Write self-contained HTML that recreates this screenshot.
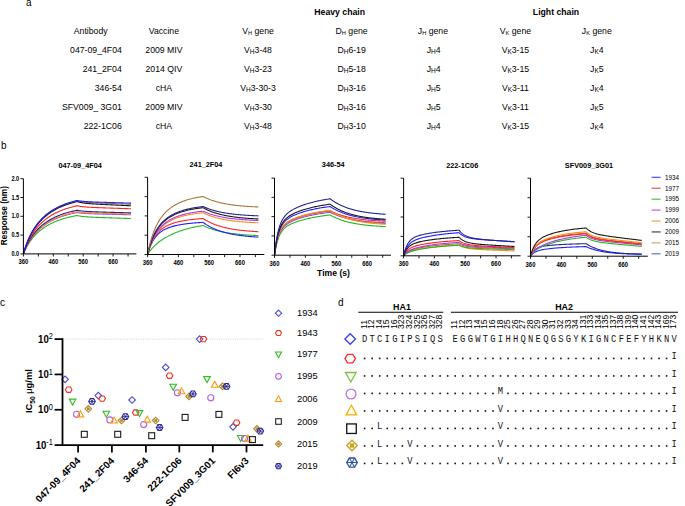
<!DOCTYPE html>
<html><head><meta charset="utf-8"><title>Figure</title>
<style>
html,body{margin:0;padding:0;background:#fff;}
body{width:685px;height:506px;overflow:hidden;}
svg{display:block;}
svg text{font-family:"Liberation Sans", sans-serif;}
</style></head><body>
<svg width="685" height="506" viewBox="0 0 685 506">
<rect width="685" height="506" fill="#fff"/>
<text x="26.00" y="5.70" font-size="10" text-anchor="start" font-weight="normal" fill="#000" >a</text>
<text x="339.70" y="15.20" font-size="8.7" text-anchor="middle" font-weight="bold" fill="#000" >Heavy chain</text>
<text x="556.00" y="15.20" font-size="8.7" text-anchor="middle" font-weight="bold" fill="#000" >Light chain</text>
<text x="90.70" y="34.30" font-size="8.7" text-anchor="middle" font-weight="normal" fill="#000" >Antibody</text>
<text x="163.90" y="34.30" font-size="8.7" text-anchor="middle" font-weight="normal" fill="#000" >Vaccine</text>
<text x="258.00" y="34.30" font-size="8.7" text-anchor="middle" font-weight="normal" fill="#000" >V<tspan font-size="5.7" dy="0.4">H</tspan><tspan dy="-0.4"> gene</tspan></text>
<text x="351.60" y="34.30" font-size="8.7" text-anchor="middle" font-weight="normal" fill="#000" >D<tspan font-size="5.7" dy="0.4">H</tspan><tspan dy="-0.4"> gene</tspan></text>
<text x="432.90" y="34.30" font-size="8.7" text-anchor="middle" font-weight="normal" fill="#000" >J<tspan font-size="5.7" dy="0.4">H</tspan><tspan dy="-0.4"> gene</tspan></text>
<text x="515.40" y="34.30" font-size="8.7" text-anchor="middle" font-weight="normal" fill="#000" >V<tspan font-size="5.7" dy="0.4">K</tspan><tspan dy="-0.4"> gene</tspan></text>
<text x="596.80" y="34.30" font-size="8.7" text-anchor="middle" font-weight="normal" fill="#000" >J<tspan font-size="5.7" dy="0.4">K</tspan><tspan dy="-0.4"> gene</tspan></text>
<text x="121.80" y="53.30" font-size="8.7" text-anchor="end" font-weight="normal" fill="#000" >047-09_4F04</text>
<text x="163.90" y="53.30" font-size="8.7" text-anchor="middle" font-weight="normal" fill="#000" >2009 MIV</text>
<text x="258.00" y="53.30" font-size="8.7" text-anchor="middle" font-weight="normal" fill="#000" >V<tspan font-size="6.5" dy="1.1">H</tspan><tspan dy="-1.1">3-48</tspan></text>
<text x="351.60" y="53.30" font-size="8.7" text-anchor="middle" font-weight="normal" fill="#000" >D<tspan font-size="6.5" dy="1.1">H</tspan><tspan dy="-1.1">6-19</tspan></text>
<text x="433.60" y="53.30" font-size="8.7" text-anchor="middle" font-weight="normal" fill="#000" >J<tspan font-size="6.5" dy="1.1">H</tspan><tspan dy="-1.1">4</tspan></text>
<text x="515.40" y="53.30" font-size="8.7" text-anchor="middle" font-weight="normal" fill="#000" >V<tspan font-size="6.5" dy="1.1">K</tspan><tspan dy="-1.1">3-15</tspan></text>
<text x="596.80" y="53.30" font-size="8.7" text-anchor="middle" font-weight="normal" fill="#000" >J<tspan font-size="6.5" dy="1.1">K</tspan><tspan dy="-1.1">4</tspan></text>
<text x="121.80" y="72.10" font-size="8.7" text-anchor="end" font-weight="normal" fill="#000" >241_2F04</text>
<text x="163.90" y="72.10" font-size="8.7" text-anchor="middle" font-weight="normal" fill="#000" >2014 QIV</text>
<text x="258.00" y="72.10" font-size="8.7" text-anchor="middle" font-weight="normal" fill="#000" >V<tspan font-size="6.5" dy="1.1">H</tspan><tspan dy="-1.1">3-23</tspan></text>
<text x="351.60" y="72.10" font-size="8.7" text-anchor="middle" font-weight="normal" fill="#000" >D<tspan font-size="6.5" dy="1.1">H</tspan><tspan dy="-1.1">5-18</tspan></text>
<text x="433.60" y="72.10" font-size="8.7" text-anchor="middle" font-weight="normal" fill="#000" >J<tspan font-size="6.5" dy="1.1">H</tspan><tspan dy="-1.1">4</tspan></text>
<text x="515.40" y="72.10" font-size="8.7" text-anchor="middle" font-weight="normal" fill="#000" >V<tspan font-size="6.5" dy="1.1">K</tspan><tspan dy="-1.1">3-15</tspan></text>
<text x="596.80" y="72.10" font-size="8.7" text-anchor="middle" font-weight="normal" fill="#000" >J<tspan font-size="6.5" dy="1.1">K</tspan><tspan dy="-1.1">5</tspan></text>
<text x="121.80" y="90.90" font-size="8.7" text-anchor="end" font-weight="normal" fill="#000" >346-54</text>
<text x="163.90" y="90.90" font-size="8.7" text-anchor="middle" font-weight="normal" fill="#000" >cHA</text>
<text x="258.00" y="90.90" font-size="8.7" text-anchor="middle" font-weight="normal" fill="#000" >V<tspan font-size="6.5" dy="1.1">H</tspan><tspan dy="-1.1">3-30-3</tspan></text>
<text x="351.60" y="90.90" font-size="8.7" text-anchor="middle" font-weight="normal" fill="#000" >D<tspan font-size="6.5" dy="1.1">H</tspan><tspan dy="-1.1">3-16</tspan></text>
<text x="433.60" y="90.90" font-size="8.7" text-anchor="middle" font-weight="normal" fill="#000" >J<tspan font-size="6.5" dy="1.1">H</tspan><tspan dy="-1.1">5</tspan></text>
<text x="515.40" y="90.90" font-size="8.7" text-anchor="middle" font-weight="normal" fill="#000" >V<tspan font-size="6.5" dy="1.1">K</tspan><tspan dy="-1.1">3-11</tspan></text>
<text x="596.80" y="90.90" font-size="8.7" text-anchor="middle" font-weight="normal" fill="#000" >J<tspan font-size="6.5" dy="1.1">K</tspan><tspan dy="-1.1">4</tspan></text>
<text x="121.80" y="109.80" font-size="8.7" text-anchor="end" font-weight="normal" fill="#000" >SFV009_ 3G01</text>
<text x="163.90" y="109.80" font-size="8.7" text-anchor="middle" font-weight="normal" fill="#000" >2009 MIV</text>
<text x="258.00" y="109.80" font-size="8.7" text-anchor="middle" font-weight="normal" fill="#000" >V<tspan font-size="6.5" dy="1.1">H</tspan><tspan dy="-1.1">3-30</tspan></text>
<text x="351.60" y="109.80" font-size="8.7" text-anchor="middle" font-weight="normal" fill="#000" >D<tspan font-size="6.5" dy="1.1">H</tspan><tspan dy="-1.1">3-16</tspan></text>
<text x="433.60" y="109.80" font-size="8.7" text-anchor="middle" font-weight="normal" fill="#000" >J<tspan font-size="6.5" dy="1.1">H</tspan><tspan dy="-1.1">5</tspan></text>
<text x="515.40" y="109.80" font-size="8.7" text-anchor="middle" font-weight="normal" fill="#000" >V<tspan font-size="6.5" dy="1.1">K</tspan><tspan dy="-1.1">3-11</tspan></text>
<text x="596.80" y="109.80" font-size="8.7" text-anchor="middle" font-weight="normal" fill="#000" >J<tspan font-size="6.5" dy="1.1">K</tspan><tspan dy="-1.1">5</tspan></text>
<text x="121.80" y="128.60" font-size="8.7" text-anchor="end" font-weight="normal" fill="#000" >222-1C06</text>
<text x="163.90" y="128.60" font-size="8.7" text-anchor="middle" font-weight="normal" fill="#000" >cHA</text>
<text x="258.00" y="128.60" font-size="8.7" text-anchor="middle" font-weight="normal" fill="#000" >V<tspan font-size="6.5" dy="1.1">H</tspan><tspan dy="-1.1">3-48</tspan></text>
<text x="351.60" y="128.60" font-size="8.7" text-anchor="middle" font-weight="normal" fill="#000" >D<tspan font-size="6.5" dy="1.1">H</tspan><tspan dy="-1.1">3-10</tspan></text>
<text x="433.60" y="128.60" font-size="8.7" text-anchor="middle" font-weight="normal" fill="#000" >J<tspan font-size="6.5" dy="1.1">H</tspan><tspan dy="-1.1">4</tspan></text>
<text x="515.40" y="128.60" font-size="8.7" text-anchor="middle" font-weight="normal" fill="#000" >V<tspan font-size="6.5" dy="1.1">K</tspan><tspan dy="-1.1">3-15</tspan></text>
<text x="596.80" y="128.60" font-size="8.7" text-anchor="middle" font-weight="normal" fill="#000" >J<tspan font-size="6.5" dy="1.1">K</tspan><tspan dy="-1.1">4</tspan></text>
<text x="1.00" y="149.00" font-size="10" text-anchor="start" font-weight="normal" fill="#000" >b</text>
<text x="80.10" y="168.40" font-size="7.3" text-anchor="middle" font-weight="bold" fill="#000" >047-09_4F04</text>
<path d="M23.40,253.90 L23.70,253.19 L24.00,252.49 L24.30,251.82 L24.60,251.16 L24.89,250.51 L25.19,249.89 L25.49,249.28 L25.79,248.68 L26.09,248.09 L26.39,247.53 L27.29,245.89 L28.18,244.37 L29.08,242.94 L29.98,241.60 L30.88,240.33 L31.77,239.14 L32.67,238.01 L33.57,236.95 L34.46,235.93 L35.36,234.97 L36.26,234.05 L37.15,233.18 L38.05,232.35 L38.95,231.55 L39.84,230.79 L40.74,230.07 L41.64,229.37 L42.54,228.70 L43.43,228.06 L44.33,227.45 L45.23,226.86 L46.12,226.29 L47.02,225.75 L47.92,225.23 L48.81,224.72 L49.71,224.24 L50.61,223.77 L51.51,223.33 L52.40,222.89 L53.30,222.48 L54.20,222.08 L55.09,221.69 L55.99,221.32 L56.89,220.96 L57.78,220.62 L58.68,220.29 L59.58,219.97 L60.48,219.66 L61.37,219.36 L62.27,219.07 L63.17,218.80 L64.06,218.53 L64.96,218.27 L65.86,218.02 L66.75,217.78 L67.65,217.55 L68.55,217.33 L69.45,217.12 L70.34,216.91 L71.24,216.71 L72.14,216.52 L73.03,216.33 L73.93,216.15 L74.83,215.98 L75.72,215.81 L76.62,215.65 L77.22,215.55 L77.82,215.68 L78.42,215.81 L79.01,215.92 L79.61,216.02 L80.21,216.12 L80.81,216.21 L81.41,216.29 L82.00,216.37 L82.60,216.44 L83.20,216.51 L83.80,216.57 L84.40,216.63 L84.99,216.68 L85.59,216.74 L86.19,216.78 L86.79,216.83 L87.39,216.87 L87.98,216.91 L88.58,216.95 L89.18,216.99 L89.78,217.03 L90.38,217.06 L90.97,217.09 L91.57,217.12 L92.17,217.15 L92.77,217.18 L93.37,217.21 L93.96,217.24 L94.56,217.27 L95.16,217.29 L95.76,217.32 L96.36,217.34 L96.95,217.37 L97.55,217.39 L98.15,217.42 L98.75,217.44 L99.35,217.46 L99.94,217.49 L100.54,217.51 L101.14,217.53 L101.74,217.55 L102.34,217.58 L102.93,217.60 L103.53,217.62 L104.13,217.64 L104.73,217.66 L105.33,217.68 L105.92,217.70 L106.52,217.73 L107.12,217.75 L107.72,217.77 L108.32,217.79 L108.91,217.81 L109.51,217.83 L110.11,217.85 L110.71,217.87 L111.31,217.89 L111.90,217.91 L112.50,217.93 L113.10,217.95 L113.70,217.97 L114.30,217.99 L114.89,218.01 L115.49,218.03 L116.09,218.05 L116.69,218.07 L117.29,218.09 L117.88,218.11 L118.48,218.13 L119.08,218.15 L119.68,218.17 L120.28,218.19 L120.87,218.21 L121.47,218.23 L122.07,218.25 L122.67,218.27 L123.27,218.29 L123.86,218.32 L124.46,218.34 L125.06,218.36 L125.66,218.38 L126.26,218.40 L126.85,218.42 L127.45,218.44 L128.05,218.46 L128.65,218.48 L129.25,218.50 L129.84,218.52 L130.44,218.54 L131.04,218.56" fill="none" stroke="#22b822" stroke-width="1.1" stroke-linejoin="round"/>
<path d="M23.40,253.90 L23.70,253.12 L24.00,252.35 L24.30,251.61 L24.60,250.88 L24.89,250.18 L25.19,249.49 L25.49,248.82 L25.79,248.17 L26.09,247.53 L26.39,246.91 L27.29,245.12 L28.18,243.46 L29.08,241.91 L29.98,240.45 L30.88,239.08 L31.77,237.79 L32.67,236.57 L33.57,235.42 L34.46,234.33 L35.36,233.29 L36.26,232.30 L37.15,231.37 L38.05,230.47 L38.95,229.62 L39.84,228.81 L40.74,228.03 L41.64,227.28 L42.54,226.57 L43.43,225.88 L44.33,225.23 L45.23,224.60 L46.12,223.99 L47.02,223.41 L47.92,222.85 L48.81,222.32 L49.71,221.80 L50.61,221.30 L51.51,220.82 L52.40,220.36 L53.30,219.92 L54.20,219.50 L55.09,219.08 L55.99,218.69 L56.89,218.31 L57.78,217.94 L58.68,217.59 L59.58,217.24 L60.48,216.92 L61.37,216.60 L62.27,216.29 L63.17,216.00 L64.06,215.71 L64.96,215.44 L65.86,215.18 L66.75,214.92 L67.65,214.67 L68.55,214.44 L69.45,214.21 L70.34,213.99 L71.24,213.78 L72.14,213.57 L73.03,213.37 L73.93,213.18 L74.83,213.00 L75.72,212.82 L76.62,212.65 L77.22,212.54 L77.82,212.64 L78.42,212.73 L79.01,212.82 L79.61,212.90 L80.21,212.97 L80.81,213.04 L81.41,213.10 L82.00,213.16 L82.60,213.21 L83.20,213.26 L83.80,213.31 L84.40,213.35 L84.99,213.39 L85.59,213.43 L86.19,213.47 L86.79,213.50 L87.39,213.53 L87.98,213.56 L88.58,213.59 L89.18,213.62 L89.78,213.65 L90.38,213.67 L90.97,213.70 L91.57,213.72 L92.17,213.74 L92.77,213.77 L93.37,213.79 L93.96,213.81 L94.56,213.83 L95.16,213.85 L95.76,213.87 L96.36,213.89 L96.95,213.91 L97.55,213.92 L98.15,213.94 L98.75,213.96 L99.35,213.98 L99.94,213.99 L100.54,214.01 L101.14,214.03 L101.74,214.04 L102.34,214.06 L102.93,214.08 L103.53,214.09 L104.13,214.11 L104.73,214.13 L105.33,214.14 L105.92,214.16 L106.52,214.17 L107.12,214.19 L107.72,214.20 L108.32,214.22 L108.91,214.24 L109.51,214.25 L110.11,214.27 L110.71,214.28 L111.31,214.30 L111.90,214.31 L112.50,214.33 L113.10,214.34 L113.70,214.36 L114.30,214.37 L114.89,214.39 L115.49,214.40 L116.09,214.42 L116.69,214.43 L117.29,214.45 L117.88,214.46 L118.48,214.48 L119.08,214.49 L119.68,214.51 L120.28,214.52 L120.87,214.54 L121.47,214.55 L122.07,214.57 L122.67,214.59 L123.27,214.60 L123.86,214.62 L124.46,214.63 L125.06,214.65 L125.66,214.66 L126.26,214.68 L126.85,214.69 L127.45,214.71 L128.05,214.72 L128.65,214.74 L129.25,214.75 L129.84,214.77 L130.44,214.78 L131.04,214.80" fill="none" stroke="#a83ce8" stroke-width="1.1" stroke-linejoin="round"/>
<path d="M23.40,253.90 L23.70,253.10 L24.00,252.32 L24.30,251.57 L24.60,250.83 L24.89,250.11 L25.19,249.41 L25.49,248.73 L25.79,248.06 L26.09,247.41 L26.39,246.78 L27.29,244.96 L28.18,243.27 L29.08,241.69 L29.98,240.21 L30.88,238.81 L31.77,237.50 L32.67,236.25 L33.57,235.08 L34.46,233.97 L35.36,232.91 L36.26,231.91 L37.15,230.96 L38.05,230.05 L38.95,229.18 L39.84,228.35 L40.74,227.56 L41.64,226.80 L42.54,226.07 L43.43,225.37 L44.33,224.70 L45.23,224.06 L46.12,223.45 L47.02,222.86 L47.92,222.29 L48.81,221.74 L49.71,221.22 L50.61,220.71 L51.51,220.22 L52.40,219.76 L53.30,219.30 L54.20,218.87 L55.09,218.45 L55.99,218.05 L56.89,217.66 L57.78,217.29 L58.68,216.93 L59.58,216.58 L60.48,216.24 L61.37,215.92 L62.27,215.61 L63.17,215.31 L64.06,215.02 L64.96,214.74 L65.86,214.47 L66.75,214.21 L67.65,213.96 L68.55,213.72 L69.45,213.49 L70.34,213.26 L71.24,213.05 L72.14,212.84 L73.03,212.64 L73.93,212.44 L74.83,212.26 L75.72,212.07 L76.62,211.90 L77.22,211.79 L77.82,211.89 L78.42,211.98 L79.01,212.07 L79.61,212.15 L80.21,212.22 L80.81,212.29 L81.41,212.35 L82.00,212.41 L82.60,212.46 L83.20,212.51 L83.80,212.56 L84.40,212.60 L84.99,212.64 L85.59,212.68 L86.19,212.71 L86.79,212.75 L87.39,212.78 L87.98,212.81 L88.58,212.84 L89.18,212.87 L89.78,212.90 L90.38,212.92 L90.97,212.95 L91.57,212.97 L92.17,212.99 L92.77,213.01 L93.37,213.04 L93.96,213.06 L94.56,213.08 L95.16,213.10 L95.76,213.12 L96.36,213.14 L96.95,213.15 L97.55,213.17 L98.15,213.19 L98.75,213.21 L99.35,213.22 L99.94,213.24 L100.54,213.26 L101.14,213.28 L101.74,213.29 L102.34,213.31 L102.93,213.32 L103.53,213.34 L104.13,213.36 L104.73,213.37 L105.33,213.39 L105.92,213.41 L106.52,213.42 L107.12,213.44 L107.72,213.45 L108.32,213.47 L108.91,213.48 L109.51,213.50 L110.11,213.51 L110.71,213.53 L111.31,213.54 L111.90,213.56 L112.50,213.58 L113.10,213.59 L113.70,213.61 L114.30,213.62 L114.89,213.64 L115.49,213.65 L116.09,213.67 L116.69,213.68 L117.29,213.70 L117.88,213.71 L118.48,213.73 L119.08,213.74 L119.68,213.76 L120.28,213.77 L120.87,213.79 L121.47,213.80 L122.07,213.82 L122.67,213.83 L123.27,213.85 L123.86,213.86 L124.46,213.88 L125.06,213.89 L125.66,213.91 L126.26,213.92 L126.85,213.94 L127.45,213.95 L128.05,213.97 L128.65,213.98 L129.25,214.00 L129.84,214.01 L130.44,214.03 L131.04,214.04" fill="none" stroke="#ff8a1e" stroke-width="1.1" stroke-linejoin="round"/>
<path d="M23.40,253.90 L23.70,252.85 L24.00,251.84 L24.30,250.85 L24.60,249.89 L24.89,248.95 L25.19,248.04 L25.49,247.15 L25.79,246.29 L26.09,245.45 L26.39,244.63 L27.29,242.29 L28.18,240.11 L29.08,238.09 L29.98,236.19 L30.88,234.42 L31.77,232.75 L32.67,231.18 L33.57,229.70 L34.46,228.30 L35.36,226.98 L36.26,225.72 L37.15,224.53 L38.05,223.40 L38.95,222.31 L39.84,221.28 L40.74,220.30 L41.64,219.36 L42.54,218.46 L43.43,217.59 L44.33,216.77 L45.23,215.98 L46.12,215.22 L47.02,214.49 L47.92,213.78 L48.81,213.11 L49.71,212.46 L50.61,211.84 L51.51,211.24 L52.40,210.67 L53.30,210.11 L54.20,209.58 L55.09,209.06 L55.99,208.57 L56.89,208.09 L57.78,207.63 L58.68,207.19 L59.58,206.76 L60.48,206.35 L61.37,205.95 L62.27,205.57 L63.17,205.20 L64.06,204.85 L64.96,204.51 L65.86,204.18 L66.75,203.86 L67.65,203.55 L68.55,203.25 L69.45,202.97 L70.34,202.69 L71.24,202.43 L72.14,202.17 L73.03,201.93 L73.93,201.69 L74.83,201.46 L75.72,201.24 L76.62,201.02 L77.22,200.88 L77.82,201.04 L78.42,201.17 L79.01,201.30 L79.61,201.42 L80.21,201.53 L80.81,201.63 L81.41,201.72 L82.00,201.81 L82.60,201.89 L83.20,201.97 L83.80,202.04 L84.40,202.10 L84.99,202.16 L85.59,202.22 L86.19,202.27 L86.79,202.33 L87.39,202.37 L87.98,202.42 L88.58,202.46 L89.18,202.51 L89.78,202.55 L90.38,202.58 L90.97,202.62 L91.57,202.66 L92.17,202.69 L92.77,202.72 L93.37,202.76 L93.96,202.79 L94.56,202.82 L95.16,202.85 L95.76,202.88 L96.36,202.90 L96.95,202.93 L97.55,202.96 L98.15,202.99 L98.75,203.01 L99.35,203.04 L99.94,203.06 L100.54,203.09 L101.14,203.12 L101.74,203.14 L102.34,203.16 L102.93,203.19 L103.53,203.21 L104.13,203.24 L104.73,203.26 L105.33,203.29 L105.92,203.31 L106.52,203.33 L107.12,203.36 L107.72,203.38 L108.32,203.40 L108.91,203.43 L109.51,203.45 L110.11,203.47 L110.71,203.50 L111.31,203.52 L111.90,203.54 L112.50,203.57 L113.10,203.59 L113.70,203.61 L114.30,203.63 L114.89,203.66 L115.49,203.68 L116.09,203.70 L116.69,203.72 L117.29,203.75 L117.88,203.77 L118.48,203.79 L119.08,203.82 L119.68,203.84 L120.28,203.86 L120.87,203.88 L121.47,203.91 L122.07,203.93 L122.67,203.95 L123.27,203.97 L123.86,204.00 L124.46,204.02 L125.06,204.04 L125.66,204.06 L126.26,204.09 L126.85,204.11 L127.45,204.13 L128.05,204.16 L128.65,204.18 L129.25,204.20 L129.84,204.22 L130.44,204.25 L131.04,204.27" fill="none" stroke="#a8783a" stroke-width="1.1" stroke-linejoin="round"/>
<path d="M23.40,253.90 L23.70,253.06 L24.00,252.23 L24.30,251.44 L24.60,250.66 L24.89,249.90 L25.19,249.16 L25.49,248.45 L25.79,247.75 L26.09,247.06 L26.39,246.40 L27.29,244.50 L28.18,242.73 L29.08,241.07 L29.98,239.52 L30.88,238.07 L31.77,236.71 L32.67,235.42 L33.57,234.20 L34.46,233.05 L35.36,231.96 L36.26,230.92 L37.15,229.94 L38.05,229.00 L38.95,228.10 L39.84,227.25 L40.74,226.44 L41.64,225.65 L42.54,224.91 L43.43,224.19 L44.33,223.51 L45.23,222.85 L46.12,222.22 L47.02,221.61 L47.92,221.03 L48.81,220.47 L49.71,219.93 L50.61,219.41 L51.51,218.91 L52.40,218.43 L53.30,217.97 L54.20,217.53 L55.09,217.10 L55.99,216.69 L56.89,216.29 L57.78,215.91 L58.68,215.54 L59.58,215.18 L60.48,214.84 L61.37,214.51 L62.27,214.19 L63.17,213.88 L64.06,213.59 L64.96,213.30 L65.86,213.03 L66.75,212.76 L67.65,212.51 L68.55,212.26 L69.45,212.02 L70.34,211.79 L71.24,211.57 L72.14,211.36 L73.03,211.15 L73.93,210.95 L74.83,210.76 L75.72,210.58 L76.62,210.40 L77.22,210.28 L77.82,210.40 L78.42,210.51 L79.01,210.61 L79.61,210.70 L80.21,210.79 L80.81,210.86 L81.41,210.94 L82.00,211.00 L82.60,211.07 L83.20,211.13 L83.80,211.18 L84.40,211.23 L84.99,211.28 L85.59,211.32 L86.19,211.37 L86.79,211.41 L87.39,211.44 L87.98,211.48 L88.58,211.51 L89.18,211.55 L89.78,211.58 L90.38,211.61 L90.97,211.63 L91.57,211.66 L92.17,211.69 L92.77,211.71 L93.37,211.74 L93.96,211.76 L94.56,211.79 L95.16,211.81 L95.76,211.83 L96.36,211.86 L96.95,211.88 L97.55,211.90 L98.15,211.92 L98.75,211.94 L99.35,211.96 L99.94,211.98 L100.54,212.00 L101.14,212.02 L101.74,212.04 L102.34,212.06 L102.93,212.08 L103.53,212.10 L104.13,212.11 L104.73,212.13 L105.33,212.15 L105.92,212.17 L106.52,212.19 L107.12,212.21 L107.72,212.23 L108.32,212.24 L108.91,212.26 L109.51,212.28 L110.11,212.30 L110.71,212.32 L111.31,212.33 L111.90,212.35 L112.50,212.37 L113.10,212.39 L113.70,212.40 L114.30,212.42 L114.89,212.44 L115.49,212.46 L116.09,212.48 L116.69,212.49 L117.29,212.51 L117.88,212.53 L118.48,212.55 L119.08,212.56 L119.68,212.58 L120.28,212.60 L120.87,212.62 L121.47,212.63 L122.07,212.65 L122.67,212.67 L123.27,212.69 L123.86,212.71 L124.46,212.72 L125.06,212.74 L125.66,212.76 L126.26,212.78 L126.85,212.79 L127.45,212.81 L128.05,212.83 L128.65,212.85 L129.25,212.86 L129.84,212.88 L130.44,212.90 L131.04,212.92" fill="none" stroke="#24248c" stroke-width="1.1" stroke-linejoin="round"/>
<path d="M23.40,253.90 L23.70,252.97 L24.00,252.06 L24.30,251.18 L24.60,250.32 L24.89,249.49 L25.19,248.67 L25.49,247.88 L25.79,247.11 L26.09,246.36 L26.39,245.62 L27.29,243.52 L28.18,241.57 L29.08,239.74 L29.98,238.04 L30.88,236.43 L31.77,234.93 L32.67,233.51 L33.57,232.16 L34.46,230.89 L35.36,229.69 L36.26,228.55 L37.15,227.46 L38.05,226.42 L38.95,225.44 L39.84,224.49 L40.74,223.59 L41.64,222.73 L42.54,221.91 L43.43,221.12 L44.33,220.36 L45.23,219.64 L46.12,218.94 L47.02,218.27 L47.92,217.63 L48.81,217.01 L49.71,216.42 L50.61,215.84 L51.51,215.29 L52.40,214.76 L53.30,214.26 L54.20,213.76 L55.09,213.29 L55.99,212.84 L56.89,212.40 L57.78,211.98 L58.68,211.57 L59.58,211.18 L60.48,210.80 L61.37,210.43 L62.27,210.08 L63.17,209.74 L64.06,209.42 L64.96,209.10 L65.86,208.80 L66.75,208.51 L67.65,208.22 L68.55,207.95 L69.45,207.69 L70.34,207.44 L71.24,207.19 L72.14,206.96 L73.03,206.73 L73.93,206.51 L74.83,206.30 L75.72,206.10 L76.62,205.90 L77.22,205.77 L77.82,205.91 L78.42,206.03 L79.01,206.14 L79.61,206.25 L80.21,206.35 L80.81,206.44 L81.41,206.52 L82.00,206.60 L82.60,206.67 L83.20,206.73 L83.80,206.80 L84.40,206.85 L84.99,206.91 L85.59,206.96 L86.19,207.01 L86.79,207.05 L87.39,207.10 L87.98,207.14 L88.58,207.18 L89.18,207.21 L89.78,207.25 L90.38,207.28 L90.97,207.32 L91.57,207.35 L92.17,207.38 L92.77,207.41 L93.37,207.44 L93.96,207.46 L94.56,207.49 L95.16,207.52 L95.76,207.54 L96.36,207.57 L96.95,207.59 L97.55,207.62 L98.15,207.64 L98.75,207.66 L99.35,207.69 L99.94,207.71 L100.54,207.73 L101.14,207.76 L101.74,207.78 L102.34,207.80 L102.93,207.82 L103.53,207.84 L104.13,207.86 L104.73,207.89 L105.33,207.91 L105.92,207.93 L106.52,207.95 L107.12,207.97 L107.72,207.99 L108.32,208.01 L108.91,208.03 L109.51,208.05 L110.11,208.07 L110.71,208.09 L111.31,208.11 L111.90,208.13 L112.50,208.16 L113.10,208.18 L113.70,208.20 L114.30,208.22 L114.89,208.24 L115.49,208.26 L116.09,208.28 L116.69,208.30 L117.29,208.32 L117.88,208.34 L118.48,208.36 L119.08,208.38 L119.68,208.40 L120.28,208.42 L120.87,208.44 L121.47,208.46 L122.07,208.48 L122.67,208.50 L123.27,208.52 L123.86,208.54 L124.46,208.56 L125.06,208.58 L125.66,208.60 L126.26,208.62 L126.85,208.64 L127.45,208.66 L128.05,208.68 L128.65,208.70 L129.25,208.72 L129.84,208.74 L130.44,208.76 L131.04,208.78" fill="none" stroke="#ff2222" stroke-width="1.1" stroke-linejoin="round"/>
<path d="M23.40,253.90 L23.70,252.87 L24.00,251.87 L24.30,250.89 L24.60,249.94 L24.89,249.02 L25.19,248.12 L25.49,247.25 L25.79,246.40 L26.09,245.57 L26.39,244.76 L27.29,242.45 L28.18,240.31 L29.08,238.31 L29.98,236.44 L30.88,234.69 L31.77,233.05 L32.67,231.50 L33.57,230.05 L34.46,228.67 L35.36,227.36 L36.26,226.12 L37.15,224.95 L38.05,223.83 L38.95,222.76 L39.84,221.75 L40.74,220.77 L41.64,219.85 L42.54,218.96 L43.43,218.11 L44.33,217.29 L45.23,216.51 L46.12,215.76 L47.02,215.04 L47.92,214.35 L48.81,213.69 L49.71,213.05 L50.61,212.44 L51.51,211.85 L52.40,211.28 L53.30,210.73 L54.20,210.21 L55.09,209.70 L55.99,209.21 L56.89,208.74 L57.78,208.29 L58.68,207.85 L59.58,207.43 L60.48,207.03 L61.37,206.63 L62.27,206.26 L63.17,205.89 L64.06,205.54 L64.96,205.21 L65.86,204.88 L66.75,204.57 L67.65,204.27 L68.55,203.97 L69.45,203.69 L70.34,203.42 L71.24,203.16 L72.14,202.91 L73.03,202.66 L73.93,202.43 L74.83,202.20 L75.72,201.98 L76.62,201.77 L77.22,201.64 L77.82,201.82 L78.42,201.99 L79.01,202.15 L79.61,202.29 L80.21,202.42 L80.81,202.55 L81.41,202.66 L82.00,202.77 L82.60,202.87 L83.20,202.96 L83.80,203.04 L84.40,203.12 L84.99,203.20 L85.59,203.27 L86.19,203.34 L86.79,203.40 L87.39,203.46 L87.98,203.51 L88.58,203.57 L89.18,203.62 L89.78,203.67 L90.38,203.71 L90.97,203.76 L91.57,203.80 L92.17,203.84 L92.77,203.88 L93.37,203.92 L93.96,203.96 L94.56,204.00 L95.16,204.04 L95.76,204.07 L96.36,204.11 L96.95,204.14 L97.55,204.17 L98.15,204.21 L98.75,204.24 L99.35,204.27 L99.94,204.30 L100.54,204.33 L101.14,204.36 L101.74,204.39 L102.34,204.42 L102.93,204.45 L103.53,204.48 L104.13,204.51 L104.73,204.54 L105.33,204.57 L105.92,204.60 L106.52,204.63 L107.12,204.66 L107.72,204.69 L108.32,204.72 L108.91,204.74 L109.51,204.77 L110.11,204.80 L110.71,204.83 L111.31,204.86 L111.90,204.88 L112.50,204.91 L113.10,204.94 L113.70,204.97 L114.30,205.00 L114.89,205.02 L115.49,205.05 L116.09,205.08 L116.69,205.11 L117.29,205.14 L117.88,205.16 L118.48,205.19 L119.08,205.22 L119.68,205.25 L120.28,205.27 L120.87,205.30 L121.47,205.33 L122.07,205.36 L122.67,205.39 L123.27,205.41 L123.86,205.44 L124.46,205.47 L125.06,205.50 L125.66,205.52 L126.26,205.55 L126.85,205.58 L127.45,205.61 L128.05,205.63 L128.65,205.66 L129.25,205.69 L129.84,205.72 L130.44,205.74 L131.04,205.77" fill="none" stroke="#1a1a1a" stroke-width="1.1" stroke-linejoin="round"/>
<path d="M23.40,253.90 L23.70,252.83 L24.00,251.78 L24.30,250.77 L24.60,249.78 L24.89,248.83 L25.19,247.89 L25.49,246.99 L25.79,246.10 L26.09,245.25 L26.39,244.41 L27.29,242.02 L28.18,239.81 L29.08,237.75 L29.98,235.83 L30.88,234.04 L31.77,232.35 L32.67,230.77 L33.57,229.28 L34.46,227.87 L35.36,226.54 L36.26,225.28 L37.15,224.08 L38.05,222.94 L38.95,221.86 L39.84,220.83 L40.74,219.84 L41.64,218.90 L42.54,218.00 L43.43,217.14 L44.33,216.32 L45.23,215.52 L46.12,214.77 L47.02,214.04 L47.92,213.34 L48.81,212.67 L49.71,212.03 L50.61,211.41 L51.51,210.81 L52.40,210.24 L53.30,209.68 L54.20,209.15 L55.09,208.64 L55.99,208.15 L56.89,207.67 L57.78,207.22 L58.68,206.78 L59.58,206.35 L60.48,205.94 L61.37,205.55 L62.27,205.17 L63.17,204.80 L64.06,204.45 L64.96,204.11 L65.86,203.78 L66.75,203.46 L67.65,203.16 L68.55,202.86 L69.45,202.58 L70.34,202.31 L71.24,202.04 L72.14,201.79 L73.03,201.54 L73.93,201.31 L74.83,201.08 L75.72,200.86 L76.62,200.65 L77.22,200.51 L77.82,200.63 L78.42,200.73 L79.01,200.83 L79.61,200.93 L80.21,201.01 L80.81,201.09 L81.41,201.16 L82.00,201.23 L82.60,201.29 L83.20,201.35 L83.80,201.40 L84.40,201.45 L84.99,201.50 L85.59,201.55 L86.19,201.59 L86.79,201.63 L87.39,201.67 L87.98,201.70 L88.58,201.74 L89.18,201.77 L89.78,201.80 L90.38,201.83 L90.97,201.86 L91.57,201.89 L92.17,201.91 L92.77,201.94 L93.37,201.96 L93.96,201.99 L94.56,202.01 L95.16,202.03 L95.76,202.06 L96.36,202.08 L96.95,202.10 L97.55,202.12 L98.15,202.14 L98.75,202.16 L99.35,202.18 L99.94,202.20 L100.54,202.22 L101.14,202.24 L101.74,202.26 L102.34,202.28 L102.93,202.30 L103.53,202.32 L104.13,202.34 L104.73,202.36 L105.33,202.38 L105.92,202.39 L106.52,202.41 L107.12,202.43 L107.72,202.45 L108.32,202.47 L108.91,202.49 L109.51,202.50 L110.11,202.52 L110.71,202.54 L111.31,202.56 L111.90,202.58 L112.50,202.59 L113.10,202.61 L113.70,202.63 L114.30,202.65 L114.89,202.66 L115.49,202.68 L116.09,202.70 L116.69,202.72 L117.29,202.74 L117.88,202.75 L118.48,202.77 L119.08,202.79 L119.68,202.81 L120.28,202.82 L120.87,202.84 L121.47,202.86 L122.07,202.88 L122.67,202.89 L123.27,202.91 L123.86,202.93 L124.46,202.95 L125.06,202.96 L125.66,202.98 L126.26,203.00 L126.85,203.02 L127.45,203.03 L128.05,203.05 L128.65,203.07 L129.25,203.09 L129.84,203.10 L130.44,203.12 L131.04,203.14" fill="none" stroke="#1f1fff" stroke-width="1.1" stroke-linejoin="round"/>
<path d="M23.40,178.70 V253.90 H136.40" fill="none" stroke="#000" stroke-width="1"/>
<line x1="20.40" y1="253.90" x2="23.40" y2="253.90" stroke="#000" stroke-width="0.9"/>
<text x="0" y="0" font-size="5.9" text-anchor="end" font-weight="bold" fill="#000" transform="translate(19.20 255.90) scale(0.95 1.12)">0.0</text>
<line x1="20.40" y1="235.10" x2="23.40" y2="235.10" stroke="#000" stroke-width="0.9"/>
<text x="0" y="0" font-size="5.9" text-anchor="end" font-weight="bold" fill="#000" transform="translate(19.20 237.10) scale(0.95 1.12)">0.5</text>
<line x1="20.40" y1="216.30" x2="23.40" y2="216.30" stroke="#000" stroke-width="0.9"/>
<text x="0" y="0" font-size="5.9" text-anchor="end" font-weight="bold" fill="#000" transform="translate(19.20 218.30) scale(0.95 1.12)">1.0</text>
<line x1="20.40" y1="197.50" x2="23.40" y2="197.50" stroke="#000" stroke-width="0.9"/>
<text x="0" y="0" font-size="5.9" text-anchor="end" font-weight="bold" fill="#000" transform="translate(19.20 199.50) scale(0.95 1.12)">1.5</text>
<line x1="20.40" y1="178.70" x2="23.40" y2="178.70" stroke="#000" stroke-width="0.9"/>
<text x="0" y="0" font-size="5.9" text-anchor="end" font-weight="bold" fill="#000" transform="translate(19.20 180.70) scale(0.95 1.12)">2.0</text>
<line x1="23.40" y1="253.90" x2="23.40" y2="256.50" stroke="#000" stroke-width="0.9"/>
<text x="0" y="0" font-size="5.9" text-anchor="middle" font-weight="bold" fill="#000" transform="translate(23.40 264.30) scale(1.0 1.15)">360</text>
<line x1="38.35" y1="253.90" x2="38.35" y2="256.50" stroke="#000" stroke-width="0.9"/>
<line x1="53.30" y1="253.90" x2="53.30" y2="256.50" stroke="#000" stroke-width="0.9"/>
<text x="0" y="0" font-size="5.9" text-anchor="middle" font-weight="bold" fill="#000" transform="translate(53.30 264.30) scale(1.0 1.15)">460</text>
<line x1="68.25" y1="253.90" x2="68.25" y2="256.50" stroke="#000" stroke-width="0.9"/>
<line x1="83.20" y1="253.90" x2="83.20" y2="256.50" stroke="#000" stroke-width="0.9"/>
<text x="0" y="0" font-size="5.9" text-anchor="middle" font-weight="bold" fill="#000" transform="translate(83.20 264.30) scale(1.0 1.15)">560</text>
<line x1="98.15" y1="253.90" x2="98.15" y2="256.50" stroke="#000" stroke-width="0.9"/>
<line x1="113.10" y1="253.90" x2="113.10" y2="256.50" stroke="#000" stroke-width="0.9"/>
<text x="0" y="0" font-size="5.9" text-anchor="middle" font-weight="bold" fill="#000" transform="translate(113.10 264.30) scale(1.0 1.15)">660</text>
<line x1="128.05" y1="253.90" x2="128.05" y2="256.50" stroke="#000" stroke-width="0.9"/>
<text x="206.00" y="166.80" font-size="7.3" text-anchor="middle" font-weight="bold" fill="#000" >241_2F04</text>
<path d="M147.60,254.50 L147.91,253.90 L148.22,253.42 L148.52,252.95 L148.83,252.51 L149.14,252.07 L149.45,251.65 L149.76,251.23 L150.06,250.83 L150.37,250.43 L150.68,250.05 L151.60,248.94 L152.53,247.89 L153.45,246.91 L154.38,245.98 L155.30,245.10 L156.22,244.26 L157.15,243.46 L158.07,242.70 L159.00,241.97 L159.92,241.28 L160.84,240.61 L161.77,239.97 L162.69,239.35 L163.62,238.76 L164.54,238.19 L165.46,237.64 L166.39,237.12 L167.31,236.61 L168.24,236.11 L169.16,235.64 L170.08,235.18 L171.01,234.73 L171.93,234.30 L172.86,233.88 L173.78,233.48 L174.70,233.09 L175.63,232.71 L176.55,232.34 L177.48,231.99 L178.40,231.65 L179.32,231.31 L180.25,230.99 L181.17,230.68 L182.10,230.37 L183.02,230.08 L183.94,229.79 L184.87,229.51 L185.79,229.25 L186.72,228.99 L187.64,228.73 L188.56,228.49 L189.49,228.25 L190.41,228.02 L191.34,227.79 L192.26,227.58 L193.18,227.37 L194.11,227.16 L195.03,226.96 L195.96,226.77 L196.88,226.58 L197.80,226.40 L198.73,226.23 L199.65,226.06 L200.58,225.89 L201.50,225.73 L202.42,225.57 L203.04,225.47 L203.66,225.78 L204.27,226.07 L204.89,226.36 L205.50,226.63 L206.12,226.91 L206.74,227.17 L207.35,227.43 L207.97,227.67 L208.58,227.92 L209.20,228.15 L209.82,228.38 L210.43,228.60 L211.05,228.82 L211.66,229.03 L212.28,229.23 L212.90,229.43 L213.51,229.63 L214.13,229.82 L214.74,230.00 L215.36,230.18 L215.98,230.35 L216.59,230.52 L217.21,230.68 L217.82,230.84 L218.44,231.00 L219.06,231.15 L219.67,231.29 L220.29,231.44 L220.90,231.57 L221.52,231.71 L222.14,231.84 L222.75,231.97 L223.37,232.09 L223.98,232.21 L224.60,232.33 L225.22,232.44 L225.83,232.55 L226.45,232.66 L227.06,232.76 L227.68,232.87 L228.30,232.96 L228.91,233.06 L229.53,233.15 L230.14,233.25 L230.76,233.33 L231.38,233.42 L231.99,233.50 L232.61,233.58 L233.22,233.66 L233.84,233.74 L234.46,233.82 L235.07,233.89 L235.69,233.96 L236.30,234.03 L236.92,234.09 L237.54,234.16 L238.15,234.22 L238.77,234.28 L239.38,234.34 L240.00,234.40 L240.62,234.46 L241.23,234.51 L241.85,234.57 L242.46,234.62 L243.08,234.67 L243.70,234.72 L244.31,234.77 L244.93,234.81 L245.54,234.86 L246.16,234.90 L246.78,234.94 L247.39,234.99 L248.01,235.03 L248.62,235.07 L249.24,235.10 L249.86,235.14 L250.47,235.18 L251.09,235.21 L251.70,235.25 L252.32,235.28 L252.94,235.31 L253.55,235.34 L254.17,235.37 L254.78,235.40 L255.40,235.43 L256.02,235.46 L256.63,235.49 L257.25,235.51 L257.86,235.54 L258.48,235.57" fill="none" stroke="#22b822" stroke-width="1.1" stroke-linejoin="round"/>
<path d="M147.60,254.50 L147.91,253.29 L148.22,252.25 L148.52,251.27 L148.83,250.33 L149.14,249.43 L149.45,248.57 L149.76,247.74 L150.06,246.95 L150.37,246.19 L150.68,245.46 L151.60,243.44 L152.53,241.64 L153.45,240.03 L154.38,238.60 L155.30,237.31 L156.22,236.15 L157.15,235.11 L158.07,234.17 L159.00,233.31 L159.92,232.54 L160.84,231.83 L161.77,231.18 L162.69,230.59 L163.62,230.04 L164.54,229.54 L165.46,229.08 L166.39,228.65 L167.31,228.25 L168.24,227.88 L169.16,227.53 L170.08,227.21 L171.01,226.91 L171.93,226.62 L172.86,226.36 L173.78,226.11 L174.70,225.87 L175.63,225.65 L176.55,225.44 L177.48,225.25 L178.40,225.06 L179.32,224.88 L180.25,224.71 L181.17,224.56 L182.10,224.40 L183.02,224.26 L183.94,224.12 L184.87,223.99 L185.79,223.87 L186.72,223.75 L187.64,223.64 L188.56,223.54 L189.49,223.43 L190.41,223.34 L191.34,223.25 L192.26,223.16 L193.18,223.07 L194.11,222.99 L195.03,222.92 L195.96,222.84 L196.88,222.78 L197.80,222.71 L198.73,222.65 L199.65,222.58 L200.58,222.53 L201.50,222.47 L202.42,222.42 L203.04,222.38 L203.66,222.83 L204.27,223.26 L204.89,223.68 L205.50,224.08 L206.12,224.48 L206.74,224.86 L207.35,225.24 L207.97,225.60 L208.58,225.95 L209.20,226.30 L209.82,226.63 L210.43,226.96 L211.05,227.27 L211.66,227.58 L212.28,227.88 L212.90,228.17 L213.51,228.45 L214.13,228.73 L214.74,229.00 L215.36,229.26 L215.98,229.51 L216.59,229.76 L217.21,230.00 L217.82,230.23 L218.44,230.45 L219.06,230.67 L219.67,230.89 L220.29,231.10 L220.90,231.30 L221.52,231.49 L222.14,231.69 L222.75,231.87 L223.37,232.05 L223.98,232.23 L224.60,232.40 L225.22,232.57 L225.83,232.73 L226.45,232.88 L227.06,233.04 L227.68,233.19 L228.30,233.33 L228.91,233.47 L229.53,233.61 L230.14,233.74 L230.76,233.87 L231.38,234.00 L231.99,234.12 L232.61,234.24 L233.22,234.35 L233.84,234.46 L234.46,234.57 L235.07,234.68 L235.69,234.78 L236.30,234.88 L236.92,234.98 L237.54,235.08 L238.15,235.17 L238.77,235.26 L239.38,235.35 L240.00,235.43 L240.62,235.51 L241.23,235.59 L241.85,235.67 L242.46,235.75 L243.08,235.82 L243.70,235.89 L244.31,235.96 L244.93,236.03 L245.54,236.10 L246.16,236.16 L246.78,236.22 L247.39,236.29 L248.01,236.34 L248.62,236.40 L249.24,236.46 L249.86,236.51 L250.47,236.56 L251.09,236.62 L251.70,236.67 L252.32,236.71 L252.94,236.76 L253.55,236.81 L254.17,236.85 L254.78,236.90 L255.40,236.94 L256.02,236.98 L256.63,237.02 L257.25,237.06 L257.86,237.10 L258.48,237.13" fill="none" stroke="#1f1fff" stroke-width="1.1" stroke-linejoin="round"/>
<path d="M147.60,254.50 L147.91,253.22 L148.22,252.12 L148.52,251.07 L148.83,250.07 L149.14,249.10 L149.45,248.18 L149.76,247.29 L150.06,246.44 L150.37,245.62 L150.68,244.83 L151.60,242.64 L152.53,240.69 L153.45,238.93 L154.38,237.36 L155.30,235.94 L156.22,234.65 L157.15,233.49 L158.07,232.43 L159.00,231.47 L159.92,230.59 L160.84,229.78 L161.77,229.04 L162.69,228.36 L163.62,227.73 L164.54,227.15 L165.46,226.60 L166.39,226.10 L167.31,225.63 L168.24,225.19 L169.16,224.78 L170.08,224.40 L171.01,224.04 L171.93,223.70 L172.86,223.38 L173.78,223.08 L174.70,222.80 L175.63,222.53 L176.55,222.28 L177.48,222.04 L178.40,221.81 L179.32,221.59 L180.25,221.39 L181.17,221.20 L182.10,221.01 L183.02,220.84 L183.94,220.67 L184.87,220.51 L185.79,220.36 L186.72,220.21 L187.64,220.08 L188.56,219.95 L189.49,219.82 L190.41,219.70 L191.34,219.59 L192.26,219.48 L193.18,219.38 L194.11,219.28 L195.03,219.18 L195.96,219.09 L196.88,219.01 L197.80,218.93 L198.73,218.85 L199.65,218.77 L200.58,218.70 L201.50,218.63 L202.42,218.57 L203.04,218.52 L203.66,218.92 L204.27,219.31 L204.89,219.68 L205.50,220.04 L206.12,220.40 L206.74,220.74 L207.35,221.08 L207.97,221.40 L208.58,221.72 L209.20,222.02 L209.82,222.32 L210.43,222.61 L211.05,222.90 L211.66,223.17 L212.28,223.44 L212.90,223.70 L213.51,223.95 L214.13,224.20 L214.74,224.44 L215.36,224.67 L215.98,224.90 L216.59,225.12 L217.21,225.33 L217.82,225.54 L218.44,225.74 L219.06,225.94 L219.67,226.13 L220.29,226.31 L220.90,226.49 L221.52,226.67 L222.14,226.84 L222.75,227.01 L223.37,227.17 L223.98,227.33 L224.60,227.48 L225.22,227.63 L225.83,227.77 L226.45,227.91 L227.06,228.05 L227.68,228.18 L228.30,228.31 L228.91,228.44 L229.53,228.56 L230.14,228.68 L230.76,228.79 L231.38,228.91 L231.99,229.02 L232.61,229.12 L233.22,229.22 L233.84,229.33 L234.46,229.42 L235.07,229.52 L235.69,229.61 L236.30,229.70 L236.92,229.79 L237.54,229.87 L238.15,229.95 L238.77,230.04 L239.38,230.11 L240.00,230.19 L240.62,230.26 L241.23,230.33 L241.85,230.40 L242.46,230.47 L243.08,230.54 L243.70,230.60 L244.31,230.66 L244.93,230.73 L245.54,230.78 L246.16,230.84 L246.78,230.90 L247.39,230.95 L248.01,231.00 L248.62,231.06 L249.24,231.11 L249.86,231.15 L250.47,231.20 L251.09,231.25 L251.70,231.29 L252.32,231.34 L252.94,231.38 L253.55,231.42 L254.17,231.46 L254.78,231.50 L255.40,231.54 L256.02,231.57 L256.63,231.61 L257.25,231.64 L257.86,231.68 L258.48,231.71" fill="none" stroke="#ff2222" stroke-width="1.1" stroke-linejoin="round"/>
<path d="M147.60,254.50 L147.91,253.23 L148.22,252.12 L148.52,251.06 L148.83,250.04 L149.14,249.06 L149.45,248.12 L149.76,247.20 L150.06,246.32 L150.37,245.47 L150.68,244.65 L151.60,242.35 L152.53,240.26 L153.45,238.36 L154.38,236.63 L155.30,235.05 L156.22,233.60 L157.15,232.26 L158.07,231.03 L159.00,229.90 L159.92,228.85 L160.84,227.87 L161.77,226.96 L162.69,226.11 L163.62,225.32 L164.54,224.58 L165.46,223.89 L166.39,223.24 L167.31,222.63 L168.24,222.05 L169.16,221.50 L170.08,220.99 L171.01,220.51 L171.93,220.05 L172.86,219.61 L173.78,219.20 L174.70,218.81 L175.63,218.44 L176.55,218.09 L177.48,217.75 L178.40,217.43 L179.32,217.13 L180.25,216.84 L181.17,216.57 L182.10,216.30 L183.02,216.05 L183.94,215.82 L184.87,215.59 L185.79,215.37 L186.72,215.17 L187.64,214.97 L188.56,214.78 L189.49,214.60 L190.41,214.43 L191.34,214.27 L192.26,214.11 L193.18,213.96 L194.11,213.82 L195.03,213.69 L195.96,213.56 L196.88,213.43 L197.80,213.31 L198.73,213.20 L199.65,213.09 L200.58,212.99 L201.50,212.89 L202.42,212.80 L203.04,212.73 L203.66,213.04 L204.27,213.33 L204.89,213.62 L205.50,213.90 L206.12,214.17 L206.74,214.43 L207.35,214.68 L207.97,214.93 L208.58,215.17 L209.20,215.41 L209.82,215.64 L210.43,215.86 L211.05,216.08 L211.66,216.29 L212.28,216.49 L212.90,216.69 L213.51,216.88 L214.13,217.07 L214.74,217.25 L215.36,217.43 L215.98,217.60 L216.59,217.77 L217.21,217.94 L217.82,218.09 L218.44,218.25 L219.06,218.40 L219.67,218.54 L220.29,218.69 L220.90,218.82 L221.52,218.96 L222.14,219.09 L222.75,219.22 L223.37,219.34 L223.98,219.46 L224.60,219.58 L225.22,219.69 L225.83,219.80 L226.45,219.91 L227.06,220.01 L227.68,220.11 L228.30,220.21 L228.91,220.31 L229.53,220.40 L230.14,220.49 L230.76,220.58 L231.38,220.67 L231.99,220.75 L232.61,220.83 L233.22,220.91 L233.84,220.99 L234.46,221.06 L235.07,221.13 L235.69,221.21 L236.30,221.27 L236.92,221.34 L237.54,221.41 L238.15,221.47 L238.77,221.53 L239.38,221.59 L240.00,221.65 L240.62,221.70 L241.23,221.76 L241.85,221.81 L242.46,221.86 L243.08,221.91 L243.70,221.96 L244.31,222.01 L244.93,222.06 L245.54,222.10 L246.16,222.15 L246.78,222.19 L247.39,222.23 L248.01,222.27 L248.62,222.31 L249.24,222.35 L249.86,222.38 L250.47,222.42 L251.09,222.46 L251.70,222.49 L252.32,222.52 L252.94,222.56 L253.55,222.59 L254.17,222.62 L254.78,222.65 L255.40,222.68 L256.02,222.70 L256.63,222.73 L257.25,222.76 L257.86,222.78 L258.48,222.81" fill="none" stroke="#ff8a1e" stroke-width="1.1" stroke-linejoin="round"/>
<path d="M147.60,254.50 L147.91,253.19 L148.22,252.04 L148.52,250.94 L148.83,249.88 L149.14,248.87 L149.45,247.89 L149.76,246.94 L150.06,246.03 L150.37,245.15 L150.68,244.30 L151.60,241.91 L152.53,239.74 L153.45,237.77 L154.38,235.97 L155.30,234.33 L156.22,232.83 L157.15,231.45 L158.07,230.17 L159.00,228.99 L159.92,227.90 L160.84,226.89 L161.77,225.95 L162.69,225.07 L163.62,224.25 L164.54,223.48 L165.46,222.76 L166.39,222.08 L167.31,221.45 L168.24,220.85 L169.16,220.29 L170.08,219.75 L171.01,219.25 L171.93,218.77 L172.86,218.32 L173.78,217.90 L174.70,217.49 L175.63,217.11 L176.55,216.74 L177.48,216.39 L178.40,216.06 L179.32,215.75 L180.25,215.45 L181.17,215.16 L182.10,214.89 L183.02,214.63 L183.94,214.39 L184.87,214.15 L185.79,213.93 L186.72,213.71 L187.64,213.51 L188.56,213.32 L189.49,213.13 L190.41,212.95 L191.34,212.78 L192.26,212.62 L193.18,212.47 L194.11,212.32 L195.03,212.18 L195.96,212.04 L196.88,211.91 L197.80,211.79 L198.73,211.67 L199.65,211.56 L200.58,211.45 L201.50,211.35 L202.42,211.25 L203.04,211.19 L203.66,211.47 L204.27,211.74 L204.89,212.01 L205.50,212.26 L206.12,212.51 L206.74,212.75 L207.35,212.99 L207.97,213.22 L208.58,213.44 L209.20,213.66 L209.82,213.87 L210.43,214.08 L211.05,214.27 L211.66,214.47 L212.28,214.66 L212.90,214.84 L213.51,215.02 L214.13,215.19 L214.74,215.36 L215.36,215.53 L215.98,215.68 L216.59,215.84 L217.21,215.99 L217.82,216.14 L218.44,216.28 L219.06,216.42 L219.67,216.55 L220.29,216.68 L220.90,216.81 L221.52,216.94 L222.14,217.06 L222.75,217.17 L223.37,217.29 L223.98,217.40 L224.60,217.51 L225.22,217.61 L225.83,217.71 L226.45,217.81 L227.06,217.91 L227.68,218.00 L228.30,218.09 L228.91,218.18 L229.53,218.27 L230.14,218.35 L230.76,218.43 L231.38,218.51 L231.99,218.59 L232.61,218.66 L233.22,218.74 L233.84,218.81 L234.46,218.88 L235.07,218.94 L235.69,219.01 L236.30,219.07 L236.92,219.13 L237.54,219.19 L238.15,219.25 L238.77,219.31 L239.38,219.36 L240.00,219.42 L240.62,219.47 L241.23,219.52 L241.85,219.57 L242.46,219.62 L243.08,219.66 L243.70,219.71 L244.31,219.75 L244.93,219.79 L245.54,219.84 L246.16,219.88 L246.78,219.92 L247.39,219.95 L248.01,219.99 L248.62,220.03 L249.24,220.06 L249.86,220.10 L250.47,220.13 L251.09,220.16 L251.70,220.19 L252.32,220.22 L252.94,220.25 L253.55,220.28 L254.17,220.31 L254.78,220.34 L255.40,220.37 L256.02,220.39 L256.63,220.42 L257.25,220.44 L257.86,220.46 L258.48,220.49" fill="none" stroke="#a83ce8" stroke-width="1.1" stroke-linejoin="round"/>
<path d="M147.60,254.50 L147.91,253.09 L148.22,251.85 L148.52,250.67 L148.83,249.53 L149.14,248.43 L149.45,247.37 L149.76,246.35 L150.06,245.36 L150.37,244.41 L150.68,243.49 L151.60,240.91 L152.53,238.57 L153.45,236.44 L154.38,234.50 L155.30,232.73 L156.22,231.10 L157.15,229.61 L158.07,228.23 L159.00,226.96 L159.92,225.78 L160.84,224.68 L161.77,223.66 L162.69,222.72 L163.62,221.83 L164.54,221.00 L165.46,220.22 L166.39,219.49 L167.31,218.80 L168.24,218.16 L169.16,217.55 L170.08,216.97 L171.01,216.43 L171.93,215.91 L172.86,215.43 L173.78,214.96 L174.70,214.53 L175.63,214.11 L176.55,213.72 L177.48,213.34 L178.40,212.98 L179.32,212.64 L180.25,212.32 L181.17,212.01 L182.10,211.72 L183.02,211.44 L183.94,211.17 L184.87,210.92 L185.79,210.68 L186.72,210.44 L187.64,210.22 L188.56,210.01 L189.49,209.81 L190.41,209.62 L191.34,209.44 L192.26,209.26 L193.18,209.10 L194.11,208.94 L195.03,208.78 L195.96,208.64 L196.88,208.50 L197.80,208.37 L198.73,208.24 L199.65,208.12 L200.58,208.00 L201.50,207.89 L202.42,207.78 L203.04,207.72 L203.66,208.05 L204.27,208.38 L204.89,208.70 L205.50,209.01 L206.12,209.31 L206.74,209.61 L207.35,209.89 L207.97,210.17 L208.58,210.44 L209.20,210.70 L209.82,210.95 L210.43,211.20 L211.05,211.44 L211.66,211.68 L212.28,211.90 L212.90,212.13 L213.51,212.34 L214.13,212.55 L214.74,212.75 L215.36,212.95 L215.98,213.15 L216.59,213.33 L217.21,213.52 L217.82,213.69 L218.44,213.86 L219.06,214.03 L219.67,214.19 L220.29,214.35 L220.90,214.51 L221.52,214.66 L222.14,214.80 L222.75,214.94 L223.37,215.08 L223.98,215.22 L224.60,215.35 L225.22,215.47 L225.83,215.60 L226.45,215.72 L227.06,215.83 L227.68,215.94 L228.30,216.05 L228.91,216.16 L229.53,216.27 L230.14,216.37 L230.76,216.47 L231.38,216.56 L231.99,216.65 L232.61,216.74 L233.22,216.83 L233.84,216.92 L234.46,217.00 L235.07,217.08 L235.69,217.16 L236.30,217.24 L236.92,217.31 L237.54,217.38 L238.15,217.45 L238.77,217.52 L239.38,217.59 L240.00,217.65 L240.62,217.72 L241.23,217.78 L241.85,217.84 L242.46,217.89 L243.08,217.95 L243.70,218.01 L244.31,218.06 L244.93,218.11 L245.54,218.16 L246.16,218.21 L246.78,218.26 L247.39,218.30 L248.01,218.35 L248.62,218.39 L249.24,218.43 L249.86,218.48 L250.47,218.52 L251.09,218.56 L251.70,218.59 L252.32,218.63 L252.94,218.67 L253.55,218.70 L254.17,218.73 L254.78,218.77 L255.40,218.80 L256.02,218.83 L256.63,218.86 L257.25,218.89 L257.86,218.92 L258.48,218.95" fill="none" stroke="#1a1a1a" stroke-width="1.1" stroke-linejoin="round"/>
<path d="M147.60,254.50 L147.91,253.06 L148.22,251.79 L148.52,250.58 L148.83,249.41 L149.14,248.29 L149.45,247.20 L149.76,246.15 L150.06,245.14 L150.37,244.17 L150.68,243.22 L151.60,240.58 L152.53,238.18 L153.45,236.00 L154.38,234.01 L155.30,232.19 L156.22,230.53 L157.15,228.99 L158.07,227.58 L159.00,226.28 L159.92,225.07 L160.84,223.95 L161.77,222.90 L162.69,221.93 L163.62,221.02 L164.54,220.17 L165.46,219.37 L166.39,218.63 L167.31,217.92 L168.24,217.26 L169.16,216.64 L170.08,216.05 L171.01,215.49 L171.93,214.96 L172.86,214.46 L173.78,213.99 L174.70,213.54 L175.63,213.11 L176.55,212.71 L177.48,212.32 L178.40,211.96 L179.32,211.61 L180.25,211.28 L181.17,210.96 L182.10,210.66 L183.02,210.37 L183.94,210.10 L184.87,209.84 L185.79,209.59 L186.72,209.35 L187.64,209.13 L188.56,208.91 L189.49,208.71 L190.41,208.51 L191.34,208.32 L192.26,208.14 L193.18,207.97 L194.11,207.81 L195.03,207.65 L195.96,207.50 L196.88,207.36 L197.80,207.22 L198.73,207.09 L199.65,206.97 L200.58,206.85 L201.50,206.74 L202.42,206.63 L203.04,206.56 L203.66,206.84 L204.27,207.11 L204.89,207.37 L205.50,207.63 L206.12,207.88 L206.74,208.12 L207.35,208.36 L207.97,208.59 L208.58,208.81 L209.20,209.03 L209.82,209.24 L210.43,209.44 L211.05,209.64 L211.66,209.84 L212.28,210.02 L212.90,210.21 L213.51,210.39 L214.13,210.56 L214.74,210.73 L215.36,210.89 L215.98,211.05 L216.59,211.21 L217.21,211.36 L217.82,211.50 L218.44,211.65 L219.06,211.78 L219.67,211.92 L220.29,212.05 L220.90,212.18 L221.52,212.30 L222.14,212.42 L222.75,212.54 L223.37,212.65 L223.98,212.76 L224.60,212.87 L225.22,212.98 L225.83,213.08 L226.45,213.18 L227.06,213.27 L227.68,213.37 L228.30,213.46 L228.91,213.55 L229.53,213.63 L230.14,213.72 L230.76,213.80 L231.38,213.88 L231.99,213.95 L232.61,214.03 L233.22,214.10 L233.84,214.17 L234.46,214.24 L235.07,214.31 L235.69,214.37 L236.30,214.44 L236.92,214.50 L237.54,214.56 L238.15,214.62 L238.77,214.67 L239.38,214.73 L240.00,214.78 L240.62,214.83 L241.23,214.88 L241.85,214.93 L242.46,214.98 L243.08,215.03 L243.70,215.07 L244.31,215.12 L244.93,215.16 L245.54,215.20 L246.16,215.24 L246.78,215.28 L247.39,215.32 L248.01,215.36 L248.62,215.39 L249.24,215.43 L249.86,215.46 L250.47,215.49 L251.09,215.53 L251.70,215.56 L252.32,215.59 L252.94,215.62 L253.55,215.65 L254.17,215.68 L254.78,215.70 L255.40,215.73 L256.02,215.76 L256.63,215.78 L257.25,215.81 L257.86,215.83 L258.48,215.85" fill="none" stroke="#24248c" stroke-width="1.1" stroke-linejoin="round"/>
<path d="M147.60,254.50 L147.91,252.83 L148.22,251.34 L148.52,249.90 L148.83,248.53 L149.14,247.20 L149.45,245.91 L149.76,244.67 L150.06,243.47 L150.37,242.31 L150.68,241.19 L151.60,238.04 L152.53,235.18 L153.45,232.57 L154.38,230.19 L155.30,228.00 L156.22,226.00 L157.15,224.14 L158.07,222.44 L159.00,220.85 L159.92,219.38 L160.84,218.02 L161.77,216.74 L162.69,215.55 L163.62,214.44 L164.54,213.40 L165.46,212.42 L166.39,211.50 L167.31,210.63 L168.24,209.82 L169.16,209.05 L170.08,208.32 L171.01,207.63 L171.93,206.97 L172.86,206.36 L173.78,205.77 L174.70,205.21 L175.63,204.68 L176.55,204.18 L177.48,203.70 L178.40,203.25 L179.32,202.81 L180.25,202.40 L181.17,202.01 L182.10,201.63 L183.02,201.28 L183.94,200.94 L184.87,200.61 L185.79,200.30 L186.72,200.01 L187.64,199.73 L188.56,199.46 L189.49,199.20 L190.41,198.96 L191.34,198.72 L192.26,198.50 L193.18,198.29 L194.11,198.08 L195.03,197.89 L195.96,197.70 L196.88,197.52 L197.80,197.35 L198.73,197.19 L199.65,197.04 L200.58,196.89 L201.50,196.75 L202.42,196.61 L203.04,196.52 L203.66,196.84 L204.27,197.14 L204.89,197.44 L205.50,197.73 L206.12,198.01 L206.74,198.28 L207.35,198.55 L207.97,198.80 L208.58,199.05 L209.20,199.30 L209.82,199.53 L210.43,199.77 L211.05,199.99 L211.66,200.21 L212.28,200.42 L212.90,200.63 L213.51,200.83 L214.13,201.02 L214.74,201.21 L215.36,201.39 L215.98,201.57 L216.59,201.75 L217.21,201.92 L217.82,202.08 L218.44,202.24 L219.06,202.40 L219.67,202.55 L220.29,202.70 L220.90,202.84 L221.52,202.98 L222.14,203.12 L222.75,203.25 L223.37,203.38 L223.98,203.50 L224.60,203.62 L225.22,203.74 L225.83,203.85 L226.45,203.96 L227.06,204.07 L227.68,204.18 L228.30,204.28 L228.91,204.38 L229.53,204.48 L230.14,204.57 L230.76,204.66 L231.38,204.75 L231.99,204.84 L232.61,204.92 L233.22,205.00 L233.84,205.08 L234.46,205.16 L235.07,205.24 L235.69,205.31 L236.30,205.38 L236.92,205.45 L237.54,205.52 L238.15,205.58 L238.77,205.65 L239.38,205.71 L240.00,205.77 L240.62,205.83 L241.23,205.88 L241.85,205.94 L242.46,205.99 L243.08,206.04 L243.70,206.10 L244.31,206.15 L244.93,206.19 L245.54,206.24 L246.16,206.29 L246.78,206.33 L247.39,206.37 L248.01,206.41 L248.62,206.45 L249.24,206.49 L249.86,206.53 L250.47,206.57 L251.09,206.61 L251.70,206.64 L252.32,206.68 L252.94,206.71 L253.55,206.74 L254.17,206.77 L254.78,206.80 L255.40,206.83 L256.02,206.86 L256.63,206.89 L257.25,206.92 L257.86,206.95 L258.48,206.97" fill="none" stroke="#a8783a" stroke-width="1.1" stroke-linejoin="round"/>
<path d="M147.60,177.30 V254.50 H264.30" fill="none" stroke="#000" stroke-width="1"/>
<line x1="144.60" y1="254.50" x2="147.60" y2="254.50" stroke="#000" stroke-width="0.9"/>
<line x1="144.60" y1="235.20" x2="147.60" y2="235.20" stroke="#000" stroke-width="0.9"/>
<line x1="144.60" y1="215.90" x2="147.60" y2="215.90" stroke="#000" stroke-width="0.9"/>
<line x1="144.60" y1="196.60" x2="147.60" y2="196.60" stroke="#000" stroke-width="0.9"/>
<line x1="144.60" y1="177.30" x2="147.60" y2="177.30" stroke="#000" stroke-width="0.9"/>
<line x1="147.60" y1="254.50" x2="147.60" y2="257.10" stroke="#000" stroke-width="0.9"/>
<text x="0" y="0" font-size="5.9" text-anchor="middle" font-weight="bold" fill="#000" transform="translate(147.60 264.90) scale(1.0 1.15)">360</text>
<line x1="163.00" y1="254.50" x2="163.00" y2="257.10" stroke="#000" stroke-width="0.9"/>
<line x1="178.40" y1="254.50" x2="178.40" y2="257.10" stroke="#000" stroke-width="0.9"/>
<text x="0" y="0" font-size="5.9" text-anchor="middle" font-weight="bold" fill="#000" transform="translate(178.40 264.90) scale(1.0 1.15)">460</text>
<line x1="193.80" y1="254.50" x2="193.80" y2="257.10" stroke="#000" stroke-width="0.9"/>
<line x1="209.20" y1="254.50" x2="209.20" y2="257.10" stroke="#000" stroke-width="0.9"/>
<text x="0" y="0" font-size="5.9" text-anchor="middle" font-weight="bold" fill="#000" transform="translate(209.20 264.90) scale(1.0 1.15)">560</text>
<line x1="224.60" y1="254.50" x2="224.60" y2="257.10" stroke="#000" stroke-width="0.9"/>
<line x1="240.00" y1="254.50" x2="240.00" y2="257.10" stroke="#000" stroke-width="0.9"/>
<text x="0" y="0" font-size="5.9" text-anchor="middle" font-weight="bold" fill="#000" transform="translate(240.00 264.90) scale(1.0 1.15)">660</text>
<line x1="255.40" y1="254.50" x2="255.40" y2="257.10" stroke="#000" stroke-width="0.9"/>
<text x="333.20" y="167.30" font-size="7.3" text-anchor="middle" font-weight="bold" fill="#000" >346-54</text>
<path d="M274.50,255.20 L274.81,252.78 L275.12,250.67 L275.43,248.72 L275.74,246.91 L276.05,245.23 L276.35,243.67 L276.66,242.21 L276.97,240.86 L277.28,239.59 L277.59,238.41 L278.52,235.32 L279.44,232.78 L280.37,230.68 L281.30,228.93 L282.23,227.46 L283.15,226.21 L284.08,225.13 L285.01,224.20 L285.93,223.38 L286.86,222.65 L287.79,222.00 L288.71,221.41 L289.64,220.86 L290.57,220.37 L291.50,219.90 L292.42,219.47 L293.35,219.06 L294.28,218.67 L295.20,218.30 L296.13,217.95 L297.06,217.62 L297.98,217.30 L298.91,216.99 L299.84,216.69 L300.76,216.40 L301.69,216.12 L302.62,215.86 L303.55,215.60 L304.47,215.35 L305.40,215.10 L306.33,214.87 L307.25,214.64 L308.18,214.42 L309.11,214.21 L310.03,214.00 L310.96,213.80 L311.89,213.60 L312.82,213.41 L313.74,213.23 L314.67,213.05 L315.60,212.88 L316.52,212.71 L317.45,212.55 L318.38,212.39 L319.31,212.24 L320.23,212.09 L321.16,211.94 L322.09,211.80 L323.01,211.67 L323.94,211.54 L324.87,211.41 L325.79,211.28 L326.72,211.16 L327.65,211.05 L328.57,210.93 L329.50,210.82 L330.12,210.75 L330.74,211.07 L331.36,211.37 L331.97,211.67 L332.59,211.96 L333.21,212.24 L333.83,212.51 L334.45,212.77 L335.06,213.03 L335.68,213.28 L336.30,213.53 L336.92,213.76 L337.54,213.99 L338.15,214.22 L338.77,214.44 L339.39,214.65 L340.01,214.85 L340.63,215.05 L341.24,215.25 L341.86,215.44 L342.48,215.62 L343.10,215.80 L343.72,215.98 L344.33,216.15 L344.95,216.31 L345.57,216.47 L346.19,216.63 L346.81,216.78 L347.42,216.93 L348.04,217.07 L348.66,217.21 L349.28,217.34 L349.90,217.47 L350.51,217.60 L351.13,217.73 L351.75,217.85 L352.37,217.97 L352.99,218.08 L353.60,218.19 L354.22,218.30 L354.84,218.41 L355.46,218.51 L356.08,218.61 L356.69,218.70 L357.31,218.80 L357.93,218.89 L358.55,218.98 L359.17,219.07 L359.78,219.15 L360.40,219.23 L361.02,219.31 L361.64,219.39 L362.26,219.46 L362.87,219.54 L363.49,219.61 L364.11,219.68 L364.73,219.74 L365.35,219.81 L365.96,219.87 L366.58,219.94 L367.20,220.00 L367.82,220.05 L368.44,220.11 L369.05,220.17 L369.67,220.22 L370.29,220.27 L370.91,220.32 L371.53,220.37 L372.14,220.42 L372.76,220.47 L373.38,220.51 L374.00,220.56 L374.62,220.60 L375.23,220.64 L375.85,220.68 L376.47,220.72 L377.09,220.76 L377.71,220.80 L378.32,220.83 L378.94,220.87 L379.56,220.90 L380.18,220.94 L380.80,220.97 L381.41,221.00 L382.03,221.03 L382.65,221.06 L383.27,221.09 L383.89,221.12 L384.50,221.15 L385.12,221.17 L385.74,221.20" fill="none" stroke="#ff2222" stroke-width="1.1" stroke-linejoin="round"/>
<path d="M274.50,255.20 L274.81,253.07 L275.12,251.23 L275.43,249.53 L275.74,247.95 L276.05,246.48 L276.35,245.12 L276.66,243.84 L276.97,242.66 L277.28,241.55 L277.59,240.51 L278.52,237.79 L279.44,235.54 L280.37,233.68 L281.30,232.12 L282.23,230.80 L283.15,229.67 L284.08,228.69 L285.01,227.84 L285.93,227.08 L286.86,226.41 L287.79,225.80 L288.71,225.25 L289.64,224.74 L290.57,224.27 L291.50,223.83 L292.42,223.41 L293.35,223.02 L294.28,222.65 L295.20,222.30 L296.13,221.96 L297.06,221.64 L297.98,221.33 L298.91,221.03 L299.84,220.74 L300.76,220.47 L301.69,220.20 L302.62,219.94 L303.55,219.69 L304.47,219.45 L305.40,219.21 L306.33,218.98 L307.25,218.76 L308.18,218.55 L309.11,218.34 L310.03,218.14 L310.96,217.94 L311.89,217.76 L312.82,217.57 L313.74,217.39 L314.67,217.22 L315.60,217.05 L316.52,216.89 L317.45,216.73 L318.38,216.58 L319.31,216.43 L320.23,216.29 L321.16,216.15 L322.09,216.01 L323.01,215.88 L323.94,215.75 L324.87,215.63 L325.79,215.51 L326.72,215.39 L327.65,215.28 L328.57,215.17 L329.50,215.06 L330.12,214.99 L330.74,215.34 L331.36,215.68 L331.97,216.01 L332.59,216.33 L333.21,216.64 L333.83,216.94 L334.45,217.24 L335.06,217.53 L335.68,217.80 L336.30,218.08 L336.92,218.34 L337.54,218.60 L338.15,218.84 L338.77,219.09 L339.39,219.32 L340.01,219.55 L340.63,219.77 L341.24,219.99 L341.86,220.20 L342.48,220.41 L343.10,220.61 L343.72,220.80 L344.33,220.99 L344.95,221.17 L345.57,221.35 L346.19,221.52 L346.81,221.69 L347.42,221.85 L348.04,222.01 L348.66,222.17 L349.28,222.32 L349.90,222.47 L350.51,222.61 L351.13,222.75 L351.75,222.88 L352.37,223.01 L352.99,223.14 L353.60,223.26 L354.22,223.38 L354.84,223.50 L355.46,223.61 L356.08,223.72 L356.69,223.83 L357.31,223.94 L357.93,224.04 L358.55,224.14 L359.17,224.23 L359.78,224.33 L360.40,224.42 L361.02,224.51 L361.64,224.59 L362.26,224.68 L362.87,224.76 L363.49,224.84 L364.11,224.91 L364.73,224.99 L365.35,225.06 L365.96,225.13 L366.58,225.20 L367.20,225.27 L367.82,225.33 L368.44,225.40 L369.05,225.46 L369.67,225.52 L370.29,225.58 L370.91,225.63 L371.53,225.69 L372.14,225.74 L372.76,225.79 L373.38,225.84 L374.00,225.89 L374.62,225.94 L375.23,225.99 L375.85,226.03 L376.47,226.08 L377.09,226.12 L377.71,226.16 L378.32,226.20 L378.94,226.24 L379.56,226.28 L380.18,226.32 L380.80,226.35 L381.41,226.39 L382.03,226.42 L382.65,226.45 L383.27,226.49 L383.89,226.52 L384.50,226.55 L385.12,226.58 L385.74,226.61" fill="none" stroke="#22b822" stroke-width="1.1" stroke-linejoin="round"/>
<path d="M274.50,255.20 L274.81,252.91 L275.12,250.92 L275.43,249.09 L275.74,247.38 L276.05,245.80 L276.35,244.32 L276.66,242.95 L276.97,241.67 L277.28,240.47 L277.59,239.35 L278.52,236.42 L279.44,234.01 L280.37,232.01 L281.30,230.33 L282.23,228.92 L283.15,227.71 L284.08,226.67 L285.01,225.76 L285.93,224.96 L286.86,224.25 L287.79,223.60 L288.71,223.02 L289.64,222.48 L290.57,221.99 L291.50,221.52 L292.42,221.09 L293.35,220.68 L294.28,220.29 L295.20,219.92 L296.13,219.57 L297.06,219.23 L297.98,218.91 L298.91,218.60 L299.84,218.30 L300.76,218.01 L301.69,217.73 L302.62,217.46 L303.55,217.19 L304.47,216.94 L305.40,216.70 L306.33,216.46 L307.25,216.23 L308.18,216.00 L309.11,215.79 L310.03,215.58 L310.96,215.38 L311.89,215.18 L312.82,214.99 L313.74,214.80 L314.67,214.62 L315.60,214.45 L316.52,214.28 L317.45,214.11 L318.38,213.95 L319.31,213.80 L320.23,213.65 L321.16,213.50 L322.09,213.36 L323.01,213.22 L323.94,213.09 L324.87,212.96 L325.79,212.83 L326.72,212.71 L327.65,212.59 L328.57,212.48 L329.50,212.37 L330.12,212.29 L330.74,212.61 L331.36,212.91 L331.97,213.21 L332.59,213.50 L333.21,213.78 L333.83,214.05 L334.45,214.32 L335.06,214.57 L335.68,214.82 L336.30,215.07 L336.92,215.31 L337.54,215.54 L338.15,215.76 L338.77,215.98 L339.39,216.19 L340.01,216.40 L340.63,216.60 L341.24,216.79 L341.86,216.98 L342.48,217.17 L343.10,217.34 L343.72,217.52 L344.33,217.69 L344.95,217.85 L345.57,218.01 L346.19,218.17 L346.81,218.32 L347.42,218.47 L348.04,218.61 L348.66,218.75 L349.28,218.89 L349.90,219.02 L350.51,219.15 L351.13,219.27 L351.75,219.39 L352.37,219.51 L352.99,219.62 L353.60,219.74 L354.22,219.84 L354.84,219.95 L355.46,220.05 L356.08,220.15 L356.69,220.25 L357.31,220.34 L357.93,220.43 L358.55,220.52 L359.17,220.61 L359.78,220.69 L360.40,220.77 L361.02,220.85 L361.64,220.93 L362.26,221.01 L362.87,221.08 L363.49,221.15 L364.11,221.22 L364.73,221.29 L365.35,221.35 L365.96,221.42 L366.58,221.48 L367.20,221.54 L367.82,221.60 L368.44,221.65 L369.05,221.71 L369.67,221.76 L370.29,221.82 L370.91,221.87 L371.53,221.92 L372.14,221.96 L372.76,222.01 L373.38,222.06 L374.00,222.10 L374.62,222.14 L375.23,222.19 L375.85,222.23 L376.47,222.27 L377.09,222.30 L377.71,222.34 L378.32,222.38 L378.94,222.41 L379.56,222.45 L380.18,222.48 L380.80,222.51 L381.41,222.54 L382.03,222.58 L382.65,222.61 L383.27,222.63 L383.89,222.66 L384.50,222.69 L385.12,222.72 L385.74,222.74" fill="none" stroke="#a83ce8" stroke-width="1.1" stroke-linejoin="round"/>
<path d="M274.50,255.20 L274.81,252.82 L275.12,250.76 L275.43,248.85 L275.74,247.08 L276.05,245.43 L276.35,243.90 L276.66,242.47 L276.97,241.14 L277.28,239.90 L277.59,238.74 L278.52,235.70 L279.44,233.21 L280.37,231.14 L281.30,229.41 L282.23,227.96 L283.15,226.72 L284.08,225.65 L285.01,224.72 L285.93,223.90 L286.86,223.17 L287.79,222.52 L288.71,221.93 L289.64,221.38 L290.57,220.88 L291.50,220.41 L292.42,219.97 L293.35,219.56 L294.28,219.17 L295.20,218.80 L296.13,218.44 L297.06,218.10 L297.98,217.78 L298.91,217.46 L299.84,217.16 L300.76,216.87 L301.69,216.59 L302.62,216.32 L303.55,216.06 L304.47,215.80 L305.40,215.56 L306.33,215.32 L307.25,215.09 L308.18,214.86 L309.11,214.64 L310.03,214.43 L310.96,214.23 L311.89,214.03 L312.82,213.84 L313.74,213.65 L314.67,213.47 L315.60,213.30 L316.52,213.13 L317.45,212.96 L318.38,212.80 L319.31,212.65 L320.23,212.49 L321.16,212.35 L322.09,212.21 L323.01,212.07 L323.94,211.93 L324.87,211.80 L325.79,211.68 L326.72,211.56 L327.65,211.44 L328.57,211.32 L329.50,211.21 L330.12,211.14 L330.74,211.51 L331.36,211.87 L331.97,212.22 L332.59,212.56 L333.21,212.90 L333.83,213.22 L334.45,213.53 L335.06,213.84 L335.68,214.14 L336.30,214.43 L336.92,214.71 L337.54,214.98 L338.15,215.25 L338.77,215.50 L339.39,215.75 L340.01,216.00 L340.63,216.24 L341.24,216.47 L341.86,216.69 L342.48,216.91 L343.10,217.12 L343.72,217.33 L344.33,217.53 L344.95,217.73 L345.57,217.92 L346.19,218.10 L346.81,218.28 L347.42,218.45 L348.04,218.62 L348.66,218.79 L349.28,218.95 L349.90,219.11 L350.51,219.26 L351.13,219.41 L351.75,219.55 L352.37,219.69 L352.99,219.82 L353.60,219.96 L354.22,220.08 L354.84,220.21 L355.46,220.33 L356.08,220.45 L356.69,220.56 L357.31,220.68 L357.93,220.78 L358.55,220.89 L359.17,220.99 L359.78,221.09 L360.40,221.19 L361.02,221.28 L361.64,221.37 L362.26,221.46 L362.87,221.55 L363.49,221.63 L364.11,221.72 L364.73,221.80 L365.35,221.87 L365.96,221.95 L366.58,222.02 L367.20,222.09 L367.82,222.16 L368.44,222.23 L369.05,222.30 L369.67,222.36 L370.29,222.42 L370.91,222.48 L371.53,222.54 L372.14,222.60 L372.76,222.65 L373.38,222.71 L374.00,222.76 L374.62,222.81 L375.23,222.86 L375.85,222.91 L376.47,222.96 L377.09,223.00 L377.71,223.04 L378.32,223.09 L378.94,223.13 L379.56,223.17 L380.18,223.21 L380.80,223.25 L381.41,223.29 L382.03,223.32 L382.65,223.36 L383.27,223.39 L383.89,223.43 L384.50,223.46 L385.12,223.49 L385.74,223.52" fill="none" stroke="#a8783a" stroke-width="1.1" stroke-linejoin="round"/>
<path d="M274.50,255.20 L274.81,252.78 L275.12,250.68 L275.43,248.74 L275.74,246.94 L276.05,245.26 L276.35,243.71 L276.66,242.25 L276.97,240.90 L277.28,239.64 L277.59,238.46 L278.52,235.37 L279.44,232.82 L280.37,230.72 L281.30,228.96 L282.23,227.48 L283.15,226.22 L284.08,225.13 L285.01,224.19 L285.93,223.36 L286.86,222.62 L287.79,221.95 L288.71,221.35 L289.64,220.79 L290.57,220.28 L291.50,219.80 L292.42,219.36 L293.35,218.94 L294.28,218.54 L295.20,218.16 L296.13,217.80 L297.06,217.46 L297.98,217.12 L298.91,216.80 L299.84,216.50 L300.76,216.20 L301.69,215.92 L302.62,215.64 L303.55,215.37 L304.47,215.11 L305.40,214.86 L306.33,214.62 L307.25,214.38 L308.18,214.16 L309.11,213.94 L310.03,213.72 L310.96,213.51 L311.89,213.31 L312.82,213.12 L313.74,212.93 L314.67,212.74 L315.60,212.56 L316.52,212.39 L317.45,212.22 L318.38,212.06 L319.31,211.90 L320.23,211.75 L321.16,211.60 L322.09,211.45 L323.01,211.31 L323.94,211.18 L324.87,211.04 L325.79,210.92 L326.72,210.79 L327.65,210.67 L328.57,210.55 L329.50,210.44 L330.12,210.37 L330.74,210.78 L331.36,211.19 L331.97,211.59 L332.59,211.97 L333.21,212.34 L333.83,212.71 L334.45,213.06 L335.06,213.41 L335.68,213.74 L336.30,214.07 L336.92,214.38 L337.54,214.69 L338.15,214.99 L338.77,215.28 L339.39,215.56 L340.01,215.84 L340.63,216.10 L341.24,216.36 L341.86,216.62 L342.48,216.86 L343.10,217.10 L343.72,217.33 L344.33,217.56 L344.95,217.78 L345.57,217.99 L346.19,218.20 L346.81,218.40 L347.42,218.60 L348.04,218.79 L348.66,218.97 L349.28,219.16 L349.90,219.33 L350.51,219.50 L351.13,219.67 L351.75,219.83 L352.37,219.99 L352.99,220.14 L353.60,220.29 L354.22,220.43 L354.84,220.57 L355.46,220.71 L356.08,220.84 L356.69,220.97 L357.31,221.10 L357.93,221.22 L358.55,221.34 L359.17,221.45 L359.78,221.56 L360.40,221.67 L361.02,221.78 L361.64,221.88 L362.26,221.98 L362.87,222.08 L363.49,222.18 L364.11,222.27 L364.73,222.36 L365.35,222.44 L365.96,222.53 L366.58,222.61 L367.20,222.69 L367.82,222.77 L368.44,222.85 L369.05,222.92 L369.67,222.99 L370.29,223.06 L370.91,223.13 L371.53,223.20 L372.14,223.26 L372.76,223.32 L373.38,223.38 L374.00,223.44 L374.62,223.50 L375.23,223.55 L375.85,223.61 L376.47,223.66 L377.09,223.71 L377.71,223.76 L378.32,223.81 L378.94,223.86 L379.56,223.90 L380.18,223.95 L380.80,223.99 L381.41,224.03 L382.03,224.07 L382.65,224.11 L383.27,224.15 L383.89,224.19 L384.50,224.23 L385.12,224.26 L385.74,224.30" fill="none" stroke="#ff8a1e" stroke-width="1.1" stroke-linejoin="round"/>
<path d="M274.50,255.20 L274.81,252.56 L275.12,250.25 L275.43,248.12 L275.74,246.14 L276.05,244.30 L276.35,242.59 L276.66,240.99 L276.97,239.51 L277.28,238.12 L277.59,236.83 L278.52,233.44 L279.44,230.66 L280.37,228.36 L281.30,226.44 L282.23,224.83 L283.15,223.45 L284.08,222.28 L285.01,221.25 L285.93,220.35 L286.86,219.55 L287.79,218.84 L288.71,218.19 L289.64,217.60 L290.57,217.05 L291.50,216.54 L292.42,216.06 L293.35,215.62 L294.28,215.19 L295.20,214.79 L296.13,214.40 L297.06,214.04 L297.98,213.68 L298.91,213.35 L299.84,213.02 L300.76,212.70 L301.69,212.40 L302.62,212.11 L303.55,211.82 L304.47,211.55 L305.40,211.28 L306.33,211.02 L307.25,210.77 L308.18,210.53 L309.11,210.30 L310.03,210.07 L310.96,209.85 L311.89,209.64 L312.82,209.43 L313.74,209.23 L314.67,209.03 L315.60,208.84 L316.52,208.66 L317.45,208.48 L318.38,208.31 L319.31,208.14 L320.23,207.98 L321.16,207.82 L322.09,207.66 L323.01,207.52 L323.94,207.37 L324.87,207.23 L325.79,207.10 L326.72,206.96 L327.65,206.83 L328.57,206.71 L329.50,206.59 L330.12,206.51 L330.74,206.92 L331.36,207.31 L331.97,207.70 L332.59,208.07 L333.21,208.43 L333.83,208.79 L334.45,209.13 L335.06,209.47 L335.68,209.79 L336.30,210.11 L336.92,210.41 L337.54,210.71 L338.15,211.00 L338.77,211.29 L339.39,211.56 L340.01,211.83 L340.63,212.09 L341.24,212.34 L341.86,212.58 L342.48,212.82 L343.10,213.06 L343.72,213.28 L344.33,213.50 L344.95,213.71 L345.57,213.92 L346.19,214.12 L346.81,214.32 L347.42,214.51 L348.04,214.70 L348.66,214.88 L349.28,215.05 L349.90,215.22 L350.51,215.39 L351.13,215.55 L351.75,215.71 L352.37,215.86 L352.99,216.01 L353.60,216.15 L354.22,216.29 L354.84,216.43 L355.46,216.56 L356.08,216.69 L356.69,216.82 L357.31,216.94 L357.93,217.06 L358.55,217.17 L359.17,217.29 L359.78,217.39 L360.40,217.50 L361.02,217.60 L361.64,217.70 L362.26,217.80 L362.87,217.90 L363.49,217.99 L364.11,218.08 L364.73,218.17 L365.35,218.25 L365.96,218.33 L366.58,218.41 L367.20,218.49 L367.82,218.57 L368.44,218.64 L369.05,218.71 L369.67,218.78 L370.29,218.85 L370.91,218.92 L371.53,218.98 L372.14,219.04 L372.76,219.10 L373.38,219.16 L374.00,219.22 L374.62,219.27 L375.23,219.33 L375.85,219.38 L376.47,219.43 L377.09,219.48 L377.71,219.53 L378.32,219.58 L378.94,219.62 L379.56,219.67 L380.18,219.71 L380.80,219.75 L381.41,219.79 L382.03,219.83 L382.65,219.87 L383.27,219.91 L383.89,219.95 L384.50,219.98 L385.12,220.02 L385.74,220.05" fill="none" stroke="#1f1fff" stroke-width="1.1" stroke-linejoin="round"/>
<path d="M274.50,255.20 L274.81,252.44 L275.12,250.03 L275.43,247.79 L275.74,245.72 L276.05,243.79 L276.35,242.00 L276.66,240.33 L276.97,238.77 L277.28,237.32 L277.59,235.97 L278.52,232.41 L279.44,229.50 L280.37,227.09 L281.30,225.08 L282.23,223.39 L283.15,221.95 L284.08,220.72 L285.01,219.64 L285.93,218.70 L286.86,217.87 L287.79,217.12 L288.71,216.44 L289.64,215.81 L290.57,215.24 L291.50,214.71 L292.42,214.21 L293.35,213.74 L294.28,213.29 L295.20,212.87 L296.13,212.47 L297.06,212.08 L297.98,211.71 L298.91,211.36 L299.84,211.02 L300.76,210.69 L301.69,210.37 L302.62,210.06 L303.55,209.76 L304.47,209.48 L305.40,209.20 L306.33,208.93 L307.25,208.67 L308.18,208.41 L309.11,208.17 L310.03,207.93 L310.96,207.70 L311.89,207.47 L312.82,207.26 L313.74,207.04 L314.67,206.84 L315.60,206.64 L316.52,206.45 L317.45,206.26 L318.38,206.08 L319.31,205.90 L320.23,205.73 L321.16,205.57 L322.09,205.41 L323.01,205.25 L323.94,205.10 L324.87,204.95 L325.79,204.81 L326.72,204.67 L327.65,204.54 L328.57,204.41 L329.50,204.28 L330.12,204.20 L330.74,204.65 L331.36,205.09 L331.97,205.52 L332.59,205.94 L333.21,206.34 L333.83,206.73 L334.45,207.12 L335.06,207.49 L335.68,207.85 L336.30,208.20 L336.92,208.55 L337.54,208.88 L338.15,209.20 L338.77,209.52 L339.39,209.82 L340.01,210.12 L340.63,210.41 L341.24,210.69 L341.86,210.96 L342.48,211.23 L343.10,211.49 L343.72,211.74 L344.33,211.99 L344.95,212.22 L345.57,212.46 L346.19,212.68 L346.81,212.90 L347.42,213.11 L348.04,213.32 L348.66,213.52 L349.28,213.72 L349.90,213.91 L350.51,214.09 L351.13,214.27 L351.75,214.44 L352.37,214.61 L352.99,214.78 L353.60,214.94 L354.22,215.10 L354.84,215.25 L355.46,215.40 L356.08,215.54 L356.69,215.68 L357.31,215.82 L357.93,215.95 L358.55,216.08 L359.17,216.20 L359.78,216.32 L360.40,216.44 L361.02,216.56 L361.64,216.67 L362.26,216.78 L362.87,216.88 L363.49,216.99 L364.11,217.09 L364.73,217.18 L365.35,217.28 L365.96,217.37 L366.58,217.46 L367.20,217.55 L367.82,217.63 L368.44,217.71 L369.05,217.79 L369.67,217.87 L370.29,217.94 L370.91,218.02 L371.53,218.09 L372.14,218.16 L372.76,218.23 L373.38,218.29 L374.00,218.36 L374.62,218.42 L375.23,218.48 L375.85,218.54 L376.47,218.59 L377.09,218.65 L377.71,218.70 L378.32,218.76 L378.94,218.81 L379.56,218.86 L380.18,218.90 L380.80,218.95 L381.41,219.00 L382.03,219.04 L382.65,219.08 L383.27,219.13 L383.89,219.17 L384.50,219.21 L385.12,219.25 L385.74,219.28" fill="none" stroke="#1a1a1a" stroke-width="1.1" stroke-linejoin="round"/>
<path d="M274.50,255.20 L274.81,252.17 L275.12,249.50 L275.43,247.03 L275.74,244.74 L276.05,242.61 L276.35,240.62 L276.66,238.78 L276.97,237.05 L277.28,235.45 L277.59,233.95 L278.52,230.02 L279.44,226.80 L280.37,224.13 L281.30,221.91 L282.23,220.04 L283.15,218.44 L284.08,217.08 L285.01,215.89 L285.93,214.85 L286.86,213.92 L287.79,213.09 L288.71,212.34 L289.64,211.65 L290.57,211.02 L291.50,210.43 L292.42,209.88 L293.35,209.36 L294.28,208.87 L295.20,208.40 L296.13,207.95 L297.06,207.53 L297.98,207.12 L298.91,206.72 L299.84,206.35 L300.76,205.98 L301.69,205.63 L302.62,205.29 L303.55,204.96 L304.47,204.64 L305.40,204.33 L306.33,204.03 L307.25,203.74 L308.18,203.46 L309.11,203.19 L310.03,202.93 L310.96,202.67 L311.89,202.42 L312.82,202.18 L313.74,201.95 L314.67,201.72 L315.60,201.50 L316.52,201.29 L317.45,201.08 L318.38,200.88 L319.31,200.69 L320.23,200.50 L321.16,200.32 L322.09,200.14 L323.01,199.97 L323.94,199.80 L324.87,199.64 L325.79,199.48 L326.72,199.33 L327.65,199.18 L328.57,199.03 L329.50,198.89 L330.12,198.80 L330.74,199.27 L331.36,199.72 L331.97,200.16 L332.59,200.58 L333.21,201.00 L333.83,201.40 L334.45,201.79 L335.06,202.18 L335.68,202.55 L336.30,202.91 L336.92,203.26 L337.54,203.60 L338.15,203.93 L338.77,204.25 L339.39,204.57 L340.01,204.87 L340.63,205.17 L341.24,205.46 L341.86,205.74 L342.48,206.01 L343.10,206.28 L343.72,206.54 L344.33,206.79 L344.95,207.03 L345.57,207.27 L346.19,207.50 L346.81,207.72 L347.42,207.94 L348.04,208.15 L348.66,208.36 L349.28,208.56 L349.90,208.75 L350.51,208.94 L351.13,209.13 L351.75,209.31 L352.37,209.48 L352.99,209.65 L353.60,209.82 L354.22,209.98 L354.84,210.13 L355.46,210.28 L356.08,210.43 L356.69,210.57 L357.31,210.71 L357.93,210.85 L358.55,210.98 L359.17,211.11 L359.78,211.23 L360.40,211.35 L361.02,211.47 L361.64,211.59 L362.26,211.70 L362.87,211.81 L363.49,211.91 L364.11,212.01 L364.73,212.11 L365.35,212.21 L365.96,212.30 L366.58,212.40 L367.20,212.49 L367.82,212.57 L368.44,212.66 L369.05,212.74 L369.67,212.82 L370.29,212.90 L370.91,212.97 L371.53,213.04 L372.14,213.11 L372.76,213.18 L373.38,213.25 L374.00,213.32 L374.62,213.38 L375.23,213.44 L375.85,213.50 L376.47,213.56 L377.09,213.62 L377.71,213.67 L378.32,213.73 L378.94,213.78 L379.56,213.83 L380.18,213.88 L380.80,213.93 L381.41,213.97 L382.03,214.02 L382.65,214.06 L383.27,214.11 L383.89,214.15 L384.50,214.19 L385.12,214.23 L385.74,214.27" fill="none" stroke="#24248c" stroke-width="1.1" stroke-linejoin="round"/>
<path d="M274.50,178.10 V255.20 H391.00" fill="none" stroke="#000" stroke-width="1"/>
<line x1="271.50" y1="255.20" x2="274.50" y2="255.20" stroke="#000" stroke-width="0.9"/>
<line x1="271.50" y1="235.92" x2="274.50" y2="235.92" stroke="#000" stroke-width="0.9"/>
<line x1="271.50" y1="216.65" x2="274.50" y2="216.65" stroke="#000" stroke-width="0.9"/>
<line x1="271.50" y1="197.38" x2="274.50" y2="197.38" stroke="#000" stroke-width="0.9"/>
<line x1="271.50" y1="178.10" x2="274.50" y2="178.10" stroke="#000" stroke-width="0.9"/>
<line x1="274.50" y1="255.20" x2="274.50" y2="257.80" stroke="#000" stroke-width="0.9"/>
<text x="0" y="0" font-size="5.9" text-anchor="middle" font-weight="bold" fill="#000" transform="translate(274.50 265.60) scale(1.0 1.15)">360</text>
<line x1="289.95" y1="255.20" x2="289.95" y2="257.80" stroke="#000" stroke-width="0.9"/>
<line x1="305.40" y1="255.20" x2="305.40" y2="257.80" stroke="#000" stroke-width="0.9"/>
<text x="0" y="0" font-size="5.9" text-anchor="middle" font-weight="bold" fill="#000" transform="translate(305.40 265.60) scale(1.0 1.15)">460</text>
<line x1="320.85" y1="255.20" x2="320.85" y2="257.80" stroke="#000" stroke-width="0.9"/>
<line x1="336.30" y1="255.20" x2="336.30" y2="257.80" stroke="#000" stroke-width="0.9"/>
<text x="0" y="0" font-size="5.9" text-anchor="middle" font-weight="bold" fill="#000" transform="translate(336.30 265.60) scale(1.0 1.15)">560</text>
<line x1="351.75" y1="255.20" x2="351.75" y2="257.80" stroke="#000" stroke-width="0.9"/>
<line x1="367.20" y1="255.20" x2="367.20" y2="257.80" stroke="#000" stroke-width="0.9"/>
<text x="0" y="0" font-size="5.9" text-anchor="middle" font-weight="bold" fill="#000" transform="translate(367.20 265.60) scale(1.0 1.15)">660</text>
<line x1="382.65" y1="255.20" x2="382.65" y2="257.80" stroke="#000" stroke-width="0.9"/>
<text x="462.20" y="168.20" font-size="7.3" text-anchor="middle" font-weight="bold" fill="#000" >222-1C06</text>
<path d="M403.60,255.80 L403.91,255.47 L404.22,255.16 L404.52,254.87 L404.83,254.59 L405.14,254.33 L405.45,254.09 L405.76,253.86 L406.06,253.63 L406.37,253.43 L406.68,253.23 L407.60,252.68 L408.53,252.21 L409.45,251.80 L410.38,251.43 L411.30,251.10 L412.22,250.79 L413.15,250.52 L414.07,250.26 L415.00,250.03 L415.92,249.80 L416.84,249.59 L417.77,249.39 L418.69,249.21 L419.62,249.03 L420.54,248.85 L421.46,248.69 L422.39,248.53 L423.31,248.37 L424.24,248.23 L425.16,248.08 L426.08,247.95 L427.01,247.81 L427.93,247.68 L428.86,247.56 L429.78,247.44 L430.70,247.32 L431.63,247.21 L432.55,247.10 L433.48,246.99 L434.40,246.89 L435.32,246.78 L436.25,246.69 L437.17,246.59 L438.10,246.50 L439.02,246.41 L439.94,246.32 L440.87,246.24 L441.79,246.16 L442.72,246.08 L443.64,246.00 L444.56,245.93 L445.49,245.86 L446.41,245.79 L447.34,245.72 L448.26,245.65 L449.18,245.59 L450.11,245.53 L451.03,245.47 L451.96,245.41 L452.88,245.35 L453.80,245.30 L454.73,245.24 L455.65,245.19 L456.58,245.14 L457.50,245.09 L458.42,245.04 L459.04,245.01 L459.66,245.40 L460.27,245.75 L460.89,246.08 L461.50,246.37 L462.12,246.64 L462.74,246.88 L463.35,247.10 L463.97,247.31 L464.58,247.50 L465.20,247.67 L465.82,247.82 L466.43,247.97 L467.05,248.10 L467.66,248.22 L468.28,248.34 L468.90,248.44 L469.51,248.54 L470.13,248.63 L470.74,248.71 L471.36,248.79 L471.98,248.86 L472.59,248.93 L473.21,248.99 L473.82,249.05 L474.44,249.11 L475.06,249.16 L475.67,249.21 L476.29,249.26 L476.90,249.30 L477.52,249.34 L478.14,249.39 L478.75,249.43 L479.37,249.46 L479.98,249.50 L480.60,249.53 L481.22,249.57 L481.83,249.60 L482.45,249.63 L483.06,249.66 L483.68,249.69 L484.30,249.72 L484.91,249.75 L485.53,249.78 L486.14,249.81 L486.76,249.84 L487.38,249.86 L487.99,249.89 L488.61,249.92 L489.22,249.94 L489.84,249.97 L490.46,249.99 L491.07,250.02 L491.69,250.04 L492.30,250.07 L492.92,250.09 L493.54,250.12 L494.15,250.14 L494.77,250.17 L495.38,250.19 L496.00,250.21 L496.62,250.24 L497.23,250.26 L497.85,250.29 L498.46,250.31 L499.08,250.33 L499.70,250.36 L500.31,250.38 L500.93,250.40 L501.54,250.43 L502.16,250.45 L502.78,250.47 L503.39,250.50 L504.01,250.52 L504.62,250.54 L505.24,250.57 L505.86,250.59 L506.47,250.61 L507.09,250.63 L507.70,250.66 L508.32,250.68 L508.94,250.70 L509.55,250.73 L510.17,250.75 L510.78,250.77 L511.40,250.80 L512.02,250.82 L512.63,250.84 L513.25,250.87 L513.86,250.89 L514.48,250.91" fill="none" stroke="#ff8a1e" stroke-width="1.1" stroke-linejoin="round"/>
<path d="M403.60,255.80 L403.91,255.50 L404.22,255.22 L404.52,254.96 L404.83,254.70 L405.14,254.47 L405.45,254.24 L405.76,254.02 L406.06,253.82 L406.37,253.63 L406.68,253.44 L407.60,252.94 L408.53,252.49 L409.45,252.10 L410.38,251.74 L411.30,251.42 L412.22,251.13 L413.15,250.86 L414.07,250.61 L415.00,250.37 L415.92,250.15 L416.84,249.94 L417.77,249.74 L418.69,249.55 L419.62,249.37 L420.54,249.19 L421.46,249.03 L422.39,248.86 L423.31,248.71 L424.24,248.56 L425.16,248.41 L426.08,248.27 L427.01,248.14 L427.93,248.01 L428.86,247.88 L429.78,247.76 L430.70,247.64 L431.63,247.52 L432.55,247.41 L433.48,247.30 L434.40,247.19 L435.32,247.09 L436.25,246.99 L437.17,246.89 L438.10,246.80 L439.02,246.71 L439.94,246.62 L440.87,246.54 L441.79,246.45 L442.72,246.37 L443.64,246.29 L444.56,246.22 L445.49,246.15 L446.41,246.07 L447.34,246.00 L448.26,245.94 L449.18,245.87 L450.11,245.81 L451.03,245.75 L451.96,245.69 L452.88,245.63 L453.80,245.57 L454.73,245.52 L455.65,245.47 L456.58,245.41 L457.50,245.36 L458.42,245.32 L459.04,245.29 L459.66,245.57 L460.27,245.83 L460.89,246.06 L461.50,246.28 L462.12,246.47 L462.74,246.65 L463.35,246.81 L463.97,246.96 L464.58,247.10 L465.20,247.22 L465.82,247.34 L466.43,247.44 L467.05,247.54 L467.66,247.63 L468.28,247.71 L468.90,247.79 L469.51,247.86 L470.13,247.92 L470.74,247.98 L471.36,248.04 L471.98,248.09 L472.59,248.14 L473.21,248.19 L473.82,248.23 L474.44,248.27 L475.06,248.31 L475.67,248.35 L476.29,248.38 L476.90,248.42 L477.52,248.45 L478.14,248.48 L478.75,248.51 L479.37,248.53 L479.98,248.56 L480.60,248.59 L481.22,248.61 L481.83,248.64 L482.45,248.66 L483.06,248.68 L483.68,248.70 L484.30,248.73 L484.91,248.75 L485.53,248.77 L486.14,248.79 L486.76,248.81 L487.38,248.83 L487.99,248.85 L488.61,248.87 L489.22,248.88 L489.84,248.90 L490.46,248.92 L491.07,248.94 L491.69,248.96 L492.30,248.98 L492.92,248.99 L493.54,249.01 L494.15,249.03 L494.77,249.05 L495.38,249.07 L496.00,249.08 L496.62,249.10 L497.23,249.12 L497.85,249.13 L498.46,249.15 L499.08,249.17 L499.70,249.19 L500.31,249.20 L500.93,249.22 L501.54,249.24 L502.16,249.25 L502.78,249.27 L503.39,249.29 L504.01,249.31 L504.62,249.32 L505.24,249.34 L505.86,249.36 L506.47,249.37 L507.09,249.39 L507.70,249.41 L508.32,249.42 L508.94,249.44 L509.55,249.46 L510.17,249.47 L510.78,249.49 L511.40,249.51 L512.02,249.52 L512.63,249.54 L513.25,249.56 L513.86,249.58 L514.48,249.59" fill="none" stroke="#22b822" stroke-width="1.1" stroke-linejoin="round"/>
<path d="M403.60,255.80 L403.91,255.39 L404.22,255.01 L404.52,254.65 L404.83,254.31 L405.14,253.99 L405.45,253.69 L405.76,253.41 L406.06,253.14 L406.37,252.89 L406.68,252.65 L407.60,252.00 L408.53,251.45 L409.45,250.96 L410.38,250.54 L411.30,250.17 L412.22,249.83 L413.15,249.52 L414.07,249.24 L415.00,248.99 L415.92,248.75 L416.84,248.52 L417.77,248.31 L418.69,248.11 L419.62,247.92 L420.54,247.74 L421.46,247.57 L422.39,247.40 L423.31,247.24 L424.24,247.09 L425.16,246.94 L426.08,246.80 L427.01,246.66 L427.93,246.53 L428.86,246.40 L429.78,246.27 L430.70,246.15 L431.63,246.03 L432.55,245.92 L433.48,245.81 L434.40,245.70 L435.32,245.60 L436.25,245.50 L437.17,245.40 L438.10,245.31 L439.02,245.21 L439.94,245.12 L440.87,245.04 L441.79,244.95 L442.72,244.87 L443.64,244.79 L444.56,244.72 L445.49,244.64 L446.41,244.57 L447.34,244.50 L448.26,244.43 L449.18,244.37 L450.11,244.30 L451.03,244.24 L451.96,244.18 L452.88,244.12 L453.80,244.06 L454.73,244.01 L455.65,243.96 L456.58,243.90 L457.50,243.85 L458.42,243.80 L459.04,243.77 L459.66,244.10 L460.27,244.41 L460.89,244.68 L461.50,244.93 L462.12,245.16 L462.74,245.37 L463.35,245.56 L463.97,245.73 L464.58,245.89 L465.20,246.04 L465.82,246.18 L466.43,246.30 L467.05,246.41 L467.66,246.52 L468.28,246.61 L468.90,246.70 L469.51,246.79 L470.13,246.86 L470.74,246.93 L471.36,247.00 L471.98,247.06 L472.59,247.12 L473.21,247.17 L473.82,247.22 L474.44,247.27 L475.06,247.32 L475.67,247.36 L476.29,247.40 L476.90,247.44 L477.52,247.48 L478.14,247.51 L478.75,247.55 L479.37,247.58 L479.98,247.61 L480.60,247.64 L481.22,247.67 L481.83,247.70 L482.45,247.72 L483.06,247.75 L483.68,247.78 L484.30,247.80 L484.91,247.83 L485.53,247.85 L486.14,247.87 L486.76,247.90 L487.38,247.92 L487.99,247.94 L488.61,247.97 L489.22,247.99 L489.84,248.01 L490.46,248.03 L491.07,248.05 L491.69,248.07 L492.30,248.10 L492.92,248.12 L493.54,248.14 L494.15,248.16 L494.77,248.18 L495.38,248.20 L496.00,248.22 L496.62,248.24 L497.23,248.26 L497.85,248.28 L498.46,248.30 L499.08,248.32 L499.70,248.34 L500.31,248.36 L500.93,248.38 L501.54,248.40 L502.16,248.42 L502.78,248.44 L503.39,248.46 L504.01,248.48 L504.62,248.50 L505.24,248.52 L505.86,248.54 L506.47,248.56 L507.09,248.58 L507.70,248.60 L508.32,248.62 L508.94,248.64 L509.55,248.66 L510.17,248.68 L510.78,248.70 L511.40,248.72 L512.02,248.74 L512.63,248.76 L513.25,248.78 L513.86,248.80 L514.48,248.82" fill="none" stroke="#a8783a" stroke-width="1.1" stroke-linejoin="round"/>
<path d="M403.60,255.80 L403.91,255.35 L404.22,254.94 L404.52,254.54 L404.83,254.17 L405.14,253.82 L405.45,253.50 L405.76,253.19 L406.06,252.89 L406.37,252.62 L406.68,252.35 L407.60,251.64 L408.53,251.03 L409.45,250.50 L410.38,250.03 L411.30,249.62 L412.22,249.24 L413.15,248.90 L414.07,248.59 L415.00,248.30 L415.92,248.03 L416.84,247.78 L417.77,247.54 L418.69,247.32 L419.62,247.10 L420.54,246.90 L421.46,246.71 L422.39,246.52 L423.31,246.34 L424.24,246.16 L425.16,246.00 L426.08,245.84 L427.01,245.68 L427.93,245.53 L428.86,245.38 L429.78,245.24 L430.70,245.10 L431.63,244.97 L432.55,244.84 L433.48,244.72 L434.40,244.60 L435.32,244.48 L436.25,244.37 L437.17,244.26 L438.10,244.15 L439.02,244.04 L439.94,243.94 L440.87,243.85 L441.79,243.75 L442.72,243.66 L443.64,243.57 L444.56,243.48 L445.49,243.40 L446.41,243.32 L447.34,243.24 L448.26,243.16 L449.18,243.09 L450.11,243.01 L451.03,242.94 L451.96,242.87 L452.88,242.81 L453.80,242.74 L454.73,242.68 L455.65,242.62 L456.58,242.56 L457.50,242.51 L458.42,242.45 L459.04,242.41 L459.66,242.79 L460.27,243.13 L460.89,243.44 L461.50,243.73 L462.12,243.98 L462.74,244.22 L463.35,244.44 L463.97,244.63 L464.58,244.81 L465.20,244.98 L465.82,245.13 L466.43,245.27 L467.05,245.40 L467.66,245.52 L468.28,245.63 L468.90,245.73 L469.51,245.82 L470.13,245.91 L470.74,245.99 L471.36,246.06 L471.98,246.13 L472.59,246.20 L473.21,246.26 L473.82,246.32 L474.44,246.37 L475.06,246.42 L475.67,246.47 L476.29,246.52 L476.90,246.56 L477.52,246.60 L478.14,246.64 L478.75,246.68 L479.37,246.72 L479.98,246.75 L480.60,246.79 L481.22,246.82 L481.83,246.85 L482.45,246.88 L483.06,246.91 L483.68,246.94 L484.30,246.97 L484.91,247.00 L485.53,247.03 L486.14,247.05 L486.76,247.08 L487.38,247.10 L487.99,247.13 L488.61,247.16 L489.22,247.18 L489.84,247.21 L490.46,247.23 L491.07,247.25 L491.69,247.28 L492.30,247.30 L492.92,247.33 L493.54,247.35 L494.15,247.37 L494.77,247.40 L495.38,247.42 L496.00,247.44 L496.62,247.47 L497.23,247.49 L497.85,247.51 L498.46,247.54 L499.08,247.56 L499.70,247.58 L500.31,247.60 L500.93,247.63 L501.54,247.65 L502.16,247.67 L502.78,247.69 L503.39,247.72 L504.01,247.74 L504.62,247.76 L505.24,247.78 L505.86,247.81 L506.47,247.83 L507.09,247.85 L507.70,247.87 L508.32,247.90 L508.94,247.92 L509.55,247.94 L510.17,247.96 L510.78,247.98 L511.40,248.01 L512.02,248.03 L512.63,248.05 L513.25,248.07 L513.86,248.10 L514.48,248.12" fill="none" stroke="#a83ce8" stroke-width="1.1" stroke-linejoin="round"/>
<path d="M403.60,255.80 L403.91,255.17 L404.22,254.58 L404.52,254.03 L404.83,253.52 L405.14,253.04 L405.45,252.59 L405.76,252.16 L406.06,251.77 L406.37,251.40 L406.68,251.05 L407.60,250.12 L408.53,249.34 L409.45,248.68 L410.38,248.12 L411.30,247.63 L412.22,247.20 L413.15,246.82 L414.07,246.48 L415.00,246.17 L415.92,245.89 L416.84,245.64 L417.77,245.40 L418.69,245.18 L419.62,244.97 L420.54,244.77 L421.46,244.58 L422.39,244.40 L423.31,244.23 L424.24,244.07 L425.16,243.91 L426.08,243.76 L427.01,243.61 L427.93,243.47 L428.86,243.34 L429.78,243.20 L430.70,243.08 L431.63,242.95 L432.55,242.83 L433.48,242.72 L434.40,242.61 L435.32,242.50 L436.25,242.39 L437.17,242.29 L438.10,242.19 L439.02,242.10 L439.94,242.00 L440.87,241.91 L441.79,241.82 L442.72,241.74 L443.64,241.66 L444.56,241.58 L445.49,241.50 L446.41,241.42 L447.34,241.35 L448.26,241.28 L449.18,241.21 L450.11,241.14 L451.03,241.08 L451.96,241.02 L452.88,240.95 L453.80,240.89 L454.73,240.84 L455.65,240.78 L456.58,240.73 L457.50,240.67 L458.42,240.62 L459.04,240.59 L459.66,241.04 L460.27,241.46 L460.89,241.83 L461.50,242.18 L462.12,242.49 L462.74,242.78 L463.35,243.04 L463.97,243.28 L464.58,243.50 L465.20,243.70 L465.82,243.88 L466.43,244.05 L467.05,244.21 L467.66,244.35 L468.28,244.48 L468.90,244.60 L469.51,244.72 L470.13,244.82 L470.74,244.92 L471.36,245.01 L471.98,245.09 L472.59,245.17 L473.21,245.25 L473.82,245.32 L474.44,245.38 L475.06,245.44 L475.67,245.50 L476.29,245.56 L476.90,245.61 L477.52,245.66 L478.14,245.71 L478.75,245.76 L479.37,245.80 L479.98,245.84 L480.60,245.88 L481.22,245.92 L481.83,245.96 L482.45,246.00 L483.06,246.04 L483.68,246.07 L484.30,246.11 L484.91,246.14 L485.53,246.17 L486.14,246.21 L486.76,246.24 L487.38,246.27 L487.99,246.30 L488.61,246.33 L489.22,246.36 L489.84,246.39 L490.46,246.42 L491.07,246.45 L491.69,246.48 L492.30,246.51 L492.92,246.54 L493.54,246.57 L494.15,246.60 L494.77,246.62 L495.38,246.65 L496.00,246.68 L496.62,246.71 L497.23,246.74 L497.85,246.76 L498.46,246.79 L499.08,246.82 L499.70,246.85 L500.31,246.87 L500.93,246.90 L501.54,246.93 L502.16,246.96 L502.78,246.98 L503.39,247.01 L504.01,247.04 L504.62,247.06 L505.24,247.09 L505.86,247.12 L506.47,247.15 L507.09,247.17 L507.70,247.20 L508.32,247.23 L508.94,247.25 L509.55,247.28 L510.17,247.31 L510.78,247.34 L511.40,247.36 L512.02,247.39 L512.63,247.42 L513.25,247.44 L513.86,247.47 L514.48,247.50" fill="none" stroke="#ff2222" stroke-width="1.1" stroke-linejoin="round"/>
<path d="M403.60,255.80 L403.91,254.94 L404.22,254.13 L404.52,253.38 L404.83,252.68 L405.14,252.03 L405.45,251.42 L405.76,250.86 L406.06,250.33 L406.37,249.83 L406.68,249.37 L407.60,248.14 L408.53,247.13 L409.45,246.28 L410.38,245.56 L411.30,244.96 L412.22,244.43 L413.15,243.98 L414.07,243.58 L415.00,243.22 L415.92,242.90 L416.84,242.61 L417.77,242.35 L418.69,242.10 L419.62,241.87 L420.54,241.66 L421.46,241.46 L422.39,241.26 L423.31,241.08 L424.24,240.91 L425.16,240.74 L426.08,240.58 L427.01,240.43 L427.93,240.28 L428.86,240.14 L429.78,240.01 L430.70,239.87 L431.63,239.74 L432.55,239.62 L433.48,239.50 L434.40,239.38 L435.32,239.27 L436.25,239.16 L437.17,239.06 L438.10,238.95 L439.02,238.85 L439.94,238.76 L440.87,238.66 L441.79,238.57 L442.72,238.48 L443.64,238.40 L444.56,238.31 L445.49,238.23 L446.41,238.16 L447.34,238.08 L448.26,238.01 L449.18,237.94 L450.11,237.87 L451.03,237.80 L451.96,237.73 L452.88,237.67 L453.80,237.61 L454.73,237.55 L455.65,237.49 L456.58,237.43 L457.50,237.38 L458.42,237.33 L459.04,237.29 L459.66,237.90 L460.27,238.45 L460.89,238.95 L461.50,239.41 L462.12,239.82 L462.74,240.20 L463.35,240.55 L463.97,240.87 L464.58,241.16 L465.20,241.43 L465.82,241.67 L466.43,241.90 L467.05,242.11 L467.66,242.30 L468.28,242.47 L468.90,242.64 L469.51,242.79 L470.13,242.93 L470.74,243.06 L471.36,243.18 L471.98,243.29 L472.59,243.39 L473.21,243.49 L473.82,243.59 L474.44,243.67 L475.06,243.76 L475.67,243.83 L476.29,243.91 L476.90,243.98 L477.52,244.05 L478.14,244.11 L478.75,244.17 L479.37,244.23 L479.98,244.29 L480.60,244.34 L481.22,244.39 L481.83,244.45 L482.45,244.50 L483.06,244.54 L483.68,244.59 L484.30,244.64 L484.91,244.68 L485.53,244.73 L486.14,244.77 L486.76,244.81 L487.38,244.86 L487.99,244.90 L488.61,244.94 L489.22,244.98 L489.84,245.02 L490.46,245.06 L491.07,245.10 L491.69,245.14 L492.30,245.17 L492.92,245.21 L493.54,245.25 L494.15,245.29 L494.77,245.33 L495.38,245.36 L496.00,245.40 L496.62,245.44 L497.23,245.48 L497.85,245.51 L498.46,245.55 L499.08,245.59 L499.70,245.62 L500.31,245.66 L500.93,245.70 L501.54,245.73 L502.16,245.77 L502.78,245.80 L503.39,245.84 L504.01,245.88 L504.62,245.91 L505.24,245.95 L505.86,245.99 L506.47,246.02 L507.09,246.06 L507.70,246.09 L508.32,246.13 L508.94,246.17 L509.55,246.20 L510.17,246.24 L510.78,246.27 L511.40,246.31 L512.02,246.34 L512.63,246.38 L513.25,246.42 L513.86,246.45 L514.48,246.49" fill="none" stroke="#1a1a1a" stroke-width="1.1" stroke-linejoin="round"/>
<path d="M403.60,255.80 L403.91,254.74 L404.22,253.75 L404.52,252.83 L404.83,251.97 L405.14,251.16 L405.45,250.41 L405.76,249.71 L406.06,249.06 L406.37,248.45 L406.68,247.87 L407.60,246.36 L408.53,245.11 L409.45,244.06 L410.38,243.17 L411.30,242.41 L412.22,241.76 L413.15,241.19 L414.07,240.69 L415.00,240.24 L415.92,239.84 L416.84,239.48 L417.77,239.14 L418.69,238.83 L419.62,238.54 L420.54,238.27 L421.46,238.01 L422.39,237.77 L423.31,237.54 L424.24,237.32 L425.16,237.11 L426.08,236.91 L427.01,236.71 L427.93,236.53 L428.86,236.34 L429.78,236.17 L430.70,236.00 L431.63,235.84 L432.55,235.68 L433.48,235.53 L434.40,235.38 L435.32,235.24 L436.25,235.10 L437.17,234.96 L438.10,234.83 L439.02,234.70 L439.94,234.58 L440.87,234.46 L441.79,234.34 L442.72,234.23 L443.64,234.12 L444.56,234.02 L445.49,233.91 L446.41,233.81 L447.34,233.72 L448.26,233.62 L449.18,233.53 L450.11,233.44 L451.03,233.36 L451.96,233.28 L452.88,233.19 L453.80,233.12 L454.73,233.04 L455.65,232.97 L456.58,232.89 L457.50,232.83 L458.42,232.76 L459.04,232.71 L459.66,233.30 L460.27,233.83 L460.89,234.31 L461.50,234.76 L462.12,235.16 L462.74,235.53 L463.35,235.86 L463.97,236.17 L464.58,236.45 L465.20,236.71 L465.82,236.95 L466.43,237.17 L467.05,237.37 L467.66,237.55 L468.28,237.72 L468.90,237.88 L469.51,238.02 L470.13,238.16 L470.74,238.28 L471.36,238.40 L471.98,238.51 L472.59,238.61 L473.21,238.71 L473.82,238.80 L474.44,238.88 L475.06,238.96 L475.67,239.03 L476.29,239.11 L476.90,239.17 L477.52,239.24 L478.14,239.30 L478.75,239.36 L479.37,239.42 L479.98,239.47 L480.60,239.53 L481.22,239.58 L481.83,239.63 L482.45,239.67 L483.06,239.72 L483.68,239.77 L484.30,239.81 L484.91,239.85 L485.53,239.90 L486.14,239.94 L486.76,239.98 L487.38,240.02 L487.99,240.06 L488.61,240.10 L489.22,240.14 L489.84,240.18 L490.46,240.22 L491.07,240.26 L491.69,240.29 L492.30,240.33 L492.92,240.37 L493.54,240.40 L494.15,240.44 L494.77,240.48 L495.38,240.51 L496.00,240.55 L496.62,240.58 L497.23,240.62 L497.85,240.66 L498.46,240.69 L499.08,240.73 L499.70,240.76 L500.31,240.80 L500.93,240.83 L501.54,240.87 L502.16,240.90 L502.78,240.94 L503.39,240.97 L504.01,241.01 L504.62,241.04 L505.24,241.08 L505.86,241.11 L506.47,241.15 L507.09,241.18 L507.70,241.22 L508.32,241.25 L508.94,241.29 L509.55,241.32 L510.17,241.36 L510.78,241.39 L511.40,241.43 L512.02,241.46 L512.63,241.50 L513.25,241.53 L513.86,241.56 L514.48,241.60" fill="none" stroke="#1f1fff" stroke-width="1.1" stroke-linejoin="round"/>
<path d="M403.60,255.80 L403.91,254.46 L404.22,253.21 L404.52,252.05 L404.83,250.98 L405.14,249.97 L405.45,249.04 L405.76,248.17 L406.06,247.37 L406.37,246.61 L406.68,245.91 L407.60,244.07 L408.53,242.57 L409.45,241.33 L410.38,240.30 L411.30,239.44 L412.22,238.72 L413.15,238.10 L414.07,237.56 L415.00,237.09 L415.92,236.68 L416.84,236.31 L417.77,235.98 L418.69,235.68 L419.62,235.40 L420.54,235.15 L421.46,234.91 L422.39,234.68 L423.31,234.47 L424.24,234.27 L425.16,234.08 L426.08,233.90 L427.01,233.72 L427.93,233.56 L428.86,233.39 L429.78,233.24 L430.70,233.09 L431.63,232.94 L432.55,232.80 L433.48,232.67 L434.40,232.54 L435.32,232.41 L436.25,232.29 L437.17,232.17 L438.10,232.05 L439.02,231.94 L439.94,231.83 L440.87,231.73 L441.79,231.63 L442.72,231.53 L443.64,231.43 L444.56,231.34 L445.49,231.25 L446.41,231.16 L447.34,231.08 L448.26,230.99 L449.18,230.91 L450.11,230.83 L451.03,230.76 L451.96,230.69 L452.88,230.62 L453.80,230.55 L454.73,230.48 L455.65,230.41 L456.58,230.35 L457.50,230.29 L458.42,230.23 L459.04,230.19 L459.66,230.96 L460.27,231.66 L460.89,232.30 L461.50,232.89 L462.12,233.42 L462.74,233.90 L463.35,234.35 L463.97,234.75 L464.58,235.12 L465.20,235.46 L465.82,235.78 L466.43,236.06 L467.05,236.33 L467.66,236.57 L468.28,236.79 L468.90,237.00 L469.51,237.19 L470.13,237.37 L470.74,237.54 L471.36,237.69 L471.98,237.83 L472.59,237.97 L473.21,238.09 L473.82,238.21 L474.44,238.32 L475.06,238.43 L475.67,238.53 L476.29,238.62 L476.90,238.71 L477.52,238.80 L478.14,238.88 L478.75,238.96 L479.37,239.03 L479.98,239.10 L480.60,239.17 L481.22,239.24 L481.83,239.31 L482.45,239.37 L483.06,239.43 L483.68,239.49 L484.30,239.55 L484.91,239.61 L485.53,239.67 L486.14,239.72 L486.76,239.78 L487.38,239.83 L487.99,239.88 L488.61,239.93 L489.22,239.99 L489.84,240.04 L490.46,240.09 L491.07,240.14 L491.69,240.19 L492.30,240.24 L492.92,240.28 L493.54,240.33 L494.15,240.38 L494.77,240.43 L495.38,240.48 L496.00,240.52 L496.62,240.57 L497.23,240.62 L497.85,240.67 L498.46,240.71 L499.08,240.76 L499.70,240.81 L500.31,240.85 L500.93,240.90 L501.54,240.95 L502.16,240.99 L502.78,241.04 L503.39,241.08 L504.01,241.13 L504.62,241.18 L505.24,241.22 L505.86,241.27 L506.47,241.31 L507.09,241.36 L507.70,241.41 L508.32,241.45 L508.94,241.50 L509.55,241.54 L510.17,241.59 L510.78,241.64 L511.40,241.68 L512.02,241.73 L512.63,241.77 L513.25,241.82 L513.86,241.86 L514.48,241.91" fill="none" stroke="#24248c" stroke-width="1.1" stroke-linejoin="round"/>
<path d="M403.60,178.20 V255.80 H520.60" fill="none" stroke="#000" stroke-width="1"/>
<line x1="400.60" y1="255.80" x2="403.60" y2="255.80" stroke="#000" stroke-width="0.9"/>
<line x1="400.60" y1="236.40" x2="403.60" y2="236.40" stroke="#000" stroke-width="0.9"/>
<line x1="400.60" y1="217.00" x2="403.60" y2="217.00" stroke="#000" stroke-width="0.9"/>
<line x1="400.60" y1="197.60" x2="403.60" y2="197.60" stroke="#000" stroke-width="0.9"/>
<line x1="400.60" y1="178.20" x2="403.60" y2="178.20" stroke="#000" stroke-width="0.9"/>
<line x1="403.60" y1="255.80" x2="403.60" y2="258.40" stroke="#000" stroke-width="0.9"/>
<text x="0" y="0" font-size="5.9" text-anchor="middle" font-weight="bold" fill="#000" transform="translate(403.60 266.20) scale(1.0 1.15)">360</text>
<line x1="419.00" y1="255.80" x2="419.00" y2="258.40" stroke="#000" stroke-width="0.9"/>
<line x1="434.40" y1="255.80" x2="434.40" y2="258.40" stroke="#000" stroke-width="0.9"/>
<text x="0" y="0" font-size="5.9" text-anchor="middle" font-weight="bold" fill="#000" transform="translate(434.40 266.20) scale(1.0 1.15)">460</text>
<line x1="449.80" y1="255.80" x2="449.80" y2="258.40" stroke="#000" stroke-width="0.9"/>
<line x1="465.20" y1="255.80" x2="465.20" y2="258.40" stroke="#000" stroke-width="0.9"/>
<text x="0" y="0" font-size="5.9" text-anchor="middle" font-weight="bold" fill="#000" transform="translate(465.20 266.20) scale(1.0 1.15)">560</text>
<line x1="480.60" y1="255.80" x2="480.60" y2="258.40" stroke="#000" stroke-width="0.9"/>
<line x1="496.00" y1="255.80" x2="496.00" y2="258.40" stroke="#000" stroke-width="0.9"/>
<text x="0" y="0" font-size="5.9" text-anchor="middle" font-weight="bold" fill="#000" transform="translate(496.00 266.20) scale(1.0 1.15)">660</text>
<line x1="511.40" y1="255.80" x2="511.40" y2="258.40" stroke="#000" stroke-width="0.9"/>
<text x="589.00" y="168.00" font-size="7.3" text-anchor="middle" font-weight="bold" fill="#000" >SFV009_3G01</text>
<path d="M530.50,256.20 L530.81,255.78 L531.12,255.38 L531.43,255.02 L531.74,254.67 L532.04,254.35 L532.35,254.05 L532.66,253.77 L532.97,253.51 L533.28,253.26 L533.59,253.02 L534.52,252.41 L535.44,251.89 L536.37,251.45 L537.30,251.08 L538.23,250.75 L539.15,250.47 L540.08,250.23 L541.01,250.01 L541.93,249.81 L542.86,249.63 L543.79,249.47 L544.71,249.32 L545.64,249.18 L546.57,249.05 L547.50,248.92 L548.42,248.81 L549.35,248.70 L550.28,248.60 L551.20,248.50 L552.13,248.41 L553.06,248.32 L553.98,248.23 L554.91,248.15 L555.84,248.07 L556.76,247.99 L557.69,247.92 L558.62,247.85 L559.55,247.78 L560.47,247.72 L561.40,247.65 L562.33,247.59 L563.25,247.54 L564.18,247.48 L565.11,247.43 L566.03,247.37 L566.96,247.32 L567.89,247.28 L568.82,247.23 L569.74,247.18 L570.67,247.14 L571.60,247.10 L572.52,247.06 L573.45,247.02 L574.38,246.98 L575.30,246.95 L576.23,246.91 L577.16,246.88 L578.09,246.84 L579.01,246.81 L579.94,246.78 L580.87,246.75 L581.79,246.72 L582.72,246.70 L583.65,246.67 L584.58,246.65 L585.50,246.62 L586.12,246.61 L586.74,246.90 L587.36,247.18 L587.97,247.45 L588.59,247.71 L589.21,247.97 L589.83,248.21 L590.45,248.44 L591.06,248.67 L591.68,248.88 L592.30,249.09 L592.92,249.29 L593.54,249.49 L594.15,249.67 L594.77,249.85 L595.39,250.02 L596.01,250.19 L596.63,250.35 L597.24,250.50 L597.86,250.65 L598.48,250.79 L599.10,250.93 L599.72,251.06 L600.33,251.19 L600.95,251.31 L601.57,251.43 L602.19,251.54 L602.81,251.65 L603.42,251.76 L604.04,251.86 L604.66,251.95 L605.28,252.05 L605.90,252.14 L606.51,252.22 L607.13,252.31 L607.75,252.39 L608.37,252.47 L608.99,252.54 L609.60,252.61 L610.22,252.68 L610.84,252.75 L611.46,252.81 L612.08,252.87 L612.69,252.93 L613.31,252.99 L613.93,253.05 L614.55,253.10 L615.17,253.15 L615.78,253.20 L616.40,253.25 L617.02,253.29 L617.64,253.34 L618.26,253.38 L618.87,253.42 L619.49,253.46 L620.11,253.50 L620.73,253.53 L621.35,253.57 L621.96,253.60 L622.58,253.63 L623.20,253.66 L623.82,253.69 L624.44,253.72 L625.05,253.75 L625.67,253.78 L626.29,253.80 L626.91,253.83 L627.53,253.85 L628.14,253.87 L628.76,253.90 L629.38,253.92 L630.00,253.94 L630.62,253.96 L631.23,253.98 L631.85,254.00 L632.47,254.01 L633.09,254.03 L633.71,254.05 L634.32,254.06 L634.94,254.08 L635.56,254.09 L636.18,254.11 L636.80,254.12 L637.41,254.13 L638.03,254.15 L638.65,254.16 L639.27,254.17 L639.89,254.18 L640.50,254.19 L641.12,254.20 L641.74,254.21" fill="none" stroke="#1f1fff" stroke-width="1.1" stroke-linejoin="round"/>
<path d="M530.50,256.20 L530.81,255.49 L531.12,254.84 L531.43,254.23 L531.74,253.66 L532.04,253.14 L532.35,252.65 L532.66,252.20 L532.97,251.77 L533.28,251.38 L533.59,251.01 L534.52,250.06 L535.44,249.28 L536.37,248.64 L537.30,248.12 L538.23,247.68 L539.15,247.32 L540.08,247.01 L541.01,246.75 L541.93,246.52 L542.86,246.33 L543.79,246.15 L544.71,246.00 L545.64,245.86 L546.57,245.73 L547.50,245.62 L548.42,245.51 L549.35,245.41 L550.28,245.32 L551.20,245.24 L552.13,245.16 L553.06,245.08 L553.98,245.01 L554.91,244.94 L555.84,244.87 L556.76,244.81 L557.69,244.75 L558.62,244.69 L559.55,244.64 L560.47,244.58 L561.40,244.53 L562.33,244.48 L563.25,244.44 L564.18,244.39 L565.11,244.35 L566.03,244.30 L566.96,244.26 L567.89,244.22 L568.82,244.19 L569.74,244.15 L570.67,244.11 L571.60,244.08 L572.52,244.05 L573.45,244.02 L574.38,243.99 L575.30,243.96 L576.23,243.93 L577.16,243.90 L578.09,243.87 L579.01,243.85 L579.94,243.82 L580.87,243.80 L581.79,243.78 L582.72,243.76 L583.65,243.73 L584.58,243.71 L585.50,243.69 L586.12,243.68 L586.74,244.08 L587.36,244.47 L587.97,244.84 L588.59,245.20 L589.21,245.54 L589.83,245.88 L590.45,246.20 L591.06,246.50 L591.68,246.80 L592.30,247.08 L592.92,247.36 L593.54,247.62 L594.15,247.88 L594.77,248.12 L595.39,248.36 L596.01,248.59 L596.63,248.80 L597.24,249.01 L597.86,249.22 L598.48,249.41 L599.10,249.60 L599.72,249.78 L600.33,249.95 L600.95,250.12 L601.57,250.28 L602.19,250.44 L602.81,250.59 L603.42,250.73 L604.04,250.87 L604.66,251.00 L605.28,251.13 L605.90,251.26 L606.51,251.37 L607.13,251.49 L607.75,251.60 L608.37,251.71 L608.99,251.81 L609.60,251.91 L610.22,252.00 L610.84,252.09 L611.46,252.18 L612.08,252.26 L612.69,252.35 L613.31,252.42 L613.93,252.50 L614.55,252.57 L615.17,252.64 L615.78,252.71 L616.40,252.77 L617.02,252.84 L617.64,252.90 L618.26,252.95 L618.87,253.01 L619.49,253.06 L620.11,253.11 L620.73,253.16 L621.35,253.21 L621.96,253.26 L622.58,253.30 L623.20,253.35 L623.82,253.39 L624.44,253.43 L625.05,253.46 L625.67,253.50 L626.29,253.54 L626.91,253.57 L627.53,253.60 L628.14,253.63 L628.76,253.66 L629.38,253.69 L630.00,253.72 L630.62,253.75 L631.23,253.77 L631.85,253.80 L632.47,253.82 L633.09,253.85 L633.71,253.87 L634.32,253.89 L634.94,253.91 L635.56,253.93 L636.18,253.95 L636.80,253.97 L637.41,253.99 L638.03,254.00 L638.65,254.02 L639.27,254.04 L639.89,254.05 L640.50,254.07 L641.12,254.08 L641.74,254.09" fill="none" stroke="#24248c" stroke-width="1.1" stroke-linejoin="round"/>
<path d="M530.50,256.20 L530.81,255.69 L531.12,255.21 L531.43,254.75 L531.74,254.31 L532.04,253.90 L532.35,253.51 L532.66,253.14 L532.97,252.78 L533.28,252.45 L533.59,252.12 L534.52,251.24 L535.44,250.45 L536.37,249.75 L537.30,249.12 L538.23,248.54 L539.15,248.01 L540.08,247.52 L541.01,247.06 L541.93,246.63 L542.86,246.23 L543.79,245.84 L544.71,245.48 L545.64,245.13 L546.57,244.79 L547.50,244.47 L548.42,244.16 L549.35,243.86 L550.28,243.57 L551.20,243.29 L552.13,243.02 L553.06,242.76 L553.98,242.51 L554.91,242.27 L555.84,242.03 L556.76,241.80 L557.69,241.58 L558.62,241.36 L559.55,241.15 L560.47,240.95 L561.40,240.76 L562.33,240.56 L563.25,240.38 L564.18,240.20 L565.11,240.03 L566.03,239.86 L566.96,239.69 L567.89,239.53 L568.82,239.38 L569.74,239.23 L570.67,239.08 L571.60,238.94 L572.52,238.81 L573.45,238.67 L574.38,238.55 L575.30,238.42 L576.23,238.30 L577.16,238.18 L578.09,238.07 L579.01,237.96 L579.94,237.85 L580.87,237.74 L581.79,237.64 L582.72,237.54 L583.65,237.45 L584.58,237.36 L585.50,237.27 L586.12,237.21 L586.74,237.66 L587.36,238.07 L587.97,238.45 L588.59,238.80 L589.21,239.12 L589.83,239.41 L590.45,239.69 L591.06,239.94 L591.68,240.17 L592.30,240.39 L592.92,240.59 L593.54,240.78 L594.15,240.95 L594.77,241.12 L595.39,241.27 L596.01,241.41 L596.63,241.55 L597.24,241.68 L597.86,241.80 L598.48,241.91 L599.10,242.02 L599.72,242.13 L600.33,242.23 L600.95,242.32 L601.57,242.42 L602.19,242.50 L602.81,242.59 L603.42,242.67 L604.04,242.75 L604.66,242.83 L605.28,242.91 L605.90,242.98 L606.51,243.05 L607.13,243.12 L607.75,243.19 L608.37,243.26 L608.99,243.33 L609.60,243.39 L610.22,243.46 L610.84,243.52 L611.46,243.59 L612.08,243.65 L612.69,243.71 L613.31,243.77 L613.93,243.83 L614.55,243.90 L615.17,243.96 L615.78,244.02 L616.40,244.07 L617.02,244.13 L617.64,244.19 L618.26,244.25 L618.87,244.31 L619.49,244.37 L620.11,244.43 L620.73,244.48 L621.35,244.54 L621.96,244.60 L622.58,244.66 L623.20,244.71 L623.82,244.77 L624.44,244.83 L625.05,244.89 L625.67,244.94 L626.29,245.00 L626.91,245.06 L627.53,245.11 L628.14,245.17 L628.76,245.23 L629.38,245.28 L630.00,245.34 L630.62,245.40 L631.23,245.45 L631.85,245.51 L632.47,245.57 L633.09,245.62 L633.71,245.68 L634.32,245.73 L634.94,245.79 L635.56,245.85 L636.18,245.90 L636.80,245.96 L637.41,246.02 L638.03,246.07 L638.65,246.13 L639.27,246.19 L639.89,246.24 L640.50,246.30 L641.12,246.35 L641.74,246.41" fill="none" stroke="#22b822" stroke-width="1.1" stroke-linejoin="round"/>
<path d="M530.50,256.20 L530.81,255.64 L531.12,255.11 L531.43,254.60 L531.74,254.12 L532.04,253.67 L532.35,253.24 L532.66,252.83 L532.97,252.44 L533.28,252.07 L533.59,251.71 L534.52,250.74 L535.44,249.87 L536.37,249.10 L537.30,248.41 L538.23,247.77 L539.15,247.19 L540.08,246.65 L541.01,246.14 L541.93,245.67 L542.86,245.22 L543.79,244.80 L544.71,244.40 L545.64,244.01 L546.57,243.64 L547.50,243.29 L548.42,242.95 L549.35,242.62 L550.28,242.30 L551.20,241.99 L552.13,241.70 L553.06,241.41 L553.98,241.13 L554.91,240.87 L555.84,240.61 L556.76,240.35 L557.69,240.11 L558.62,239.87 L559.55,239.64 L560.47,239.42 L561.40,239.20 L562.33,238.99 L563.25,238.79 L564.18,238.59 L565.11,238.40 L566.03,238.21 L566.96,238.03 L567.89,237.86 L568.82,237.69 L569.74,237.52 L570.67,237.36 L571.60,237.21 L572.52,237.06 L573.45,236.91 L574.38,236.77 L575.30,236.63 L576.23,236.50 L577.16,236.37 L578.09,236.24 L579.01,236.12 L579.94,236.00 L580.87,235.89 L581.79,235.77 L582.72,235.67 L583.65,235.56 L584.58,235.46 L585.50,235.36 L586.12,235.30 L586.74,235.77 L587.36,236.20 L587.97,236.59 L588.59,236.95 L589.21,237.29 L589.83,237.60 L590.45,237.88 L591.06,238.14 L591.68,238.39 L592.30,238.61 L592.92,238.82 L593.54,239.02 L594.15,239.20 L594.77,239.37 L595.39,239.53 L596.01,239.68 L596.63,239.82 L597.24,239.96 L597.86,240.08 L598.48,240.20 L599.10,240.32 L599.72,240.43 L600.33,240.53 L600.95,240.63 L601.57,240.73 L602.19,240.82 L602.81,240.91 L603.42,240.99 L604.04,241.08 L604.66,241.16 L605.28,241.24 L605.90,241.31 L606.51,241.39 L607.13,241.46 L607.75,241.54 L608.37,241.61 L608.99,241.68 L609.60,241.75 L610.22,241.81 L610.84,241.88 L611.46,241.95 L612.08,242.01 L612.69,242.08 L613.31,242.14 L613.93,242.20 L614.55,242.27 L615.17,242.33 L615.78,242.39 L616.40,242.45 L617.02,242.52 L617.64,242.58 L618.26,242.64 L618.87,242.70 L619.49,242.76 L620.11,242.82 L620.73,242.88 L621.35,242.94 L621.96,243.00 L622.58,243.06 L623.20,243.12 L623.82,243.18 L624.44,243.24 L625.05,243.30 L625.67,243.36 L626.29,243.42 L626.91,243.48 L627.53,243.54 L628.14,243.60 L628.76,243.65 L629.38,243.71 L630.00,243.77 L630.62,243.83 L631.23,243.89 L631.85,243.95 L632.47,244.01 L633.09,244.07 L633.71,244.13 L634.32,244.19 L634.94,244.24 L635.56,244.30 L636.18,244.36 L636.80,244.42 L637.41,244.48 L638.03,244.54 L638.65,244.60 L639.27,244.66 L639.89,244.71 L640.50,244.77 L641.12,244.83 L641.74,244.89" fill="none" stroke="#a83ce8" stroke-width="1.1" stroke-linejoin="round"/>
<path d="M530.50,256.20 L530.81,255.29 L531.12,254.44 L531.43,253.65 L531.74,252.90 L532.04,252.20 L532.35,251.54 L532.66,250.92 L532.97,250.34 L533.28,249.79 L533.59,249.28 L534.52,247.89 L535.44,246.72 L536.37,245.71 L537.30,244.84 L538.23,244.08 L539.15,243.40 L540.08,242.80 L541.01,242.26 L541.93,241.76 L542.86,241.31 L543.79,240.89 L544.71,240.50 L545.64,240.14 L546.57,239.80 L547.50,239.47 L548.42,239.17 L549.35,238.88 L550.28,238.60 L551.20,238.34 L552.13,238.09 L553.06,237.84 L553.98,237.61 L554.91,237.39 L555.84,237.17 L556.76,236.97 L557.69,236.77 L558.62,236.58 L559.55,236.40 L560.47,236.22 L561.40,236.05 L562.33,235.88 L563.25,235.73 L564.18,235.57 L565.11,235.43 L566.03,235.28 L566.96,235.15 L567.89,235.02 L568.82,234.89 L569.74,234.77 L570.67,234.65 L571.60,234.53 L572.52,234.42 L573.45,234.32 L574.38,234.21 L575.30,234.11 L576.23,234.02 L577.16,233.93 L578.09,233.84 L579.01,233.75 L579.94,233.67 L580.87,233.59 L581.79,233.51 L582.72,233.44 L583.65,233.37 L584.58,233.30 L585.50,233.23 L586.12,233.19 L586.74,233.71 L587.36,234.18 L587.97,234.61 L588.59,235.01 L589.21,235.38 L589.83,235.71 L590.45,236.03 L591.06,236.31 L591.68,236.58 L592.30,236.83 L592.92,237.06 L593.54,237.27 L594.15,237.47 L594.77,237.66 L595.39,237.84 L596.01,238.00 L596.63,238.16 L597.24,238.30 L597.86,238.44 L598.48,238.57 L599.10,238.70 L599.72,238.82 L600.33,238.93 L600.95,239.04 L601.57,239.15 L602.19,239.25 L602.81,239.35 L603.42,239.44 L604.04,239.53 L604.66,239.62 L605.28,239.71 L605.90,239.80 L606.51,239.88 L607.13,239.96 L607.75,240.04 L608.37,240.12 L608.99,240.19 L609.60,240.27 L610.22,240.34 L610.84,240.42 L611.46,240.49 L612.08,240.56 L612.69,240.63 L613.31,240.70 L613.93,240.77 L614.55,240.84 L615.17,240.91 L615.78,240.98 L616.40,241.05 L617.02,241.11 L617.64,241.18 L618.26,241.25 L618.87,241.32 L619.49,241.38 L620.11,241.45 L620.73,241.52 L621.35,241.58 L621.96,241.65 L622.58,241.71 L623.20,241.78 L623.82,241.84 L624.44,241.91 L625.05,241.97 L625.67,242.04 L626.29,242.10 L626.91,242.17 L627.53,242.23 L628.14,242.30 L628.76,242.36 L629.38,242.43 L630.00,242.49 L630.62,242.56 L631.23,242.62 L631.85,242.69 L632.47,242.75 L633.09,242.82 L633.71,242.88 L634.32,242.95 L634.94,243.01 L635.56,243.08 L636.18,243.14 L636.80,243.20 L637.41,243.27 L638.03,243.33 L638.65,243.40 L639.27,243.46 L639.89,243.53 L640.50,243.59 L641.12,243.66 L641.74,243.72" fill="none" stroke="#a8783a" stroke-width="1.1" stroke-linejoin="round"/>
<path d="M530.50,256.20 L530.81,255.32 L531.12,254.49 L531.43,253.72 L531.74,252.99 L532.04,252.31 L532.35,251.67 L532.66,251.07 L532.97,250.50 L533.28,249.97 L533.59,249.46 L534.52,248.12 L535.44,246.97 L536.37,245.99 L537.30,245.15 L538.23,244.40 L539.15,243.75 L540.08,243.16 L541.01,242.63 L541.93,242.15 L542.86,241.71 L543.79,241.31 L544.71,240.93 L545.64,240.57 L546.57,240.24 L547.50,239.93 L548.42,239.63 L549.35,239.35 L550.28,239.08 L551.20,238.82 L552.13,238.58 L553.06,238.34 L553.98,238.12 L554.91,237.90 L555.84,237.69 L556.76,237.49 L557.69,237.30 L558.62,237.11 L559.55,236.93 L560.47,236.76 L561.40,236.60 L562.33,236.44 L563.25,236.28 L564.18,236.13 L565.11,235.99 L566.03,235.85 L566.96,235.72 L567.89,235.59 L568.82,235.47 L569.74,235.35 L570.67,235.23 L571.60,235.12 L572.52,235.01 L573.45,234.91 L574.38,234.81 L575.30,234.71 L576.23,234.62 L577.16,234.53 L578.09,234.45 L579.01,234.36 L579.94,234.28 L580.87,234.20 L581.79,234.13 L582.72,234.06 L583.65,233.99 L584.58,233.92 L585.50,233.86 L586.12,233.81 L586.74,234.32 L587.36,234.79 L587.97,235.21 L588.59,235.61 L589.21,235.97 L589.83,236.30 L590.45,236.61 L591.06,236.89 L591.68,237.16 L592.30,237.40 L592.92,237.63 L593.54,237.84 L594.15,238.03 L594.77,238.22 L595.39,238.39 L596.01,238.55 L596.63,238.71 L597.24,238.85 L597.86,238.99 L598.48,239.12 L599.10,239.24 L599.72,239.36 L600.33,239.47 L600.95,239.58 L601.57,239.68 L602.19,239.78 L602.81,239.88 L603.42,239.97 L604.04,240.06 L604.66,240.15 L605.28,240.24 L605.90,240.32 L606.51,240.40 L607.13,240.48 L607.75,240.56 L608.37,240.64 L608.99,240.71 L609.60,240.79 L610.22,240.86 L610.84,240.93 L611.46,241.00 L612.08,241.08 L612.69,241.15 L613.31,241.22 L613.93,241.28 L614.55,241.35 L615.17,241.42 L615.78,241.49 L616.40,241.55 L617.02,241.62 L617.64,241.69 L618.26,241.75 L618.87,241.82 L619.49,241.89 L620.11,241.95 L620.73,242.02 L621.35,242.08 L621.96,242.15 L622.58,242.21 L623.20,242.28 L623.82,242.34 L624.44,242.40 L625.05,242.47 L625.67,242.53 L626.29,242.60 L626.91,242.66 L627.53,242.72 L628.14,242.79 L628.76,242.85 L629.38,242.92 L630.00,242.98 L630.62,243.04 L631.23,243.11 L631.85,243.17 L632.47,243.24 L633.09,243.30 L633.71,243.36 L634.32,243.43 L634.94,243.49 L635.56,243.55 L636.18,243.62 L636.80,243.68 L637.41,243.74 L638.03,243.81 L638.65,243.87 L639.27,243.93 L639.89,244.00 L640.50,244.06 L641.12,244.12 L641.74,244.19" fill="none" stroke="#ff2222" stroke-width="1.1" stroke-linejoin="round"/>
<path d="M530.50,256.20 L530.81,255.24 L531.12,254.34 L531.43,253.49 L531.74,252.70 L532.04,251.96 L532.35,251.26 L532.66,250.60 L532.97,249.98 L533.28,249.40 L533.59,248.85 L534.52,247.39 L535.44,246.14 L536.37,245.07 L537.30,244.14 L538.23,243.34 L539.15,242.62 L540.08,241.98 L541.01,241.40 L541.93,240.88 L542.86,240.40 L543.79,239.96 L544.71,239.54 L545.64,239.16 L546.57,238.80 L547.50,238.45 L548.42,238.13 L549.35,237.82 L550.28,237.53 L551.20,237.25 L552.13,236.98 L553.06,236.72 L553.98,236.48 L554.91,236.24 L555.84,236.01 L556.76,235.80 L557.69,235.59 L558.62,235.38 L559.55,235.19 L560.47,235.00 L561.40,234.82 L562.33,234.65 L563.25,234.48 L564.18,234.32 L565.11,234.16 L566.03,234.01 L566.96,233.86 L567.89,233.72 L568.82,233.59 L569.74,233.46 L570.67,233.33 L571.60,233.21 L572.52,233.09 L573.45,232.98 L574.38,232.87 L575.30,232.77 L576.23,232.67 L577.16,232.57 L578.09,232.47 L579.01,232.38 L579.94,232.30 L580.87,232.21 L581.79,232.13 L582.72,232.05 L583.65,231.98 L584.58,231.90 L585.50,231.83 L586.12,231.79 L586.74,232.32 L587.36,232.81 L587.97,233.26 L588.59,233.67 L589.21,234.05 L589.83,234.40 L590.45,234.73 L591.06,235.03 L591.68,235.30 L592.30,235.56 L592.92,235.80 L593.54,236.02 L594.15,236.23 L594.77,236.42 L595.39,236.61 L596.01,236.78 L596.63,236.94 L597.24,237.09 L597.86,237.23 L598.48,237.37 L599.10,237.50 L599.72,237.62 L600.33,237.74 L600.95,237.86 L601.57,237.97 L602.19,238.07 L602.81,238.17 L603.42,238.27 L604.04,238.37 L604.66,238.46 L605.28,238.55 L605.90,238.64 L606.51,238.72 L607.13,238.81 L607.75,238.89 L608.37,238.97 L608.99,239.05 L609.60,239.13 L610.22,239.20 L610.84,239.28 L611.46,239.36 L612.08,239.43 L612.69,239.50 L613.31,239.58 L613.93,239.65 L614.55,239.72 L615.17,239.79 L615.78,239.86 L616.40,239.93 L617.02,240.00 L617.64,240.07 L618.26,240.14 L618.87,240.21 L619.49,240.28 L620.11,240.35 L620.73,240.42 L621.35,240.49 L621.96,240.56 L622.58,240.62 L623.20,240.69 L623.82,240.76 L624.44,240.83 L625.05,240.90 L625.67,240.96 L626.29,241.03 L626.91,241.10 L627.53,241.17 L628.14,241.23 L628.76,241.30 L629.38,241.37 L630.00,241.43 L630.62,241.50 L631.23,241.57 L631.85,241.64 L632.47,241.70 L633.09,241.77 L633.71,241.84 L634.32,241.90 L634.94,241.97 L635.56,242.04 L636.18,242.10 L636.80,242.17 L637.41,242.24 L638.03,242.31 L638.65,242.37 L639.27,242.44 L639.89,242.51 L640.50,242.57 L641.12,242.64 L641.74,242.71" fill="none" stroke="#ff8a1e" stroke-width="1.1" stroke-linejoin="round"/>
<path d="M530.50,256.20 L530.81,255.02 L531.12,253.91 L531.43,252.87 L531.74,251.90 L532.04,251.00 L532.35,250.14 L532.66,249.35 L532.97,248.60 L533.28,247.89 L533.59,247.23 L534.52,245.46 L535.44,243.98 L536.37,242.71 L537.30,241.63 L538.23,240.68 L539.15,239.86 L540.08,239.13 L541.01,238.47 L541.93,237.88 L542.86,237.34 L543.79,236.85 L544.71,236.39 L545.64,235.97 L546.57,235.57 L547.50,235.20 L548.42,234.84 L549.35,234.51 L550.28,234.19 L551.20,233.89 L552.13,233.60 L553.06,233.32 L553.98,233.05 L554.91,232.80 L555.84,232.55 L556.76,232.32 L557.69,232.09 L558.62,231.87 L559.55,231.66 L560.47,231.46 L561.40,231.26 L562.33,231.08 L563.25,230.90 L564.18,230.72 L565.11,230.55 L566.03,230.39 L566.96,230.24 L567.89,230.09 L568.82,229.94 L569.74,229.80 L570.67,229.67 L571.60,229.53 L572.52,229.41 L573.45,229.29 L574.38,229.17 L575.30,229.06 L576.23,228.95 L577.16,228.84 L578.09,228.74 L579.01,228.65 L579.94,228.55 L580.87,228.46 L581.79,228.37 L582.72,228.29 L583.65,228.21 L584.58,228.13 L585.50,228.05 L586.12,228.00 L586.74,228.61 L587.36,229.17 L587.97,229.68 L588.59,230.15 L589.21,230.58 L589.83,230.98 L590.45,231.34 L591.06,231.68 L591.68,232.00 L592.30,232.29 L592.92,232.56 L593.54,232.81 L594.15,233.05 L594.77,233.27 L595.39,233.48 L596.01,233.67 L596.63,233.85 L597.24,234.03 L597.86,234.19 L598.48,234.35 L599.10,234.49 L599.72,234.63 L600.33,234.77 L600.95,234.90 L601.57,235.02 L602.19,235.14 L602.81,235.26 L603.42,235.37 L604.04,235.48 L604.66,235.58 L605.28,235.68 L605.90,235.78 L606.51,235.88 L607.13,235.98 L607.75,236.07 L608.37,236.16 L608.99,236.25 L609.60,236.34 L610.22,236.43 L610.84,236.51 L611.46,236.60 L612.08,236.68 L612.69,236.77 L613.31,236.85 L613.93,236.93 L614.55,237.01 L615.17,237.10 L615.78,237.18 L616.40,237.26 L617.02,237.34 L617.64,237.42 L618.26,237.49 L618.87,237.57 L619.49,237.65 L620.11,237.73 L620.73,237.81 L621.35,237.89 L621.96,237.96 L622.58,238.04 L623.20,238.12 L623.82,238.20 L624.44,238.27 L625.05,238.35 L625.67,238.43 L626.29,238.50 L626.91,238.58 L627.53,238.66 L628.14,238.73 L628.76,238.81 L629.38,238.88 L630.00,238.96 L630.62,239.04 L631.23,239.11 L631.85,239.19 L632.47,239.27 L633.09,239.34 L633.71,239.42 L634.32,239.49 L634.94,239.57 L635.56,239.65 L636.18,239.72 L636.80,239.80 L637.41,239.87 L638.03,239.95 L638.65,240.03 L639.27,240.10 L639.89,240.18 L640.50,240.25 L641.12,240.33 L641.74,240.40" fill="none" stroke="#1a1a1a" stroke-width="1.1" stroke-linejoin="round"/>
<path d="M530.50,178.20 V256.20 H647.80" fill="none" stroke="#000" stroke-width="1"/>
<line x1="527.50" y1="256.20" x2="530.50" y2="256.20" stroke="#000" stroke-width="0.9"/>
<line x1="527.50" y1="236.70" x2="530.50" y2="236.70" stroke="#000" stroke-width="0.9"/>
<line x1="527.50" y1="217.20" x2="530.50" y2="217.20" stroke="#000" stroke-width="0.9"/>
<line x1="527.50" y1="197.70" x2="530.50" y2="197.70" stroke="#000" stroke-width="0.9"/>
<line x1="527.50" y1="178.20" x2="530.50" y2="178.20" stroke="#000" stroke-width="0.9"/>
<line x1="530.50" y1="256.20" x2="530.50" y2="258.80" stroke="#000" stroke-width="0.9"/>
<text x="0" y="0" font-size="5.9" text-anchor="middle" font-weight="bold" fill="#000" transform="translate(530.50 266.60) scale(1.0 1.15)">360</text>
<line x1="545.95" y1="256.20" x2="545.95" y2="258.80" stroke="#000" stroke-width="0.9"/>
<line x1="561.40" y1="256.20" x2="561.40" y2="258.80" stroke="#000" stroke-width="0.9"/>
<text x="0" y="0" font-size="5.9" text-anchor="middle" font-weight="bold" fill="#000" transform="translate(561.40 266.60) scale(1.0 1.15)">460</text>
<line x1="576.85" y1="256.20" x2="576.85" y2="258.80" stroke="#000" stroke-width="0.9"/>
<line x1="592.30" y1="256.20" x2="592.30" y2="258.80" stroke="#000" stroke-width="0.9"/>
<text x="0" y="0" font-size="5.9" text-anchor="middle" font-weight="bold" fill="#000" transform="translate(592.30 266.60) scale(1.0 1.15)">560</text>
<line x1="607.75" y1="256.20" x2="607.75" y2="258.80" stroke="#000" stroke-width="0.9"/>
<line x1="623.20" y1="256.20" x2="623.20" y2="258.80" stroke="#000" stroke-width="0.9"/>
<text x="0" y="0" font-size="5.9" text-anchor="middle" font-weight="bold" fill="#000" transform="translate(623.20 266.60) scale(1.0 1.15)">660</text>
<line x1="638.65" y1="256.20" x2="638.65" y2="258.80" stroke="#000" stroke-width="0.9"/>
<text x="6.80" y="215.70" font-size="8.2" text-anchor="middle" font-weight="bold" fill="#000" transform="rotate(-90 6.8 215.7)">Response (nm)</text>
<text x="333.50" y="276.00" font-size="8.6" text-anchor="middle" font-weight="bold" fill="#000" >Time (s)</text>
<line x1="651.6" y1="177.30" x2="660.6" y2="177.30" stroke="#3a3aff" stroke-width="1.1"/>
<text x="665.00" y="179.60" font-size="6.3" text-anchor="start" font-weight="normal" fill="#000" >1934</text>
<line x1="651.6" y1="188.23" x2="660.6" y2="188.23" stroke="#ff3a3a" stroke-width="1.1"/>
<text x="665.00" y="190.53" font-size="6.3" text-anchor="start" font-weight="normal" fill="#000" >1977</text>
<line x1="651.6" y1="199.16" x2="660.6" y2="199.16" stroke="#33c033" stroke-width="1.1"/>
<text x="665.00" y="201.46" font-size="6.3" text-anchor="start" font-weight="normal" fill="#000" >1995</text>
<line x1="651.6" y1="210.09" x2="660.6" y2="210.09" stroke="#b050f0" stroke-width="1.1"/>
<text x="665.00" y="212.39" font-size="6.3" text-anchor="start" font-weight="normal" fill="#000" >1999</text>
<line x1="651.6" y1="221.02" x2="660.6" y2="221.02" stroke="#ff9a3a" stroke-width="1.1"/>
<text x="665.00" y="223.32" font-size="6.3" text-anchor="start" font-weight="normal" fill="#000" >2006</text>
<line x1="651.6" y1="231.95" x2="660.6" y2="231.95" stroke="#333333" stroke-width="1.1"/>
<text x="665.00" y="234.25" font-size="6.3" text-anchor="start" font-weight="normal" fill="#000" >2009</text>
<line x1="651.6" y1="242.88" x2="660.6" y2="242.88" stroke="#c4a07c" stroke-width="1.1"/>
<text x="665.00" y="245.18" font-size="6.3" text-anchor="start" font-weight="normal" fill="#000" >2015</text>
<line x1="651.6" y1="253.81" x2="660.6" y2="253.81" stroke="#5a64c0" stroke-width="1.1"/>
<text x="665.00" y="256.11" font-size="6.3" text-anchor="start" font-weight="normal" fill="#000" >2019</text>
<text x="0.00" y="306.00" font-size="10" text-anchor="start" font-weight="normal" fill="#000" >c</text>
<line x1="62.5" y1="339.1" x2="263.2" y2="339.1" stroke="#c4c4c4" stroke-width="0.8" stroke-dasharray="1 1.3"/>
<path d="M61.80,379.30 L65.10,376.00 L68.40,379.30 L65.10,382.60 Z" fill="none" stroke="#4a4ad0" stroke-width="1.1"/>
<path d="M65.40,389.70 L67.05,387.06 L70.35,387.06 L72.00,389.70 L70.35,392.34 L67.05,392.34 Z" fill="none" stroke="#ee3322" stroke-width="1.1"/>
<path d="M69.30,399.12 L75.90,399.12 L72.60,405.06 Z" fill="none" stroke="#33bb22" stroke-width="1.1" stroke-linejoin="miter"/>
<circle cx="76.60" cy="414.30" r="3.04" fill="none" stroke="#b45ce0" stroke-width="1.1"/>
<path d="M77.10,416.88 L83.70,416.88 L80.40,410.94 Z" fill="none" stroke="#ff9a10" stroke-width="1.1"/>
<rect x="81.33" y="431.33" width="5.94" height="5.94" fill="none" stroke="#1a1a1a" stroke-width="1.10"/>
<path d="M85.00,408.80 L88.30,405.50 L91.60,408.80 L88.30,412.10 Z" fill="none" stroke="#b08428" stroke-width="1.1"/><rect x="86.98" y="407.48" width="2.64" height="2.64" fill="#b08428"/>
<path d="M88.70,401.40 L90.35,398.53 L93.65,398.53 L95.30,401.40 L93.65,404.27 L90.35,404.27 Z" fill="none" stroke="#2a2a98" stroke-width="1.10" stroke-linejoin="miter"/><path d="M88.70,401.40 H95.30 M90.35,398.53 L93.65,404.27 M93.65,398.53 L90.35,404.27" stroke="#2a2a98" stroke-width="0.88" fill="none"/>
<path d="M95.00,395.60 L98.30,392.30 L101.60,395.60 L98.30,398.90 Z" fill="none" stroke="#4a4ad0" stroke-width="1.1"/>
<path d="M98.90,398.60 L100.55,395.96 L103.85,395.96 L105.50,398.60 L103.85,401.24 L100.55,401.24 Z" fill="none" stroke="#ee3322" stroke-width="1.1"/>
<path d="M103.00,411.22 L109.60,411.22 L106.30,417.16 Z" fill="none" stroke="#33bb22" stroke-width="1.1" stroke-linejoin="miter"/>
<circle cx="109.90" cy="419.90" r="3.04" fill="none" stroke="#b45ce0" stroke-width="1.1"/>
<path d="M110.80,422.98 L117.40,422.98 L114.10,417.04 Z" fill="none" stroke="#ff9a10" stroke-width="1.1"/>
<rect x="114.73" y="431.33" width="5.94" height="5.94" fill="none" stroke="#1a1a1a" stroke-width="1.10"/>
<path d="M118.20,420.50 L121.50,417.20 L124.80,420.50 L121.50,423.80 Z" fill="none" stroke="#b08428" stroke-width="1.1"/><rect x="120.18" y="419.18" width="2.64" height="2.64" fill="#b08428"/>
<path d="M122.10,416.60 L123.75,413.73 L127.05,413.73 L128.70,416.60 L127.05,419.47 L123.75,419.47 Z" fill="none" stroke="#2a2a98" stroke-width="1.10" stroke-linejoin="miter"/><path d="M122.10,416.60 H128.70 M123.75,413.73 L127.05,419.47 M127.05,413.73 L123.75,419.47" stroke="#2a2a98" stroke-width="0.88" fill="none"/>
<path d="M128.80,400.00 L132.10,396.70 L135.40,400.00 L132.10,403.30 Z" fill="none" stroke="#4a4ad0" stroke-width="1.1"/>
<path d="M132.40,412.50 L134.05,409.86 L137.35,409.86 L139.00,412.50 L137.35,415.14 L134.05,415.14 Z" fill="none" stroke="#ee3322" stroke-width="1.1"/>
<path d="M136.20,410.62 L142.80,410.62 L139.50,416.56 Z" fill="none" stroke="#33bb22" stroke-width="1.1" stroke-linejoin="miter"/>
<circle cx="143.70" cy="424.60" r="3.04" fill="none" stroke="#b45ce0" stroke-width="1.1"/>
<path d="M144.00,422.08 L150.60,422.08 L147.30,416.14 Z" fill="none" stroke="#ff9a10" stroke-width="1.1"/>
<rect x="148.73" y="432.73" width="5.94" height="5.94" fill="none" stroke="#1a1a1a" stroke-width="1.10"/>
<path d="M152.30,420.50 L155.60,417.20 L158.90,420.50 L155.60,423.80 Z" fill="none" stroke="#b08428" stroke-width="1.1"/><rect x="154.28" y="419.18" width="2.64" height="2.64" fill="#b08428"/>
<path d="M156.30,427.50 L157.95,424.63 L161.25,424.63 L162.90,427.50 L161.25,430.37 L157.95,430.37 Z" fill="none" stroke="#2a2a98" stroke-width="1.10" stroke-linejoin="miter"/><path d="M156.30,427.50 H162.90 M157.95,424.63 L161.25,430.37 M161.25,424.63 L157.95,430.37" stroke="#2a2a98" stroke-width="0.88" fill="none"/>
<path d="M162.40,367.40 L165.70,364.10 L169.00,367.40 L165.70,370.70 Z" fill="none" stroke="#4a4ad0" stroke-width="1.1"/>
<path d="M166.30,375.70 L167.95,373.06 L171.25,373.06 L172.90,375.70 L171.25,378.34 L167.95,378.34 Z" fill="none" stroke="#ee3322" stroke-width="1.1"/>
<path d="M169.90,384.32 L176.50,384.32 L173.20,390.26 Z" fill="none" stroke="#33bb22" stroke-width="1.1" stroke-linejoin="miter"/>
<circle cx="177.40" cy="392.80" r="3.04" fill="none" stroke="#b45ce0" stroke-width="1.1"/>
<path d="M178.20,393.78 L184.80,393.78 L181.50,387.84 Z" fill="none" stroke="#ff9a10" stroke-width="1.1"/>
<rect x="182.13" y="414.43" width="5.94" height="5.94" fill="none" stroke="#1a1a1a" stroke-width="1.10"/>
<path d="M185.70,396.40 L189.00,393.10 L192.30,396.40 L189.00,399.70 Z" fill="none" stroke="#b08428" stroke-width="1.1"/><rect x="187.68" y="395.08" width="2.64" height="2.64" fill="#b08428"/>
<path d="M189.60,393.90 L191.25,391.03 L194.55,391.03 L196.20,393.90 L194.55,396.77 L191.25,396.77 Z" fill="none" stroke="#2a2a98" stroke-width="1.10" stroke-linejoin="miter"/><path d="M189.60,393.90 H196.20 M191.25,391.03 L194.55,396.77 M194.55,391.03 L191.25,396.77" stroke="#2a2a98" stroke-width="0.88" fill="none"/>
<path d="M196.30,339.10 L199.60,335.80 L202.90,339.10 L199.60,342.40 Z" fill="none" stroke="#4a4ad0" stroke-width="1.1"/>
<path d="M200.20,339.10 L201.85,336.46 L205.15,336.46 L206.80,339.10 L205.15,341.74 L201.85,341.74 Z" fill="none" stroke="#ee3322" stroke-width="1.1"/>
<path d="M203.70,376.62 L210.30,376.62 L207.00,382.56 Z" fill="none" stroke="#33bb22" stroke-width="1.1" stroke-linejoin="miter"/>
<circle cx="210.80" cy="397.80" r="3.04" fill="none" stroke="#b45ce0" stroke-width="1.1"/>
<path d="M211.40,387.18 L218.00,387.18 L214.70,381.24 Z" fill="none" stroke="#ff9a10" stroke-width="1.1"/>
<rect x="215.93" y="411.43" width="5.94" height="5.94" fill="none" stroke="#1a1a1a" stroke-width="1.10"/>
<path d="M219.20,386.40 L222.50,383.10 L225.80,386.40 L222.50,389.70 Z" fill="none" stroke="#b08428" stroke-width="1.1"/><rect x="221.18" y="385.08" width="2.64" height="2.64" fill="#b08428"/>
<path d="M223.30,386.40 L224.95,383.53 L228.25,383.53 L229.90,386.40 L228.25,389.27 L224.95,389.27 Z" fill="none" stroke="#2a2a98" stroke-width="1.10" stroke-linejoin="miter"/><path d="M223.30,386.40 H229.90 M224.95,383.53 L228.25,389.27 M228.25,383.53 L224.95,389.27" stroke="#2a2a98" stroke-width="0.88" fill="none"/>
<path d="M229.70,426.80 L233.00,423.50 L236.30,426.80 L233.00,430.10 Z" fill="none" stroke="#4a4ad0" stroke-width="1.1"/>
<path d="M233.30,422.70 L234.95,420.06 L238.25,420.06 L239.90,422.70 L238.25,425.34 L234.95,425.34 Z" fill="none" stroke="#ee3322" stroke-width="1.1"/>
<path d="M237.40,435.52 L244.00,435.52 L240.70,441.46 Z" fill="none" stroke="#33bb22" stroke-width="1.1" stroke-linejoin="miter"/>
<circle cx="244.60" cy="438.50" r="3.04" fill="none" stroke="#b45ce0" stroke-width="1.1"/>
<path d="M244.60,441.08 L251.20,441.08 L247.90,435.14 Z" fill="none" stroke="#ff9a10" stroke-width="1.1"/>
<rect x="249.43" y="436.63" width="5.94" height="5.94" fill="none" stroke="#1a1a1a" stroke-width="1.10"/>
<path d="M253.60,428.80 L256.90,425.50 L260.20,428.80 L256.90,432.10 Z" fill="none" stroke="#b08428" stroke-width="1.1"/><rect x="255.58" y="427.48" width="2.64" height="2.64" fill="#b08428"/>
<path d="M257.00,431.10 L258.65,428.23 L261.95,428.23 L263.60,431.10 L261.95,433.97 L258.65,433.97 Z" fill="none" stroke="#2a2a98" stroke-width="1.10" stroke-linejoin="miter"/><path d="M257.00,431.10 H263.60 M258.65,428.23 L261.95,433.97 M261.95,428.23 L258.65,433.97" stroke="#2a2a98" stroke-width="0.88" fill="none"/>
<path d="M62.5,338.20000000000005 V445.09000000000003 H263.2" fill="none" stroke="#000" stroke-width="1.8"/>
<line x1="54.6" y1="339.10" x2="62.5" y2="339.10" stroke="#000" stroke-width="1.75"/>
<text x="0" y="0" font-size="9.6" text-anchor="end" font-weight="bold" transform="translate(52.90 342.65) scale(1 1.1)">10<tspan font-size="7.4" dy="-3.1" font-weight="normal">2</tspan></text>
<line x1="54.6" y1="374.43" x2="62.5" y2="374.43" stroke="#000" stroke-width="1.75"/>
<text x="0" y="0" font-size="9.6" text-anchor="end" font-weight="bold" transform="translate(52.90 377.98) scale(1 1.1)">10<tspan font-size="7.4" dy="-3.1" font-weight="normal">1</tspan></text>
<line x1="54.6" y1="409.76" x2="62.5" y2="409.76" stroke="#000" stroke-width="1.75"/>
<text x="0" y="0" font-size="9.6" text-anchor="end" font-weight="bold" transform="translate(52.90 413.31) scale(1 1.1)">10<tspan font-size="7.4" dy="-3.1" font-weight="normal">0</tspan></text>
<line x1="54.6" y1="445.09" x2="62.5" y2="445.09" stroke="#000" stroke-width="1.75"/>
<text x="0" y="0" font-size="9.6" text-anchor="end" font-weight="bold" transform="translate(52.90 448.64) scale(1 1.1)">10<tspan font-size="7.4" dy="-3.1" font-weight="normal">-1</tspan></text>
<line x1="78.1" y1="445.09000000000003" x2="78.1" y2="452.39000000000004" stroke="#000" stroke-width="1.75"/>
<text x="81.10" y="461.39" font-size="9.9" text-anchor="end" font-weight="bold" fill="#000" transform="rotate(-45 81.10 461.39)">047-09_4F04</text>
<line x1="111.9" y1="445.09000000000003" x2="111.9" y2="452.39000000000004" stroke="#000" stroke-width="1.75"/>
<text x="114.90" y="461.39" font-size="9.9" text-anchor="end" font-weight="bold" fill="#000" transform="rotate(-45 114.90 461.39)">241_2F04</text>
<line x1="145.9" y1="445.09000000000003" x2="145.9" y2="452.39000000000004" stroke="#000" stroke-width="1.75"/>
<text x="148.90" y="461.39" font-size="9.9" text-anchor="end" font-weight="bold" fill="#000" transform="rotate(-45 148.90 461.39)">346-54</text>
<line x1="179.3" y1="445.09000000000003" x2="179.3" y2="452.39000000000004" stroke="#000" stroke-width="1.75"/>
<text x="182.30" y="461.39" font-size="9.9" text-anchor="end" font-weight="bold" fill="#000" transform="rotate(-45 182.30 461.39)">222-1C06</text>
<line x1="212.8" y1="445.09000000000003" x2="212.8" y2="452.39000000000004" stroke="#000" stroke-width="1.75"/>
<text x="215.80" y="461.39" font-size="9.9" text-anchor="end" font-weight="bold" fill="#000" transform="rotate(-45 215.80 461.39)">SFV009_3G01</text>
<line x1="246.5" y1="445.09000000000003" x2="246.5" y2="452.39000000000004" stroke="#000" stroke-width="1.75"/>
<text x="249.50" y="461.39" font-size="9.9" text-anchor="end" font-weight="bold" fill="#000" transform="rotate(-45 249.50 461.39)">FI6v3</text>
<text x="32.4" y="391.1" font-size="9.4" text-anchor="middle" font-weight="bold" transform="rotate(-90 32.4 391.1)">IC<tspan font-size="6.6" dy="2.4">50</tspan><tspan dy="-2.4" font-weight="normal"> μ</tspan>g/ml</text>
<path d="M275.40,313.20 L278.50,310.10 L281.60,313.20 L278.50,316.30 Z" fill="none" stroke="#4a4ad0" stroke-width="1.05"/>
<text x="297.00" y="316.30" font-size="9.3" text-anchor="start" font-weight="normal" fill="#000" >1934</text>
<path d="M275.40,333.10 L276.95,330.62 L280.05,330.62 L281.60,333.10 L280.05,335.58 L276.95,335.58 Z" fill="none" stroke="#ee3322" stroke-width="1.05"/>
<text x="297.00" y="336.20" font-size="9.3" text-anchor="start" font-weight="normal" fill="#000" >1943</text>
<path d="M275.40,351.97 L281.60,351.97 L278.50,357.55 Z" fill="none" stroke="#33bb22" stroke-width="1.05" stroke-linejoin="miter"/>
<text x="297.00" y="357.30" font-size="9.3" text-anchor="start" font-weight="normal" fill="#000" >1977</text>
<circle cx="278.50" cy="376.30" r="2.85" fill="none" stroke="#b45ce0" stroke-width="1.05"/>
<text x="297.00" y="379.40" font-size="9.3" text-anchor="start" font-weight="normal" fill="#000" >1995</text>
<path d="M275.40,401.43 L281.60,401.43 L278.50,395.85 Z" fill="none" stroke="#ff9a10" stroke-width="1.05"/>
<text x="297.00" y="402.30" font-size="9.3" text-anchor="start" font-weight="normal" fill="#000" >2006</text>
<rect x="275.71" y="418.71" width="5.58" height="5.58" fill="none" stroke="#1a1a1a" stroke-width="1.05"/>
<text x="297.00" y="424.60" font-size="9.3" text-anchor="start" font-weight="normal" fill="#000" >2009</text>
<path d="M275.40,443.90 L278.50,440.80 L281.60,443.90 L278.50,447.00 Z" fill="none" stroke="#b08428" stroke-width="1.05"/><rect x="277.26" y="442.66" width="2.48" height="2.48" fill="#b08428"/>
<text x="297.00" y="447.00" font-size="9.3" text-anchor="start" font-weight="normal" fill="#000" >2015</text>
<path d="M275.40,466.10 L276.95,463.40 L280.05,463.40 L281.60,466.10 L280.05,468.80 L276.95,468.80 Z" fill="none" stroke="#2a2a98" stroke-width="1.05" stroke-linejoin="miter"/><path d="M275.40,466.10 H281.60 M276.95,463.40 L280.05,468.80 M280.05,463.40 L276.95,468.80" stroke="#2a2a98" stroke-width="0.84" fill="none"/>
<text x="297.00" y="469.20" font-size="9.3" text-anchor="start" font-weight="normal" fill="#000" >2019</text>
<text x="338.00" y="305.90" font-size="10" text-anchor="start" font-weight="normal" fill="#000" >d</text>
<text x="402.00" y="310.00" font-size="8.9" text-anchor="middle" font-weight="bold" fill="#000" >HA1</text>
<text x="564.10" y="309.80" font-size="8.9" text-anchor="middle" font-weight="bold" fill="#000" >HA2</text>
<line x1="358.3" y1="312.3" x2="443.2" y2="312.3" stroke="#000" stroke-width="1.1"/>
<line x1="451.0" y1="312.3" x2="678.0" y2="312.3" stroke="#000" stroke-width="1.1"/>
<text x="366.65" y="329.0" font-size="8.6" transform="rotate(-90 366.65 329.0)">11</text>
<text x="374.20" y="329.0" font-size="8.6" transform="rotate(-90 374.20 329.0)">12</text>
<text x="381.75" y="329.0" font-size="8.6" transform="rotate(-90 381.75 329.0)">14</text>
<text x="389.30" y="329.0" font-size="8.6" transform="rotate(-90 389.30 329.0)">15</text>
<text x="396.85" y="329.0" font-size="8.6" transform="rotate(-90 396.85 329.0)">16</text>
<text x="404.40" y="329.0" font-size="8.6" transform="rotate(-90 404.40 329.0)">323</text>
<text x="411.95" y="329.0" font-size="8.6" transform="rotate(-90 411.95 329.0)">324</text>
<text x="419.50" y="329.0" font-size="8.6" transform="rotate(-90 419.50 329.0)">325</text>
<text x="427.05" y="329.0" font-size="8.6" transform="rotate(-90 427.05 329.0)">326</text>
<text x="434.60" y="329.0" font-size="8.6" transform="rotate(-90 434.60 329.0)">327</text>
<text x="442.15" y="329.0" font-size="8.6" transform="rotate(-90 442.15 329.0)">328</text>
<text x="457.25" y="329.0" font-size="8.6" transform="rotate(-90 457.25 329.0)">11</text>
<text x="464.80" y="329.0" font-size="8.6" transform="rotate(-90 464.80 329.0)">12</text>
<text x="472.35" y="329.0" font-size="8.6" transform="rotate(-90 472.35 329.0)">13</text>
<text x="479.90" y="329.0" font-size="8.6" transform="rotate(-90 479.90 329.0)">14</text>
<text x="487.45" y="329.0" font-size="8.6" transform="rotate(-90 487.45 329.0)">15</text>
<text x="495.00" y="329.0" font-size="8.6" transform="rotate(-90 495.00 329.0)">16</text>
<text x="502.55" y="329.0" font-size="8.6" transform="rotate(-90 502.55 329.0)">18</text>
<text x="510.10" y="329.0" font-size="8.6" transform="rotate(-90 510.10 329.0)">25</text>
<text x="517.65" y="329.0" font-size="8.6" transform="rotate(-90 517.65 329.0)">26</text>
<text x="525.20" y="329.0" font-size="8.6" transform="rotate(-90 525.20 329.0)">27</text>
<text x="532.75" y="329.0" font-size="8.6" transform="rotate(-90 532.75 329.0)">28</text>
<text x="540.30" y="329.0" font-size="8.6" transform="rotate(-90 540.30 329.0)">29</text>
<text x="547.85" y="329.0" font-size="8.6" transform="rotate(-90 547.85 329.0)">30</text>
<text x="555.40" y="329.0" font-size="8.6" transform="rotate(-90 555.40 329.0)">31</text>
<text x="562.95" y="329.0" font-size="8.6" transform="rotate(-90 562.95 329.0)">32</text>
<text x="570.50" y="329.0" font-size="8.6" transform="rotate(-90 570.50 329.0)">33</text>
<text x="578.05" y="329.0" font-size="8.6" transform="rotate(-90 578.05 329.0)">34</text>
<text x="585.60" y="329.0" font-size="8.6" transform="rotate(-90 585.60 329.0)">131</text>
<text x="593.15" y="329.0" font-size="8.6" transform="rotate(-90 593.15 329.0)">133</text>
<text x="600.70" y="329.0" font-size="8.6" transform="rotate(-90 600.70 329.0)">134</text>
<text x="608.25" y="329.0" font-size="8.6" transform="rotate(-90 608.25 329.0)">135</text>
<text x="615.80" y="329.0" font-size="8.6" transform="rotate(-90 615.80 329.0)">137</text>
<text x="623.35" y="329.0" font-size="8.6" transform="rotate(-90 623.35 329.0)">138</text>
<text x="630.90" y="329.0" font-size="8.6" transform="rotate(-90 630.90 329.0)">139</text>
<text x="638.45" y="329.0" font-size="8.6" transform="rotate(-90 638.45 329.0)">140</text>
<text x="646.00" y="329.0" font-size="8.6" transform="rotate(-90 646.00 329.0)">141</text>
<text x="653.55" y="329.0" font-size="8.6" transform="rotate(-90 653.55 329.0)">142</text>
<text x="661.10" y="329.0" font-size="8.6" transform="rotate(-90 661.10 329.0)">143</text>
<text x="668.65" y="329.0" font-size="8.6" transform="rotate(-90 668.65 329.0)">169</text>
<text x="676.20" y="329.0" font-size="8.6" transform="rotate(-90 676.20 329.0)">173</text>
<text x="0" y="0" font-size="11.0" text-anchor="middle" style="font-family:'Liberation Mono',monospace" fill="#111" transform="translate(364.60 341.60) scale(0.80 1)">D</text>
<text x="0" y="0" font-size="11.0" text-anchor="middle" style="font-family:'Liberation Mono',monospace" fill="#111" transform="translate(372.15 341.60) scale(0.80 1)">T</text>
<text x="0" y="0" font-size="11.0" text-anchor="middle" style="font-family:'Liberation Mono',monospace" fill="#111" transform="translate(379.70 341.60) scale(0.80 1)">C</text>
<text x="0" y="0" font-size="11.0" text-anchor="middle" style="font-family:'Liberation Mono',monospace" fill="#111" transform="translate(387.25 341.60) scale(0.80 1)">I</text>
<text x="0" y="0" font-size="11.0" text-anchor="middle" style="font-family:'Liberation Mono',monospace" fill="#111" transform="translate(394.80 341.60) scale(0.80 1)">G</text>
<text x="0" y="0" font-size="11.0" text-anchor="middle" style="font-family:'Liberation Mono',monospace" fill="#111" transform="translate(402.35 341.60) scale(0.80 1)">I</text>
<text x="0" y="0" font-size="11.0" text-anchor="middle" style="font-family:'Liberation Mono',monospace" fill="#111" transform="translate(409.90 341.60) scale(0.80 1)">P</text>
<text x="0" y="0" font-size="11.0" text-anchor="middle" style="font-family:'Liberation Mono',monospace" fill="#111" transform="translate(417.45 341.60) scale(0.80 1)">S</text>
<text x="0" y="0" font-size="11.0" text-anchor="middle" style="font-family:'Liberation Mono',monospace" fill="#111" transform="translate(425.00 341.60) scale(0.80 1)">I</text>
<text x="0" y="0" font-size="11.0" text-anchor="middle" style="font-family:'Liberation Mono',monospace" fill="#111" transform="translate(432.55 341.60) scale(0.80 1)">Q</text>
<text x="0" y="0" font-size="11.0" text-anchor="middle" style="font-family:'Liberation Mono',monospace" fill="#111" transform="translate(440.10 341.60) scale(0.80 1)">S</text>
<text x="0" y="0" font-size="11.0" text-anchor="middle" style="font-family:'Liberation Mono',monospace" fill="#111" transform="translate(455.20 341.60) scale(0.80 1)">E</text>
<text x="0" y="0" font-size="11.0" text-anchor="middle" style="font-family:'Liberation Mono',monospace" fill="#111" transform="translate(462.75 341.60) scale(0.80 1)">G</text>
<text x="0" y="0" font-size="11.0" text-anchor="middle" style="font-family:'Liberation Mono',monospace" fill="#111" transform="translate(470.30 341.60) scale(0.80 1)">G</text>
<text x="0" y="0" font-size="11.0" text-anchor="middle" style="font-family:'Liberation Mono',monospace" fill="#111" transform="translate(477.85 341.60) scale(0.80 1)">W</text>
<text x="0" y="0" font-size="11.0" text-anchor="middle" style="font-family:'Liberation Mono',monospace" fill="#111" transform="translate(485.40 341.60) scale(0.80 1)">T</text>
<text x="0" y="0" font-size="11.0" text-anchor="middle" style="font-family:'Liberation Mono',monospace" fill="#111" transform="translate(492.95 341.60) scale(0.80 1)">G</text>
<text x="0" y="0" font-size="11.0" text-anchor="middle" style="font-family:'Liberation Mono',monospace" fill="#111" transform="translate(500.50 341.60) scale(0.80 1)">I</text>
<text x="0" y="0" font-size="11.0" text-anchor="middle" style="font-family:'Liberation Mono',monospace" fill="#111" transform="translate(508.05 341.60) scale(0.80 1)">H</text>
<text x="0" y="0" font-size="11.0" text-anchor="middle" style="font-family:'Liberation Mono',monospace" fill="#111" transform="translate(515.60 341.60) scale(0.80 1)">H</text>
<text x="0" y="0" font-size="11.0" text-anchor="middle" style="font-family:'Liberation Mono',monospace" fill="#111" transform="translate(523.15 341.60) scale(0.80 1)">Q</text>
<text x="0" y="0" font-size="11.0" text-anchor="middle" style="font-family:'Liberation Mono',monospace" fill="#111" transform="translate(530.70 341.60) scale(0.80 1)">N</text>
<text x="0" y="0" font-size="11.0" text-anchor="middle" style="font-family:'Liberation Mono',monospace" fill="#111" transform="translate(538.25 341.60) scale(0.80 1)">E</text>
<text x="0" y="0" font-size="11.0" text-anchor="middle" style="font-family:'Liberation Mono',monospace" fill="#111" transform="translate(545.80 341.60) scale(0.80 1)">Q</text>
<text x="0" y="0" font-size="11.0" text-anchor="middle" style="font-family:'Liberation Mono',monospace" fill="#111" transform="translate(553.35 341.60) scale(0.80 1)">G</text>
<text x="0" y="0" font-size="11.0" text-anchor="middle" style="font-family:'Liberation Mono',monospace" fill="#111" transform="translate(560.90 341.60) scale(0.80 1)">S</text>
<text x="0" y="0" font-size="11.0" text-anchor="middle" style="font-family:'Liberation Mono',monospace" fill="#111" transform="translate(568.45 341.60) scale(0.80 1)">G</text>
<text x="0" y="0" font-size="11.0" text-anchor="middle" style="font-family:'Liberation Mono',monospace" fill="#111" transform="translate(576.00 341.60) scale(0.80 1)">Y</text>
<text x="0" y="0" font-size="11.0" text-anchor="middle" style="font-family:'Liberation Mono',monospace" fill="#111" transform="translate(583.55 341.60) scale(0.80 1)">K</text>
<text x="0" y="0" font-size="11.0" text-anchor="middle" style="font-family:'Liberation Mono',monospace" fill="#111" transform="translate(591.10 341.60) scale(0.80 1)">I</text>
<text x="0" y="0" font-size="11.0" text-anchor="middle" style="font-family:'Liberation Mono',monospace" fill="#111" transform="translate(598.65 341.60) scale(0.80 1)">G</text>
<text x="0" y="0" font-size="11.0" text-anchor="middle" style="font-family:'Liberation Mono',monospace" fill="#111" transform="translate(606.20 341.60) scale(0.80 1)">N</text>
<text x="0" y="0" font-size="11.0" text-anchor="middle" style="font-family:'Liberation Mono',monospace" fill="#111" transform="translate(613.75 341.60) scale(0.80 1)">C</text>
<text x="0" y="0" font-size="11.0" text-anchor="middle" style="font-family:'Liberation Mono',monospace" fill="#111" transform="translate(621.30 341.60) scale(0.80 1)">F</text>
<text x="0" y="0" font-size="11.0" text-anchor="middle" style="font-family:'Liberation Mono',monospace" fill="#111" transform="translate(628.85 341.60) scale(0.80 1)">E</text>
<text x="0" y="0" font-size="11.0" text-anchor="middle" style="font-family:'Liberation Mono',monospace" fill="#111" transform="translate(636.40 341.60) scale(0.80 1)">F</text>
<text x="0" y="0" font-size="11.0" text-anchor="middle" style="font-family:'Liberation Mono',monospace" fill="#111" transform="translate(643.95 341.60) scale(0.80 1)">Y</text>
<text x="0" y="0" font-size="11.0" text-anchor="middle" style="font-family:'Liberation Mono',monospace" fill="#111" transform="translate(651.50 341.60) scale(0.80 1)">H</text>
<text x="0" y="0" font-size="11.0" text-anchor="middle" style="font-family:'Liberation Mono',monospace" fill="#111" transform="translate(659.05 341.60) scale(0.80 1)">K</text>
<text x="0" y="0" font-size="11.0" text-anchor="middle" style="font-family:'Liberation Mono',monospace" fill="#111" transform="translate(666.60 341.60) scale(0.80 1)">N</text>
<text x="0" y="0" font-size="11.0" text-anchor="middle" style="font-family:'Liberation Mono',monospace" fill="#111" transform="translate(674.15 341.60) scale(0.80 1)">V</text>
<rect x="363.80" y="357.65" width="1.6" height="1.6" fill="#111"/>
<rect x="371.35" y="357.65" width="1.6" height="1.6" fill="#111"/>
<rect x="378.90" y="357.65" width="1.6" height="1.6" fill="#111"/>
<rect x="386.45" y="357.65" width="1.6" height="1.6" fill="#111"/>
<rect x="394.00" y="357.65" width="1.6" height="1.6" fill="#111"/>
<rect x="401.55" y="357.65" width="1.6" height="1.6" fill="#111"/>
<rect x="409.10" y="357.65" width="1.6" height="1.6" fill="#111"/>
<rect x="416.65" y="357.65" width="1.6" height="1.6" fill="#111"/>
<rect x="424.20" y="357.65" width="1.6" height="1.6" fill="#111"/>
<rect x="431.75" y="357.65" width="1.6" height="1.6" fill="#111"/>
<rect x="439.30" y="357.65" width="1.6" height="1.6" fill="#111"/>
<rect x="446.85" y="357.65" width="1.6" height="1.6" fill="#111"/>
<rect x="454.40" y="357.65" width="1.6" height="1.6" fill="#111"/>
<rect x="461.95" y="357.65" width="1.6" height="1.6" fill="#111"/>
<rect x="469.50" y="357.65" width="1.6" height="1.6" fill="#111"/>
<rect x="477.05" y="357.65" width="1.6" height="1.6" fill="#111"/>
<rect x="484.60" y="357.65" width="1.6" height="1.6" fill="#111"/>
<rect x="492.15" y="357.65" width="1.6" height="1.6" fill="#111"/>
<rect x="499.70" y="357.65" width="1.6" height="1.6" fill="#111"/>
<rect x="507.25" y="357.65" width="1.6" height="1.6" fill="#111"/>
<rect x="514.80" y="357.65" width="1.6" height="1.6" fill="#111"/>
<rect x="522.35" y="357.65" width="1.6" height="1.6" fill="#111"/>
<rect x="529.90" y="357.65" width="1.6" height="1.6" fill="#111"/>
<rect x="537.45" y="357.65" width="1.6" height="1.6" fill="#111"/>
<rect x="545.00" y="357.65" width="1.6" height="1.6" fill="#111"/>
<rect x="552.55" y="357.65" width="1.6" height="1.6" fill="#111"/>
<rect x="560.10" y="357.65" width="1.6" height="1.6" fill="#111"/>
<rect x="567.65" y="357.65" width="1.6" height="1.6" fill="#111"/>
<rect x="575.20" y="357.65" width="1.6" height="1.6" fill="#111"/>
<rect x="582.75" y="357.65" width="1.6" height="1.6" fill="#111"/>
<rect x="590.30" y="357.65" width="1.6" height="1.6" fill="#111"/>
<rect x="597.85" y="357.65" width="1.6" height="1.6" fill="#111"/>
<rect x="605.40" y="357.65" width="1.6" height="1.6" fill="#111"/>
<rect x="612.95" y="357.65" width="1.6" height="1.6" fill="#111"/>
<rect x="620.50" y="357.65" width="1.6" height="1.6" fill="#111"/>
<rect x="628.05" y="357.65" width="1.6" height="1.6" fill="#111"/>
<rect x="635.60" y="357.65" width="1.6" height="1.6" fill="#111"/>
<rect x="643.15" y="357.65" width="1.6" height="1.6" fill="#111"/>
<rect x="650.70" y="357.65" width="1.6" height="1.6" fill="#111"/>
<rect x="658.25" y="357.65" width="1.6" height="1.6" fill="#111"/>
<rect x="665.80" y="357.65" width="1.6" height="1.6" fill="#111"/>
<text x="0" y="0" font-size="11.0" text-anchor="middle" style="font-family:'Liberation Mono',monospace" fill="#111" transform="translate(674.15 359.10) scale(0.80 1)">I</text>
<rect x="363.80" y="375.15" width="1.6" height="1.6" fill="#111"/>
<rect x="371.35" y="375.15" width="1.6" height="1.6" fill="#111"/>
<rect x="378.90" y="375.15" width="1.6" height="1.6" fill="#111"/>
<rect x="386.45" y="375.15" width="1.6" height="1.6" fill="#111"/>
<rect x="394.00" y="375.15" width="1.6" height="1.6" fill="#111"/>
<rect x="401.55" y="375.15" width="1.6" height="1.6" fill="#111"/>
<rect x="409.10" y="375.15" width="1.6" height="1.6" fill="#111"/>
<rect x="416.65" y="375.15" width="1.6" height="1.6" fill="#111"/>
<rect x="424.20" y="375.15" width="1.6" height="1.6" fill="#111"/>
<rect x="431.75" y="375.15" width="1.6" height="1.6" fill="#111"/>
<rect x="439.30" y="375.15" width="1.6" height="1.6" fill="#111"/>
<rect x="446.85" y="375.15" width="1.6" height="1.6" fill="#111"/>
<rect x="454.40" y="375.15" width="1.6" height="1.6" fill="#111"/>
<rect x="461.95" y="375.15" width="1.6" height="1.6" fill="#111"/>
<rect x="469.50" y="375.15" width="1.6" height="1.6" fill="#111"/>
<rect x="477.05" y="375.15" width="1.6" height="1.6" fill="#111"/>
<rect x="484.60" y="375.15" width="1.6" height="1.6" fill="#111"/>
<rect x="492.15" y="375.15" width="1.6" height="1.6" fill="#111"/>
<rect x="499.70" y="375.15" width="1.6" height="1.6" fill="#111"/>
<rect x="507.25" y="375.15" width="1.6" height="1.6" fill="#111"/>
<rect x="514.80" y="375.15" width="1.6" height="1.6" fill="#111"/>
<rect x="522.35" y="375.15" width="1.6" height="1.6" fill="#111"/>
<rect x="529.90" y="375.15" width="1.6" height="1.6" fill="#111"/>
<rect x="537.45" y="375.15" width="1.6" height="1.6" fill="#111"/>
<rect x="545.00" y="375.15" width="1.6" height="1.6" fill="#111"/>
<rect x="552.55" y="375.15" width="1.6" height="1.6" fill="#111"/>
<rect x="560.10" y="375.15" width="1.6" height="1.6" fill="#111"/>
<rect x="567.65" y="375.15" width="1.6" height="1.6" fill="#111"/>
<rect x="575.20" y="375.15" width="1.6" height="1.6" fill="#111"/>
<rect x="582.75" y="375.15" width="1.6" height="1.6" fill="#111"/>
<rect x="590.30" y="375.15" width="1.6" height="1.6" fill="#111"/>
<rect x="597.85" y="375.15" width="1.6" height="1.6" fill="#111"/>
<rect x="605.40" y="375.15" width="1.6" height="1.6" fill="#111"/>
<rect x="612.95" y="375.15" width="1.6" height="1.6" fill="#111"/>
<rect x="620.50" y="375.15" width="1.6" height="1.6" fill="#111"/>
<rect x="628.05" y="375.15" width="1.6" height="1.6" fill="#111"/>
<rect x="635.60" y="375.15" width="1.6" height="1.6" fill="#111"/>
<rect x="643.15" y="375.15" width="1.6" height="1.6" fill="#111"/>
<rect x="650.70" y="375.15" width="1.6" height="1.6" fill="#111"/>
<rect x="658.25" y="375.15" width="1.6" height="1.6" fill="#111"/>
<rect x="665.80" y="375.15" width="1.6" height="1.6" fill="#111"/>
<text x="0" y="0" font-size="11.0" text-anchor="middle" style="font-family:'Liberation Mono',monospace" fill="#111" transform="translate(674.15 376.60) scale(0.80 1)">I</text>
<rect x="363.80" y="392.65" width="1.6" height="1.6" fill="#111"/>
<rect x="371.35" y="392.65" width="1.6" height="1.6" fill="#111"/>
<rect x="378.90" y="392.65" width="1.6" height="1.6" fill="#111"/>
<rect x="386.45" y="392.65" width="1.6" height="1.6" fill="#111"/>
<rect x="394.00" y="392.65" width="1.6" height="1.6" fill="#111"/>
<rect x="401.55" y="392.65" width="1.6" height="1.6" fill="#111"/>
<rect x="409.10" y="392.65" width="1.6" height="1.6" fill="#111"/>
<rect x="416.65" y="392.65" width="1.6" height="1.6" fill="#111"/>
<rect x="424.20" y="392.65" width="1.6" height="1.6" fill="#111"/>
<rect x="431.75" y="392.65" width="1.6" height="1.6" fill="#111"/>
<rect x="439.30" y="392.65" width="1.6" height="1.6" fill="#111"/>
<rect x="446.85" y="392.65" width="1.6" height="1.6" fill="#111"/>
<rect x="454.40" y="392.65" width="1.6" height="1.6" fill="#111"/>
<rect x="461.95" y="392.65" width="1.6" height="1.6" fill="#111"/>
<rect x="469.50" y="392.65" width="1.6" height="1.6" fill="#111"/>
<rect x="477.05" y="392.65" width="1.6" height="1.6" fill="#111"/>
<rect x="484.60" y="392.65" width="1.6" height="1.6" fill="#111"/>
<rect x="492.15" y="392.65" width="1.6" height="1.6" fill="#111"/>
<text x="0" y="0" font-size="11.0" text-anchor="middle" style="font-family:'Liberation Mono',monospace" fill="#111" transform="translate(500.50 394.10) scale(0.80 1)">M</text>
<rect x="507.25" y="392.65" width="1.6" height="1.6" fill="#111"/>
<rect x="514.80" y="392.65" width="1.6" height="1.6" fill="#111"/>
<rect x="522.35" y="392.65" width="1.6" height="1.6" fill="#111"/>
<rect x="529.90" y="392.65" width="1.6" height="1.6" fill="#111"/>
<rect x="537.45" y="392.65" width="1.6" height="1.6" fill="#111"/>
<rect x="545.00" y="392.65" width="1.6" height="1.6" fill="#111"/>
<rect x="552.55" y="392.65" width="1.6" height="1.6" fill="#111"/>
<rect x="560.10" y="392.65" width="1.6" height="1.6" fill="#111"/>
<rect x="567.65" y="392.65" width="1.6" height="1.6" fill="#111"/>
<rect x="575.20" y="392.65" width="1.6" height="1.6" fill="#111"/>
<rect x="582.75" y="392.65" width="1.6" height="1.6" fill="#111"/>
<rect x="590.30" y="392.65" width="1.6" height="1.6" fill="#111"/>
<rect x="597.85" y="392.65" width="1.6" height="1.6" fill="#111"/>
<rect x="605.40" y="392.65" width="1.6" height="1.6" fill="#111"/>
<rect x="612.95" y="392.65" width="1.6" height="1.6" fill="#111"/>
<rect x="620.50" y="392.65" width="1.6" height="1.6" fill="#111"/>
<rect x="628.05" y="392.65" width="1.6" height="1.6" fill="#111"/>
<rect x="635.60" y="392.65" width="1.6" height="1.6" fill="#111"/>
<rect x="643.15" y="392.65" width="1.6" height="1.6" fill="#111"/>
<rect x="650.70" y="392.65" width="1.6" height="1.6" fill="#111"/>
<rect x="658.25" y="392.65" width="1.6" height="1.6" fill="#111"/>
<rect x="665.80" y="392.65" width="1.6" height="1.6" fill="#111"/>
<text x="0" y="0" font-size="11.0" text-anchor="middle" style="font-family:'Liberation Mono',monospace" fill="#111" transform="translate(674.15 394.10) scale(0.80 1)">I</text>
<rect x="363.80" y="410.15" width="1.6" height="1.6" fill="#111"/>
<rect x="371.35" y="410.15" width="1.6" height="1.6" fill="#111"/>
<rect x="378.90" y="410.15" width="1.6" height="1.6" fill="#111"/>
<rect x="386.45" y="410.15" width="1.6" height="1.6" fill="#111"/>
<rect x="394.00" y="410.15" width="1.6" height="1.6" fill="#111"/>
<rect x="401.55" y="410.15" width="1.6" height="1.6" fill="#111"/>
<rect x="409.10" y="410.15" width="1.6" height="1.6" fill="#111"/>
<rect x="416.65" y="410.15" width="1.6" height="1.6" fill="#111"/>
<rect x="424.20" y="410.15" width="1.6" height="1.6" fill="#111"/>
<rect x="431.75" y="410.15" width="1.6" height="1.6" fill="#111"/>
<rect x="439.30" y="410.15" width="1.6" height="1.6" fill="#111"/>
<rect x="446.85" y="410.15" width="1.6" height="1.6" fill="#111"/>
<rect x="454.40" y="410.15" width="1.6" height="1.6" fill="#111"/>
<rect x="461.95" y="410.15" width="1.6" height="1.6" fill="#111"/>
<rect x="469.50" y="410.15" width="1.6" height="1.6" fill="#111"/>
<rect x="477.05" y="410.15" width="1.6" height="1.6" fill="#111"/>
<rect x="484.60" y="410.15" width="1.6" height="1.6" fill="#111"/>
<rect x="492.15" y="410.15" width="1.6" height="1.6" fill="#111"/>
<text x="0" y="0" font-size="11.0" text-anchor="middle" style="font-family:'Liberation Mono',monospace" fill="#111" transform="translate(500.50 411.60) scale(0.80 1)">V</text>
<rect x="507.25" y="410.15" width="1.6" height="1.6" fill="#111"/>
<rect x="514.80" y="410.15" width="1.6" height="1.6" fill="#111"/>
<rect x="522.35" y="410.15" width="1.6" height="1.6" fill="#111"/>
<rect x="529.90" y="410.15" width="1.6" height="1.6" fill="#111"/>
<rect x="537.45" y="410.15" width="1.6" height="1.6" fill="#111"/>
<rect x="545.00" y="410.15" width="1.6" height="1.6" fill="#111"/>
<rect x="552.55" y="410.15" width="1.6" height="1.6" fill="#111"/>
<rect x="560.10" y="410.15" width="1.6" height="1.6" fill="#111"/>
<rect x="567.65" y="410.15" width="1.6" height="1.6" fill="#111"/>
<rect x="575.20" y="410.15" width="1.6" height="1.6" fill="#111"/>
<rect x="582.75" y="410.15" width="1.6" height="1.6" fill="#111"/>
<rect x="590.30" y="410.15" width="1.6" height="1.6" fill="#111"/>
<rect x="597.85" y="410.15" width="1.6" height="1.6" fill="#111"/>
<rect x="605.40" y="410.15" width="1.6" height="1.6" fill="#111"/>
<rect x="612.95" y="410.15" width="1.6" height="1.6" fill="#111"/>
<rect x="620.50" y="410.15" width="1.6" height="1.6" fill="#111"/>
<rect x="628.05" y="410.15" width="1.6" height="1.6" fill="#111"/>
<rect x="635.60" y="410.15" width="1.6" height="1.6" fill="#111"/>
<rect x="643.15" y="410.15" width="1.6" height="1.6" fill="#111"/>
<rect x="650.70" y="410.15" width="1.6" height="1.6" fill="#111"/>
<rect x="658.25" y="410.15" width="1.6" height="1.6" fill="#111"/>
<rect x="665.80" y="410.15" width="1.6" height="1.6" fill="#111"/>
<text x="0" y="0" font-size="11.0" text-anchor="middle" style="font-family:'Liberation Mono',monospace" fill="#111" transform="translate(674.15 411.60) scale(0.80 1)">I</text>
<rect x="363.80" y="427.65" width="1.6" height="1.6" fill="#111"/>
<rect x="371.35" y="427.65" width="1.6" height="1.6" fill="#111"/>
<text x="0" y="0" font-size="11.0" text-anchor="middle" style="font-family:'Liberation Mono',monospace" fill="#111" transform="translate(379.70 429.10) scale(0.80 1)">L</text>
<rect x="386.45" y="427.65" width="1.6" height="1.6" fill="#111"/>
<rect x="394.00" y="427.65" width="1.6" height="1.6" fill="#111"/>
<rect x="401.55" y="427.65" width="1.6" height="1.6" fill="#111"/>
<rect x="409.10" y="427.65" width="1.6" height="1.6" fill="#111"/>
<rect x="416.65" y="427.65" width="1.6" height="1.6" fill="#111"/>
<rect x="424.20" y="427.65" width="1.6" height="1.6" fill="#111"/>
<rect x="431.75" y="427.65" width="1.6" height="1.6" fill="#111"/>
<rect x="439.30" y="427.65" width="1.6" height="1.6" fill="#111"/>
<rect x="446.85" y="427.65" width="1.6" height="1.6" fill="#111"/>
<rect x="454.40" y="427.65" width="1.6" height="1.6" fill="#111"/>
<rect x="461.95" y="427.65" width="1.6" height="1.6" fill="#111"/>
<rect x="469.50" y="427.65" width="1.6" height="1.6" fill="#111"/>
<rect x="477.05" y="427.65" width="1.6" height="1.6" fill="#111"/>
<rect x="484.60" y="427.65" width="1.6" height="1.6" fill="#111"/>
<rect x="492.15" y="427.65" width="1.6" height="1.6" fill="#111"/>
<text x="0" y="0" font-size="11.0" text-anchor="middle" style="font-family:'Liberation Mono',monospace" fill="#111" transform="translate(500.50 429.10) scale(0.80 1)">V</text>
<rect x="507.25" y="427.65" width="1.6" height="1.6" fill="#111"/>
<rect x="514.80" y="427.65" width="1.6" height="1.6" fill="#111"/>
<rect x="522.35" y="427.65" width="1.6" height="1.6" fill="#111"/>
<rect x="529.90" y="427.65" width="1.6" height="1.6" fill="#111"/>
<rect x="537.45" y="427.65" width="1.6" height="1.6" fill="#111"/>
<rect x="545.00" y="427.65" width="1.6" height="1.6" fill="#111"/>
<rect x="552.55" y="427.65" width="1.6" height="1.6" fill="#111"/>
<rect x="560.10" y="427.65" width="1.6" height="1.6" fill="#111"/>
<rect x="567.65" y="427.65" width="1.6" height="1.6" fill="#111"/>
<rect x="575.20" y="427.65" width="1.6" height="1.6" fill="#111"/>
<rect x="582.75" y="427.65" width="1.6" height="1.6" fill="#111"/>
<rect x="590.30" y="427.65" width="1.6" height="1.6" fill="#111"/>
<rect x="597.85" y="427.65" width="1.6" height="1.6" fill="#111"/>
<rect x="605.40" y="427.65" width="1.6" height="1.6" fill="#111"/>
<rect x="612.95" y="427.65" width="1.6" height="1.6" fill="#111"/>
<rect x="620.50" y="427.65" width="1.6" height="1.6" fill="#111"/>
<rect x="628.05" y="427.65" width="1.6" height="1.6" fill="#111"/>
<rect x="635.60" y="427.65" width="1.6" height="1.6" fill="#111"/>
<rect x="643.15" y="427.65" width="1.6" height="1.6" fill="#111"/>
<rect x="650.70" y="427.65" width="1.6" height="1.6" fill="#111"/>
<rect x="658.25" y="427.65" width="1.6" height="1.6" fill="#111"/>
<rect x="665.80" y="427.65" width="1.6" height="1.6" fill="#111"/>
<text x="0" y="0" font-size="11.0" text-anchor="middle" style="font-family:'Liberation Mono',monospace" fill="#111" transform="translate(674.15 429.10) scale(0.80 1)">I</text>
<rect x="363.80" y="445.15" width="1.6" height="1.6" fill="#111"/>
<rect x="371.35" y="445.15" width="1.6" height="1.6" fill="#111"/>
<text x="0" y="0" font-size="11.0" text-anchor="middle" style="font-family:'Liberation Mono',monospace" fill="#111" transform="translate(379.70 446.60) scale(0.80 1)">L</text>
<rect x="386.45" y="445.15" width="1.6" height="1.6" fill="#111"/>
<rect x="394.00" y="445.15" width="1.6" height="1.6" fill="#111"/>
<rect x="401.55" y="445.15" width="1.6" height="1.6" fill="#111"/>
<text x="0" y="0" font-size="11.0" text-anchor="middle" style="font-family:'Liberation Mono',monospace" fill="#111" transform="translate(409.90 446.60) scale(0.80 1)">V</text>
<rect x="416.65" y="445.15" width="1.6" height="1.6" fill="#111"/>
<rect x="424.20" y="445.15" width="1.6" height="1.6" fill="#111"/>
<rect x="431.75" y="445.15" width="1.6" height="1.6" fill="#111"/>
<rect x="439.30" y="445.15" width="1.6" height="1.6" fill="#111"/>
<rect x="446.85" y="445.15" width="1.6" height="1.6" fill="#111"/>
<rect x="454.40" y="445.15" width="1.6" height="1.6" fill="#111"/>
<rect x="461.95" y="445.15" width="1.6" height="1.6" fill="#111"/>
<rect x="469.50" y="445.15" width="1.6" height="1.6" fill="#111"/>
<rect x="477.05" y="445.15" width="1.6" height="1.6" fill="#111"/>
<rect x="484.60" y="445.15" width="1.6" height="1.6" fill="#111"/>
<rect x="492.15" y="445.15" width="1.6" height="1.6" fill="#111"/>
<text x="0" y="0" font-size="11.0" text-anchor="middle" style="font-family:'Liberation Mono',monospace" fill="#111" transform="translate(500.50 446.60) scale(0.80 1)">V</text>
<rect x="507.25" y="445.15" width="1.6" height="1.6" fill="#111"/>
<rect x="514.80" y="445.15" width="1.6" height="1.6" fill="#111"/>
<rect x="522.35" y="445.15" width="1.6" height="1.6" fill="#111"/>
<rect x="529.90" y="445.15" width="1.6" height="1.6" fill="#111"/>
<rect x="537.45" y="445.15" width="1.6" height="1.6" fill="#111"/>
<rect x="545.00" y="445.15" width="1.6" height="1.6" fill="#111"/>
<rect x="552.55" y="445.15" width="1.6" height="1.6" fill="#111"/>
<rect x="560.10" y="445.15" width="1.6" height="1.6" fill="#111"/>
<rect x="567.65" y="445.15" width="1.6" height="1.6" fill="#111"/>
<rect x="575.20" y="445.15" width="1.6" height="1.6" fill="#111"/>
<rect x="582.75" y="445.15" width="1.6" height="1.6" fill="#111"/>
<rect x="590.30" y="445.15" width="1.6" height="1.6" fill="#111"/>
<rect x="597.85" y="445.15" width="1.6" height="1.6" fill="#111"/>
<rect x="605.40" y="445.15" width="1.6" height="1.6" fill="#111"/>
<rect x="612.95" y="445.15" width="1.6" height="1.6" fill="#111"/>
<rect x="620.50" y="445.15" width="1.6" height="1.6" fill="#111"/>
<rect x="628.05" y="445.15" width="1.6" height="1.6" fill="#111"/>
<rect x="635.60" y="445.15" width="1.6" height="1.6" fill="#111"/>
<rect x="643.15" y="445.15" width="1.6" height="1.6" fill="#111"/>
<rect x="650.70" y="445.15" width="1.6" height="1.6" fill="#111"/>
<rect x="658.25" y="445.15" width="1.6" height="1.6" fill="#111"/>
<rect x="665.80" y="445.15" width="1.6" height="1.6" fill="#111"/>
<text x="0" y="0" font-size="11.0" text-anchor="middle" style="font-family:'Liberation Mono',monospace" fill="#111" transform="translate(674.15 446.60) scale(0.80 1)">I</text>
<rect x="363.80" y="462.65" width="1.6" height="1.6" fill="#111"/>
<rect x="371.35" y="462.65" width="1.6" height="1.6" fill="#111"/>
<text x="0" y="0" font-size="11.0" text-anchor="middle" style="font-family:'Liberation Mono',monospace" fill="#111" transform="translate(379.70 464.10) scale(0.80 1)">L</text>
<rect x="386.45" y="462.65" width="1.6" height="1.6" fill="#111"/>
<rect x="394.00" y="462.65" width="1.6" height="1.6" fill="#111"/>
<rect x="401.55" y="462.65" width="1.6" height="1.6" fill="#111"/>
<text x="0" y="0" font-size="11.0" text-anchor="middle" style="font-family:'Liberation Mono',monospace" fill="#111" transform="translate(409.90 464.10) scale(0.80 1)">V</text>
<rect x="416.65" y="462.65" width="1.6" height="1.6" fill="#111"/>
<rect x="424.20" y="462.65" width="1.6" height="1.6" fill="#111"/>
<rect x="431.75" y="462.65" width="1.6" height="1.6" fill="#111"/>
<rect x="439.30" y="462.65" width="1.6" height="1.6" fill="#111"/>
<rect x="446.85" y="462.65" width="1.6" height="1.6" fill="#111"/>
<rect x="454.40" y="462.65" width="1.6" height="1.6" fill="#111"/>
<rect x="461.95" y="462.65" width="1.6" height="1.6" fill="#111"/>
<rect x="469.50" y="462.65" width="1.6" height="1.6" fill="#111"/>
<rect x="477.05" y="462.65" width="1.6" height="1.6" fill="#111"/>
<rect x="484.60" y="462.65" width="1.6" height="1.6" fill="#111"/>
<rect x="492.15" y="462.65" width="1.6" height="1.6" fill="#111"/>
<text x="0" y="0" font-size="11.0" text-anchor="middle" style="font-family:'Liberation Mono',monospace" fill="#111" transform="translate(500.50 464.10) scale(0.80 1)">V</text>
<rect x="507.25" y="462.65" width="1.6" height="1.6" fill="#111"/>
<rect x="514.80" y="462.65" width="1.6" height="1.6" fill="#111"/>
<rect x="522.35" y="462.65" width="1.6" height="1.6" fill="#111"/>
<rect x="529.90" y="462.65" width="1.6" height="1.6" fill="#111"/>
<rect x="537.45" y="462.65" width="1.6" height="1.6" fill="#111"/>
<rect x="545.00" y="462.65" width="1.6" height="1.6" fill="#111"/>
<rect x="552.55" y="462.65" width="1.6" height="1.6" fill="#111"/>
<rect x="560.10" y="462.65" width="1.6" height="1.6" fill="#111"/>
<rect x="567.65" y="462.65" width="1.6" height="1.6" fill="#111"/>
<rect x="575.20" y="462.65" width="1.6" height="1.6" fill="#111"/>
<rect x="582.75" y="462.65" width="1.6" height="1.6" fill="#111"/>
<rect x="590.30" y="462.65" width="1.6" height="1.6" fill="#111"/>
<rect x="597.85" y="462.65" width="1.6" height="1.6" fill="#111"/>
<rect x="605.40" y="462.65" width="1.6" height="1.6" fill="#111"/>
<rect x="612.95" y="462.65" width="1.6" height="1.6" fill="#111"/>
<rect x="620.50" y="462.65" width="1.6" height="1.6" fill="#111"/>
<rect x="628.05" y="462.65" width="1.6" height="1.6" fill="#111"/>
<rect x="635.60" y="462.65" width="1.6" height="1.6" fill="#111"/>
<rect x="643.15" y="462.65" width="1.6" height="1.6" fill="#111"/>
<rect x="650.70" y="462.65" width="1.6" height="1.6" fill="#111"/>
<rect x="658.25" y="462.65" width="1.6" height="1.6" fill="#111"/>
<rect x="665.80" y="462.65" width="1.6" height="1.6" fill="#111"/>
<text x="0" y="0" font-size="11.0" text-anchor="middle" style="font-family:'Liberation Mono',monospace" fill="#111" transform="translate(674.15 464.10) scale(0.80 1)">I</text>
<path d="M344.90,339.00 L350.20,333.70 L355.50,339.00 L350.20,344.30 Z" fill="none" stroke="#3a3aff" stroke-width="1.3"/>
<path d="M344.90,358.60 L347.55,354.36 L352.85,354.36 L355.50,358.60 L352.85,362.84 L347.55,362.84 Z" fill="none" stroke="#ff2a2a" stroke-width="1.3"/>
<path d="M345.50,372.48 L356.10,372.48 L350.80,382.02 Z" fill="none" stroke="#78c040" stroke-width="1.3" stroke-linejoin="miter"/>
<circle cx="351.00" cy="394.00" r="4.88" fill="none" stroke="#c070e0" stroke-width="1.3"/>
<path d="M346.10,414.82 L356.70,414.82 L351.40,405.28 Z" fill="none" stroke="#f5b000" stroke-width="1.3"/>
<rect x="346.73" y="423.93" width="9.54" height="9.54" fill="none" stroke="#111111" stroke-width="1.30"/>
<path d="M346.70,445.50 L352.00,440.20 L357.30,445.50 L352.00,450.80 Z" fill="none" stroke="#c8a020" stroke-width="1.3"/><rect x="349.88" y="443.38" width="4.24" height="4.24" fill="#c8a020"/>
<path d="M346.70,462.60 L349.35,457.99 L354.65,457.99 L357.30,462.60 L354.65,467.21 L349.35,467.21 Z" fill="none" stroke="#3050a0" stroke-width="1.30" stroke-linejoin="miter"/><path d="M346.70,462.60 H357.30 M349.35,457.99 L354.65,467.21 M354.65,457.99 L349.35,467.21" stroke="#3050a0" stroke-width="1.04" fill="none"/>
</svg>
</body></html>
